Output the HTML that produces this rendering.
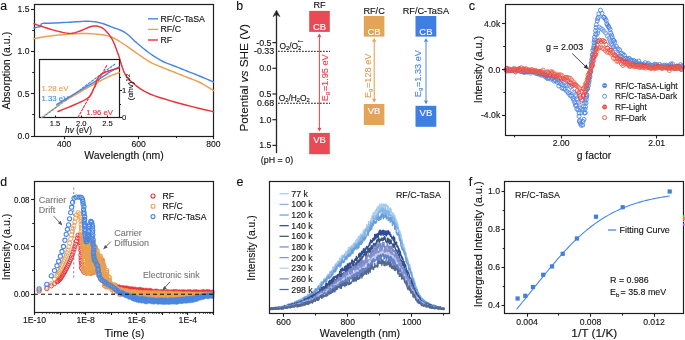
<!DOCTYPE html>
<html><head><meta charset="utf-8"><style>
html,body{margin:0;padding:0;background:#fff;}
svg{display:block;font-family:"Liberation Sans", sans-serif;will-change:transform;}
</style></head><body>
<svg width="685" height="340" viewBox="0 0 685 340">
<rect width="685" height="340" fill="#fff"/>
<text x="0.3" y="9.6" font-size="12.3" fill="#111" stroke="#111" stroke-width="0.12">a</text>
<rect x="34.5" y="4.5" width="179.0" height="132.0" fill="none" stroke="#1e1e1e" stroke-width="1.2"/>
<line x1="31" y1="9.5" x2="34" y2="9.5" stroke="#1e1e1e" stroke-width="1.1" />
<text x="29.5" y="9.1" font-size="8.6" text-anchor="end" dominant-baseline="central" fill="#111"  stroke="#111" stroke-width="0.12">1.5</text>
<line x1="31" y1="51.5" x2="34" y2="51.5" stroke="#1e1e1e" stroke-width="1.1" />
<text x="29.5" y="51.4" font-size="8.6" text-anchor="end" dominant-baseline="central" fill="#111"  stroke="#111" stroke-width="0.12">1.0</text>
<line x1="31" y1="93.5" x2="34" y2="93.5" stroke="#1e1e1e" stroke-width="1.1" />
<text x="29.5" y="93.7" font-size="8.6" text-anchor="end" dominant-baseline="central" fill="#111"  stroke="#111" stroke-width="0.12">0.5</text>
<line x1="31" y1="136.5" x2="34" y2="136.5" stroke="#1e1e1e" stroke-width="1.1" />
<text x="29.5" y="136.0" font-size="8.6" text-anchor="end" dominant-baseline="central" fill="#111"  stroke="#111" stroke-width="0.12">0.0</text>
<line x1="32.2" y1="30.5" x2="34" y2="30.5" stroke="#1e1e1e" stroke-width="1.1" />
<line x1="32.2" y1="72.5" x2="34" y2="72.5" stroke="#1e1e1e" stroke-width="1.1" />
<line x1="32.2" y1="114.5" x2="34" y2="114.5" stroke="#1e1e1e" stroke-width="1.1" />
<line x1="64.5" y1="136.2" x2="64.5" y2="139.2" stroke="#1e1e1e" stroke-width="1.1" />
<text x="64.2" y="143.5" font-size="8.6" text-anchor="middle" dominant-baseline="central" fill="#111"  stroke="#111" stroke-width="0.12">400</text>
<line x1="138.5" y1="136.2" x2="138.5" y2="139.2" stroke="#1e1e1e" stroke-width="1.1" />
<text x="138.6" y="143.5" font-size="8.6" text-anchor="middle" dominant-baseline="central" fill="#111"  stroke="#111" stroke-width="0.12">600</text>
<line x1="213.5" y1="136.2" x2="213.5" y2="139.2" stroke="#1e1e1e" stroke-width="1.1" />
<text x="213.4" y="143.5" font-size="8.6" text-anchor="middle" dominant-baseline="central" fill="#111"  stroke="#111" stroke-width="0.12">800</text>
<line x1="101.5" y1="136.2" x2="101.5" y2="138.0" stroke="#1e1e1e" stroke-width="1.1" />
<line x1="176.5" y1="136.2" x2="176.5" y2="138.0" stroke="#1e1e1e" stroke-width="1.1" />
<text x="124" y="155" font-size="10.5" text-anchor="middle" dominant-baseline="central" fill="#111"  stroke="#111" stroke-width="0.12">Wavelength (nm)</text>
<text x="5.8" y="70.7" font-size="10.5" text-anchor="middle" dominant-baseline="central" fill="#111" transform="rotate(-90 5.8 70.7)"  stroke="#111" stroke-width="0.12">Absorption (a.u.)</text>
<path d="M34.00,38.80 L35.58,38.49 L37.63,38.06 L40.12,37.56 L43.04,37.01 L46.34,36.48 L50.00,36.00 L54.31,35.53 L59.33,35.01 L64.75,34.51 L70.22,34.06 L75.42,33.71 L80.00,33.50 L84.00,33.44 L87.69,33.50 L91.09,33.66 L94.26,33.89 L97.22,34.18 L100.00,34.50 L102.52,34.83 L104.72,35.19 L106.72,35.59 L108.61,36.09 L110.50,36.72 L112.50,37.50 L114.58,38.48 L116.67,39.62 L118.75,40.89 L120.83,42.24 L122.92,43.63 L125.00,45.00 L127.08,46.39 L129.17,47.84 L131.25,49.33 L133.33,50.82 L135.42,52.31 L137.50,53.75 L139.58,55.19 L141.67,56.64 L143.75,58.08 L145.83,59.47 L147.92,60.79 L150.00,62.00 L152.08,63.08 L154.17,64.06 L156.25,64.95 L158.33,65.81 L160.42,66.64 L162.50,67.50 L164.58,68.36 L166.67,69.20 L168.75,70.03 L170.83,70.85 L172.92,71.67 L175.00,72.50 L177.08,73.33 L179.17,74.17 L181.25,75.00 L183.33,75.83 L185.42,76.67 L187.50,77.50 L189.57,78.30 L191.63,79.05 L193.68,79.81 L195.75,80.60 L197.85,81.49 L200.00,82.50 L202.36,83.76 L204.96,85.27 L207.58,86.86 L210.03,88.39 L212.11,89.68 L213.60,90.60" fill="none" stroke="#e9a050" stroke-width="1.45" stroke-linejoin="round" stroke-linecap="round" />
<path d="M34.00,28.00 L34.45,27.89 L35.09,27.72 L35.84,27.53 L36.63,27.33 L37.37,27.15 L38.00,27.00 L38.52,26.92 L38.98,26.89 L39.41,26.87 L39.80,26.83 L40.16,26.72 L40.50,26.50 L40.73,26.13 L40.83,25.62 L40.91,25.04 L41.06,24.47 L41.39,23.97 L42.00,23.60 L42.82,23.40 L43.74,23.30 L44.84,23.28 L46.20,23.29 L47.90,23.27 L50.00,23.20 L52.70,23.07 L55.96,22.91 L59.56,22.73 L63.26,22.55 L66.82,22.37 L70.00,22.20 L72.85,22.03 L75.56,21.84 L78.12,21.66 L80.56,21.49 L82.85,21.37 L85.00,21.30 L86.97,21.28 L88.74,21.30 L90.38,21.36 L91.93,21.46 L93.45,21.60 L95.00,21.80 L96.56,22.06 L98.09,22.37 L99.59,22.73 L101.07,23.12 L102.54,23.55 L104.00,24.00 L105.40,24.46 L106.72,24.95 L108.03,25.46 L109.39,26.02 L110.86,26.63 L112.50,27.30 L114.35,27.99 L116.37,28.68 L118.50,29.42 L120.69,30.27 L122.87,31.28 L125.00,32.50 L127.08,34.01 L129.17,35.77 L131.25,37.70 L133.33,39.69 L135.42,41.66 L137.50,43.50 L139.58,45.25 L141.67,46.99 L143.75,48.70 L145.83,50.37 L147.92,51.98 L150.00,53.50 L152.08,54.95 L154.17,56.35 L156.25,57.69 L158.33,58.95 L160.42,60.14 L162.50,61.25 L164.58,62.24 L166.67,63.12 L168.75,63.92 L170.83,64.69 L172.92,65.45 L175.00,66.25 L177.08,67.08 L179.17,67.92 L181.25,68.75 L183.33,69.58 L185.42,70.42 L187.50,71.25 L189.57,72.07 L191.63,72.89 L193.68,73.70 L195.75,74.53 L197.85,75.37 L200.00,76.25 L202.36,77.23 L204.96,78.32 L207.58,79.44 L210.03,80.48 L212.11,81.37 L213.60,82.00" fill="none" stroke="#4a86e0" stroke-width="1.45" stroke-linejoin="round" stroke-linecap="round" />
<path d="M34.00,23.80 L34.81,24.08 L35.89,24.45 L37.19,24.90 L38.67,25.40 L40.28,25.94 L42.00,26.50 L43.85,27.10 L45.89,27.78 L48.06,28.49 L50.33,29.20 L52.66,29.88 L55.00,30.50 L57.44,31.11 L60.04,31.74 L62.69,32.35 L65.30,32.87 L67.77,33.24 L70.00,33.40 L71.93,33.33 L73.63,33.08 L75.19,32.68 L76.70,32.17 L78.28,31.60 L80.00,31.00 L81.93,30.27 L84.00,29.37 L86.12,28.40 L88.22,27.47 L90.21,26.70 L92.00,26.20 L93.59,25.97 L95.04,25.93 L96.38,26.05 L97.63,26.29 L98.83,26.62 L100.00,27.00 L101.11,27.42 L102.13,27.91 L103.09,28.49 L104.04,29.18 L104.99,30.01 L106.00,31.00 L107.07,32.16 L108.17,33.46 L109.28,34.89 L110.39,36.47 L111.47,38.17 L112.50,40.00 L113.46,41.93 L114.35,43.97 L115.22,46.14 L116.09,48.47 L117.01,50.98 L118.00,53.70 L119.05,56.81 L120.11,60.33 L121.22,64.04 L122.39,67.70 L123.64,71.10 L125.00,74.00 L126.44,76.36 L127.93,78.33 L129.50,80.04 L131.19,81.59 L133.01,83.11 L135.00,84.70 L137.04,86.33 L139.07,87.90 L141.25,89.43 L143.70,90.94 L146.57,92.45 L150.00,94.00 L154.09,95.59 L158.76,97.20 L163.84,98.81 L169.18,100.41 L174.62,101.98 L180.00,103.50 L185.78,105.05 L192.18,106.66 L198.68,108.24 L204.76,109.69 L209.90,110.91 L213.60,111.80" fill="none" stroke="#e8333c" stroke-width="1.45" stroke-linejoin="round" stroke-linecap="round" />
<line x1="148" y1="18.8" x2="158" y2="18.8" stroke="#4a86e0" stroke-width="1.4" />
<text x="160.5" y="18.8" font-size="8.8" text-anchor="start" dominant-baseline="central" fill="#111"  stroke="#111" stroke-width="0.12">RF/C-TaSA</text>
<line x1="148" y1="29.4" x2="158" y2="29.4" stroke="#e9a050" stroke-width="1.4" />
<text x="160.5" y="29.4" font-size="8.8" text-anchor="start" dominant-baseline="central" fill="#111"  stroke="#111" stroke-width="0.12">RF/C</text>
<line x1="148" y1="40.0" x2="158" y2="40.0" stroke="#e8333c" stroke-width="1.4" />
<text x="160.5" y="40.0" font-size="8.8" text-anchor="start" dominant-baseline="central" fill="#111"  stroke="#111" stroke-width="0.12">RF</text>
<rect x="39.5" y="59.5" width="80.0" height="58.0" fill="#fff" stroke="#1e1e1e" stroke-width="1.2"/>
<line x1="55.5" y1="117.5" x2="55.5" y2="115.5" stroke="#1e1e1e" stroke-width="1.1" />
<text x="55" y="123" font-size="7.6" text-anchor="middle" dominant-baseline="central" fill="#111"  stroke="#111" stroke-width="0.12">1.5</text>
<line x1="81.5" y1="117.5" x2="81.5" y2="115.5" stroke="#1e1e1e" stroke-width="1.1" />
<text x="81.25" y="123" font-size="7.6" text-anchor="middle" dominant-baseline="central" fill="#111"  stroke="#111" stroke-width="0.12">2.0</text>
<line x1="107.5" y1="117.5" x2="107.5" y2="115.5" stroke="#1e1e1e" stroke-width="1.1" />
<text x="107.5" y="123" font-size="7.6" text-anchor="middle" dominant-baseline="central" fill="#111"  stroke="#111" stroke-width="0.12">2.5</text>
<line x1="119.5" y1="117.5" x2="122.0" y2="117.5" stroke="#1e1e1e" stroke-width="1.1" />
<text x="122" y="117.5" font-size="7.6" text-anchor="start" dominant-baseline="central" fill="#111"  stroke="#111" stroke-width="0.12">0</text>
<line x1="119.5" y1="90.5" x2="122.0" y2="90.5" stroke="#1e1e1e" stroke-width="1.1" />
<text x="122" y="90.5" font-size="7.6" text-anchor="start" dominant-baseline="central" fill="#111"  stroke="#111" stroke-width="0.12">1</text>
<line x1="119.5" y1="104.5" x2="121.0" y2="104.5" stroke="#1e1e1e" stroke-width="1.1" />
<line x1="119.5" y1="77.5" x2="121.0" y2="77.5" stroke="#1e1e1e" stroke-width="1.1" />
<text x="78.5" y="129.5" font-size="8.4" text-anchor="middle" dominant-baseline="central" fill="#111" stroke="#111" stroke-width="0.12"><tspan font-style="italic">hv</tspan> (eV)</text>
<text x="130.6" y="87" font-size="8.1" text-anchor="middle" dominant-baseline="central" fill="#111" transform="rotate(-90 130.6 87)" stroke="#111" stroke-width="0.12">(αhv)<tspan font-size="5.5" dy="-3">1/2</tspan></text>
<path d="M41.50,117.40 L58.00,105.50" fill="none" stroke="#e9a050" stroke-width="1.1" stroke-linejoin="round" stroke-linecap="round" stroke-dasharray="2.2,1.6"/>
<path d="M42.70,117.40 L116.00,63.30" fill="none" stroke="#4a86e0" stroke-width="1.1" stroke-linejoin="round" stroke-linecap="round" stroke-dasharray="2.2,1.6"/>
<path d="M78.00,117.40 L107.40,64.40" fill="none" stroke="#e8333c" stroke-width="1.1" stroke-linejoin="round" stroke-linecap="round" stroke-dasharray="2.2,1.6"/>
<path d="M56.80,105.60 L59.36,104.09 L62.93,101.98 L67.15,99.49 L71.64,96.84 L76.05,94.27 L80.00,92.00 L83.63,89.95 L87.27,87.92 L90.83,85.96 L94.19,84.13 L97.28,82.46 L100.00,81.00 L102.25,79.80 L104.10,78.83 L105.67,78.02 L107.10,77.33 L108.50,76.67 L110.00,76.00 L111.69,75.30 L113.47,74.62 L115.22,73.99 L116.84,73.42 L118.21,72.95 L119.20,72.60" fill="none" stroke="#e9a050" stroke-width="1.45" stroke-linejoin="round" stroke-linecap="round" />
<path d="M56.80,104.40 L59.36,102.87 L62.93,100.73 L67.15,98.20 L71.64,95.51 L76.05,92.87 L80.00,90.50 L83.63,88.33 L87.27,86.16 L90.83,84.04 L94.19,82.02 L97.28,80.16 L100.00,78.50 L102.25,77.08 L104.10,75.88 L105.67,74.83 L107.10,73.87 L108.50,72.94 L110.00,72.00 L111.69,71.00 L113.47,69.98 L115.22,68.99 L116.84,68.10 L118.21,67.35 L119.20,66.80" fill="none" stroke="#4a86e0" stroke-width="1.45" stroke-linejoin="round" stroke-linecap="round" />
<path d="M58.00,111.50 L59.89,110.74 L62.53,109.69 L65.65,108.44 L68.96,107.10 L72.17,105.75 L75.00,104.50 L77.56,103.35 L80.09,102.23 L82.53,101.10 L84.80,99.94 L86.85,98.72 L88.60,97.40 L89.98,95.99 L91.01,94.53 L91.82,92.99 L92.52,91.40 L93.21,89.73 L94.00,88.00 L94.83,86.10 L95.59,84.00 L96.35,81.84 L97.16,79.73 L98.09,77.81 L99.20,76.20 L100.51,74.93 L101.98,73.90 L103.56,73.05 L105.22,72.33 L106.92,71.66 L108.60,71.00 L110.42,70.34 L112.44,69.73 L114.49,69.17 L116.41,68.70 L118.03,68.30 L119.20,68.00" fill="none" stroke="#e8333c" stroke-width="1.45" stroke-linejoin="round" stroke-linecap="round" />
<text x="41.5" y="88.4" font-size="7.8" text-anchor="start" dominant-baseline="central" fill="#e9a050"  stroke="#e9a050" stroke-width="0.12">1.28 eV</text>
<text x="41.5" y="98.5" font-size="7.8" text-anchor="start" dominant-baseline="central" fill="#4a86e0"  stroke="#4a86e0" stroke-width="0.12">1.33 eV</text>
<text x="86.2" y="112.2" font-size="7.8" text-anchor="start" dominant-baseline="central" fill="#e8333c"  stroke="#e8333c" stroke-width="0.12">1.96 eV</text>
<text x="236.3" y="9.7" font-size="12.3" fill="#111" stroke="#111" stroke-width="0.12">b</text>
<line x1="276.5" y1="153.2" x2="276.5" y2="13" stroke="#2b2323" stroke-width="1.3" />
<path d="M276.5,10.2 L279.9,16.6 L276.5,14.6 L273.1,16.6 Z" fill="#2b2323" stroke="#2b2323" stroke-width="0.6" stroke-linejoin="round"/>
<line x1="272.4" y1="42.599999999999994" x2="276.5" y2="42.599999999999994" stroke="#2b2323" stroke-width="1.2" />
<text x="271.5" y="42.599999999999994" font-size="8.9" text-anchor="end" dominant-baseline="central" fill="#111"  stroke="#111" stroke-width="0.12">-0.5</text>
<line x1="272.4" y1="68.3" x2="276.5" y2="68.3" stroke="#2b2323" stroke-width="1.2" />
<text x="271.5" y="68.3" font-size="8.9" text-anchor="end" dominant-baseline="central" fill="#111"  stroke="#111" stroke-width="0.12">0.0</text>
<line x1="272.4" y1="94.0" x2="276.5" y2="94.0" stroke="#2b2323" stroke-width="1.2" />
<text x="271.5" y="94.0" font-size="8.9" text-anchor="end" dominant-baseline="central" fill="#111"  stroke="#111" stroke-width="0.12">0.5</text>
<line x1="272.4" y1="119.69999999999999" x2="276.5" y2="119.69999999999999" stroke="#2b2323" stroke-width="1.2" />
<text x="271.5" y="119.69999999999999" font-size="8.9" text-anchor="end" dominant-baseline="central" fill="#111"  stroke="#111" stroke-width="0.12">1.0</text>
<line x1="272.4" y1="145.39999999999998" x2="276.5" y2="145.39999999999998" stroke="#2b2323" stroke-width="1.2" />
<text x="271.5" y="145.39999999999998" font-size="8.9" text-anchor="end" dominant-baseline="central" fill="#111"  stroke="#111" stroke-width="0.12">1.5</text>
<text x="274.2" y="51.337999999999994" font-size="8.9" text-anchor="end" dominant-baseline="central" fill="#111"  stroke="#111" stroke-width="0.12">-0.33</text>
<text x="274.2" y="103.252" font-size="8.9" text-anchor="end" dominant-baseline="central" fill="#111"  stroke="#111" stroke-width="0.12">0.68</text>
<line x1="278" y1="51.337999999999994" x2="330" y2="51.337999999999994" stroke="#222" stroke-width="1.0" stroke-dasharray="1.8,1.2"/>
<line x1="278" y1="103.252" x2="330" y2="103.252" stroke="#222" stroke-width="1.0" stroke-dasharray="1.8,1.2"/>
<text x="279.4" y="45.6" font-size="8.4" dominant-baseline="central" fill="#111" stroke="#111" stroke-width="0.12">O<tspan font-size="5.8" dy="2">2</tspan><tspan dy="-2">/O</tspan><tspan font-size="5.8" dy="2">2</tspan><tspan font-size="6" dx="-3.4" dy="-6.2">•−</tspan></text>
<text x="278.7" y="98" font-size="8.4" dominant-baseline="central" fill="#111" stroke="#111" stroke-width="0.12">O<tspan font-size="5.8" dy="2">2</tspan><tspan dy="-2">/H</tspan><tspan font-size="5.8" dy="2">2</tspan><tspan dy="-2">O</tspan><tspan font-size="5.8" dy="2">2</tspan></text>
<text x="277" y="159.8" font-size="8.9" text-anchor="middle" dominant-baseline="central" fill="#111"  stroke="#111" stroke-width="0.12">(pH = 0)</text>
<text x="244.3" y="77.8" font-size="11.8" text-anchor="middle" dominant-baseline="central" fill="#111" transform="rotate(-90 244.3 77.8)"  stroke="#111" stroke-width="0.12">Potential <tspan font-style="italic">vs</tspan> SHE (V)</text>
<text x="319.5" y="5.3" font-size="9.2" text-anchor="middle" dominant-baseline="central" fill="#111"  stroke="#111" stroke-width="0.12">RF</text>
<rect x="309.2" y="10.9" width="20.600000000000023" height="21.0" fill="#e94a56"/>
<rect x="309.2" y="132.9" width="20.600000000000023" height="21.299999999999983" fill="#e94a56"/>
<text x="319.5" y="26.1" font-size="9.5" text-anchor="middle" dominant-baseline="central" fill="#fff"  stroke="#fff" stroke-width="0.12">CB</text>
<text x="319.5" y="139.5" font-size="9.5" text-anchor="middle" dominant-baseline="central" fill="#fff"  stroke="#fff" stroke-width="0.12">VB</text>
<line x1="319.4" y1="35.4" x2="319.4" y2="129.4" stroke="#e8414c" stroke-width="1.0" />
<path d="M319.4,33.4 L321.59999999999997,37.4 L319.4,36.6 L317.2,37.4 Z" fill="#e8414c"/>
<path d="M319.4,131.4 L321.59999999999997,127.4 L319.4,128.20000000000002 L317.2,127.4 Z" fill="#e8414c"/>
<text x="325.4" y="77.8" font-size="9.2" text-anchor="middle" dominant-baseline="central" fill="#e8414c" transform="rotate(-90 325.4 77.8)" stroke="#e8414c" stroke-width="0.12">E<tspan font-size="6" dy="2">g</tspan><tspan dx="0.6" dy="-2">=1.95 eV</tspan></text>
<text x="374.1" y="10.5" font-size="9.2" text-anchor="middle" dominant-baseline="central" fill="#111"  stroke="#111" stroke-width="0.12">RF/C</text>
<rect x="363.8" y="16" width="20.599999999999966" height="20.6" fill="#e3a458"/>
<rect x="363.8" y="104" width="20.599999999999966" height="21" fill="#e3a458"/>
<text x="374.1" y="31.2" font-size="9.5" text-anchor="middle" dominant-baseline="central" fill="#fff"  stroke="#fff" stroke-width="0.12">CB</text>
<text x="374.1" y="110.6" font-size="9.5" text-anchor="middle" dominant-baseline="central" fill="#fff"  stroke="#fff" stroke-width="0.12">VB</text>
<line x1="374.2" y1="40.1" x2="374.2" y2="100.5" stroke="#e39c4a" stroke-width="1.0" />
<path d="M374.2,38.1 L376.4,42.1 L374.2,41.300000000000004 L372.0,42.1 Z" fill="#e39c4a"/>
<path d="M374.2,102.5 L376.4,98.5 L374.2,99.3 L372.0,98.5 Z" fill="#e39c4a"/>
<text x="367.7" y="75.8" font-size="9.2" text-anchor="middle" dominant-baseline="central" fill="#e39c4a" transform="rotate(-90 367.7 75.8)" stroke="#e39c4a" stroke-width="0.12">E<tspan font-size="6" dy="2">g</tspan><tspan dx="0.6" dy="-2">=128 eV</tspan></text>
<text x="425.9" y="10.5" font-size="9.2" text-anchor="middle" dominant-baseline="central" fill="#111"  stroke="#111" stroke-width="0.12">RF/C-TaSA</text>
<rect x="415.5" y="16" width="20.80000000000001" height="20.6" fill="#3f7fe4"/>
<rect x="415.5" y="105.8" width="20.80000000000001" height="21.0" fill="#3f7fe4"/>
<text x="425.9" y="31.2" font-size="9.5" text-anchor="middle" dominant-baseline="central" fill="#fff"  stroke="#fff" stroke-width="0.12">CB</text>
<text x="425.9" y="112.39999999999999" font-size="9.5" text-anchor="middle" dominant-baseline="central" fill="#fff"  stroke="#fff" stroke-width="0.12">VB</text>
<line x1="426.0" y1="40.1" x2="426.0" y2="102.3" stroke="#4a86e6" stroke-width="1.0" />
<path d="M426.0,38.1 L428.2,42.1 L426.0,41.300000000000004 L423.8,42.1 Z" fill="#4a86e6"/>
<path d="M426.0,104.3 L428.2,100.3 L426.0,101.1 L423.8,100.3 Z" fill="#4a86e6"/>
<text x="418.2" y="73.6" font-size="9.2" text-anchor="middle" dominant-baseline="central" fill="#4a86e6" transform="rotate(-90 418.2 73.6)" stroke="#4a86e6" stroke-width="0.12">E<tspan font-size="6" dy="2">g</tspan><tspan dx="0.6" dy="-2">=1.33 eV</tspan></text>
<text x="468.7" y="9.7" font-size="12.8" fill="#111" stroke="#111" stroke-width="0.12">c</text>
<g fill="none" stroke="#4a82e2" stroke-width="0.9"><circle cx="506.0" cy="70.1" r="2.0"/><circle cx="507.6" cy="71.2" r="2.0"/><circle cx="509.2" cy="69.0" r="2.0"/><circle cx="510.8" cy="70.9" r="2.0"/><circle cx="512.4" cy="69.7" r="2.0"/><circle cx="514.0" cy="69.7" r="2.0"/><circle cx="515.6" cy="72.0" r="2.0"/><circle cx="517.2" cy="70.3" r="2.0"/><circle cx="518.8" cy="70.3" r="2.0"/><circle cx="520.4" cy="71.3" r="2.0"/><circle cx="522.0" cy="71.9" r="2.0"/><circle cx="523.6" cy="71.0" r="2.0"/><circle cx="525.2" cy="71.9" r="2.0"/><circle cx="526.8" cy="70.6" r="2.0"/><circle cx="528.4" cy="71.5" r="2.0"/><circle cx="530.0" cy="71.7" r="2.0"/><circle cx="531.6" cy="71.2" r="2.0"/><circle cx="533.2" cy="71.3" r="2.0"/><circle cx="534.8" cy="71.6" r="2.0"/><circle cx="536.4" cy="73.4" r="2.0"/><circle cx="538.0" cy="73.9" r="2.0"/><circle cx="539.6" cy="74.2" r="2.0"/><circle cx="541.2" cy="75.1" r="2.0"/><circle cx="542.8" cy="74.3" r="2.0"/><circle cx="544.4" cy="76.2" r="2.0"/><circle cx="546.0" cy="77.3" r="2.0"/><circle cx="547.6" cy="78.6" r="2.0"/><circle cx="549.2" cy="77.9" r="2.0"/><circle cx="550.8" cy="79.2" r="2.0"/><circle cx="552.4" cy="78.6" r="2.0"/><circle cx="554.0" cy="81.1" r="2.0"/><circle cx="555.6" cy="80.5" r="2.0"/><circle cx="557.2" cy="82.3" r="2.0"/><circle cx="558.8" cy="86.0" r="2.0"/><circle cx="560.4" cy="83.8" r="2.0"/><circle cx="562.0" cy="88.0" r="2.0"/><circle cx="563.6" cy="88.7" r="2.0"/><circle cx="565.2" cy="89.3" r="2.0"/><circle cx="566.8" cy="91.4" r="2.0"/><circle cx="568.4" cy="93.0" r="2.0"/><circle cx="570.0" cy="95.3" r="2.0"/><circle cx="571.6" cy="96.2" r="2.0"/><circle cx="573.2" cy="98.5" r="2.0"/><circle cx="573.8" cy="100.4" r="2.0"/><circle cx="574.8" cy="102.6" r="2.0"/><circle cx="575.4" cy="105.4" r="2.0"/><circle cx="576.4" cy="105.2" r="2.0"/><circle cx="576.9" cy="109.0" r="2.0"/><circle cx="578.0" cy="109.9" r="2.0"/><circle cx="579.1" cy="113.1" r="2.0"/><circle cx="579.0" cy="116.3" r="2.0"/><circle cx="579.6" cy="120.5" r="2.0"/><circle cx="579.5" cy="121.7" r="2.0"/><circle cx="580.4" cy="123.5" r="2.0"/><circle cx="581.2" cy="125.3" r="2.0"/><circle cx="582.8" cy="125.1" r="2.0"/><circle cx="583.0" cy="121.4" r="2.0"/><circle cx="584.0" cy="119.4" r="2.0"/><circle cx="584.4" cy="113.0" r="2.0"/><circle cx="585.3" cy="112.8" r="2.0"/><circle cx="585.1" cy="109.3" r="2.0"/><circle cx="585.5" cy="106.8" r="2.0"/><circle cx="586.0" cy="103.0" r="2.0"/><circle cx="586.3" cy="99.7" r="2.0"/><circle cx="586.7" cy="96.7" r="2.0"/><circle cx="586.9" cy="94.9" r="2.0"/><circle cx="587.6" cy="88.9" r="2.0"/><circle cx="586.9" cy="88.2" r="2.0"/><circle cx="588.4" cy="85.8" r="2.0"/><circle cx="588.7" cy="82.9" r="2.0"/><circle cx="589.2" cy="80.7" r="2.0"/><circle cx="589.9" cy="77.4" r="2.0"/><circle cx="589.9" cy="75.8" r="2.0"/><circle cx="590.6" cy="71.6" r="2.0"/><circle cx="590.8" cy="71.6" r="2.0"/><circle cx="591.4" cy="65.8" r="2.0"/><circle cx="591.2" cy="63.1" r="2.0"/><circle cx="591.8" cy="59.3" r="2.0"/><circle cx="592.4" cy="55.4" r="2.0"/><circle cx="592.6" cy="54.5" r="2.0"/><circle cx="592.9" cy="50.4" r="2.0"/><circle cx="593.6" cy="48.4" r="2.0"/><circle cx="593.9" cy="46.2" r="2.0"/><circle cx="594.0" cy="42.6" r="2.0"/><circle cx="594.4" cy="39.8" r="2.0"/><circle cx="594.5" cy="37.2" r="2.0"/><circle cx="595.6" cy="34.0" r="2.0"/><circle cx="595.6" cy="30.7" r="2.0"/><circle cx="596.1" cy="27.5" r="2.0"/><circle cx="596.4" cy="24.6" r="2.0"/><circle cx="597.2" cy="20.9" r="2.0"/><circle cx="597.6" cy="18.7" r="2.0"/><circle cx="598.4" cy="17.3" r="2.0"/><circle cx="598.8" cy="13.9" r="2.0"/><circle cx="600.4" cy="10.2" r="2.0"/><circle cx="602.0" cy="13.4" r="2.0"/><circle cx="603.6" cy="17.2" r="2.0"/><circle cx="604.2" cy="17.4" r="2.0"/><circle cx="605.2" cy="18.7" r="2.0"/><circle cx="606.2" cy="20.5" r="2.0"/><circle cx="606.8" cy="23.7" r="2.0"/><circle cx="607.5" cy="25.0" r="2.0"/><circle cx="608.4" cy="26.3" r="2.0"/><circle cx="609.1" cy="27.6" r="2.0"/><circle cx="610.0" cy="29.6" r="2.0"/><circle cx="610.7" cy="32.8" r="2.0"/><circle cx="611.6" cy="35.0" r="2.0"/><circle cx="612.2" cy="37.1" r="2.0"/><circle cx="613.2" cy="40.0" r="2.0"/><circle cx="614.0" cy="40.6" r="2.0"/><circle cx="614.8" cy="42.2" r="2.0"/><circle cx="616.4" cy="46.4" r="2.0"/><circle cx="618.0" cy="48.8" r="2.0"/><circle cx="619.6" cy="49.8" r="2.0"/><circle cx="621.2" cy="53.1" r="2.0"/><circle cx="622.8" cy="54.0" r="2.0"/><circle cx="624.4" cy="55.2" r="2.0"/><circle cx="626.0" cy="58.4" r="2.0"/><circle cx="627.6" cy="59.0" r="2.0"/><circle cx="629.2" cy="58.3" r="2.0"/><circle cx="630.8" cy="59.9" r="2.0"/><circle cx="632.4" cy="61.0" r="2.0"/><circle cx="634.0" cy="60.5" r="2.0"/><circle cx="635.6" cy="61.7" r="2.0"/><circle cx="637.2" cy="63.0" r="2.0"/><circle cx="638.8" cy="61.1" r="2.0"/><circle cx="640.4" cy="63.6" r="2.0"/><circle cx="642.0" cy="64.4" r="2.0"/><circle cx="643.6" cy="64.4" r="2.0"/><circle cx="645.2" cy="62.7" r="2.0"/><circle cx="646.8" cy="64.6" r="2.0"/><circle cx="648.4" cy="63.5" r="2.0"/><circle cx="650.0" cy="65.1" r="2.0"/><circle cx="651.6" cy="65.3" r="2.0"/><circle cx="653.2" cy="65.0" r="2.0"/><circle cx="654.8" cy="64.2" r="2.0"/><circle cx="656.4" cy="64.5" r="2.0"/><circle cx="658.0" cy="66.0" r="2.0"/><circle cx="659.6" cy="64.4" r="2.0"/><circle cx="661.2" cy="65.9" r="2.0"/><circle cx="662.8" cy="66.0" r="2.0"/><circle cx="664.4" cy="65.3" r="2.0"/><circle cx="666.0" cy="68.1" r="2.0"/><circle cx="667.6" cy="65.9" r="2.0"/><circle cx="669.2" cy="68.0" r="2.0"/><circle cx="670.8" cy="64.0" r="2.0"/><circle cx="672.4" cy="63.9" r="2.0"/><circle cx="674.0" cy="67.2" r="2.0"/><circle cx="675.6" cy="66.9" r="2.0"/><circle cx="677.2" cy="66.1" r="2.0"/><circle cx="678.8" cy="66.4" r="2.0"/><circle cx="680.4" cy="64.7" r="2.0"/><circle cx="682.0" cy="66.0" r="2.0"/></g>
<g fill="none" stroke="#5b8fe4" stroke-width="0.8"><circle cx="506.4" cy="68.8" r="2.0"/><circle cx="508.1" cy="69.6" r="2.0"/><circle cx="509.7" cy="70.7" r="2.0"/><circle cx="511.3" cy="69.9" r="2.0"/><circle cx="512.9" cy="70.2" r="2.0"/><circle cx="514.5" cy="69.2" r="2.0"/><circle cx="516.1" cy="69.5" r="2.0"/><circle cx="517.7" cy="70.1" r="2.0"/><circle cx="519.3" cy="69.9" r="2.0"/><circle cx="520.9" cy="71.6" r="2.0"/><circle cx="522.5" cy="69.6" r="2.0"/><circle cx="524.1" cy="72.6" r="2.0"/><circle cx="525.7" cy="69.9" r="2.0"/><circle cx="527.3" cy="72.2" r="2.0"/><circle cx="528.9" cy="70.5" r="2.0"/><circle cx="530.5" cy="73.2" r="2.0"/><circle cx="532.1" cy="71.9" r="2.0"/><circle cx="533.7" cy="72.4" r="2.0"/><circle cx="535.3" cy="73.1" r="2.0"/><circle cx="536.9" cy="72.0" r="2.0"/><circle cx="538.5" cy="71.9" r="2.0"/><circle cx="540.1" cy="71.3" r="2.0"/><circle cx="541.7" cy="74.9" r="2.0"/><circle cx="543.3" cy="73.5" r="2.0"/><circle cx="544.9" cy="74.1" r="2.0"/><circle cx="546.5" cy="75.2" r="2.0"/><circle cx="548.1" cy="77.8" r="2.0"/><circle cx="549.7" cy="74.7" r="2.0"/><circle cx="551.3" cy="77.4" r="2.0"/><circle cx="552.9" cy="77.5" r="2.0"/><circle cx="554.5" cy="79.2" r="2.0"/><circle cx="556.1" cy="77.6" r="2.0"/><circle cx="557.7" cy="79.8" r="2.0"/><circle cx="559.3" cy="81.9" r="2.0"/><circle cx="560.9" cy="83.5" r="2.0"/><circle cx="562.5" cy="84.4" r="2.0"/><circle cx="564.1" cy="82.8" r="2.0"/><circle cx="565.7" cy="84.7" r="2.0"/><circle cx="567.3" cy="85.5" r="2.0"/><circle cx="568.9" cy="85.4" r="2.0"/><circle cx="570.5" cy="86.7" r="2.0"/><circle cx="572.1" cy="90.6" r="2.0"/><circle cx="573.7" cy="92.2" r="2.0"/><circle cx="575.3" cy="94.6" r="2.0"/><circle cx="576.4" cy="96.0" r="2.0"/><circle cx="576.9" cy="98.7" r="2.0"/><circle cx="577.7" cy="100.0" r="2.0"/><circle cx="578.5" cy="102.5" r="2.0"/><circle cx="579.3" cy="104.9" r="2.0"/><circle cx="580.1" cy="107.8" r="2.0"/><circle cx="581.4" cy="109.4" r="2.0"/><circle cx="581.7" cy="112.6" r="2.0"/><circle cx="582.6" cy="109.8" r="2.0"/><circle cx="583.3" cy="109.2" r="2.0"/><circle cx="583.5" cy="106.5" r="2.0"/><circle cx="584.1" cy="103.2" r="2.0"/><circle cx="584.9" cy="101.3" r="2.0"/><circle cx="585.6" cy="98.2" r="2.0"/><circle cx="586.2" cy="94.5" r="2.0"/><circle cx="586.5" cy="90.4" r="2.0"/><circle cx="587.1" cy="88.7" r="2.0"/><circle cx="587.2" cy="86.3" r="2.0"/><circle cx="588.1" cy="83.2" r="2.0"/><circle cx="588.3" cy="80.7" r="2.0"/><circle cx="588.7" cy="77.4" r="2.0"/><circle cx="589.7" cy="75.7" r="2.0"/><circle cx="589.7" cy="72.5" r="2.0"/><circle cx="590.3" cy="70.0" r="2.0"/><circle cx="591.3" cy="66.1" r="2.0"/><circle cx="591.8" cy="62.9" r="2.0"/><circle cx="592.2" cy="60.9" r="2.0"/><circle cx="592.9" cy="57.6" r="2.0"/><circle cx="592.8" cy="54.3" r="2.0"/><circle cx="594.2" cy="50.3" r="2.0"/><circle cx="594.5" cy="48.5" r="2.0"/><circle cx="594.7" cy="44.4" r="2.0"/><circle cx="595.9" cy="42.4" r="2.0"/><circle cx="596.1" cy="40.3" r="2.0"/><circle cx="596.5" cy="35.0" r="2.0"/><circle cx="597.7" cy="33.1" r="2.0"/><circle cx="598.0" cy="30.5" r="2.0"/><circle cx="599.3" cy="27.2" r="2.0"/><circle cx="600.9" cy="28.4" r="2.0"/><circle cx="602.5" cy="29.5" r="2.0"/><circle cx="604.1" cy="31.3" r="2.0"/><circle cx="605.7" cy="33.2" r="2.0"/><circle cx="607.3" cy="35.8" r="2.0"/><circle cx="608.9" cy="38.2" r="2.0"/><circle cx="609.8" cy="40.1" r="2.0"/><circle cx="610.5" cy="42.0" r="2.0"/><circle cx="611.1" cy="44.1" r="2.0"/><circle cx="612.1" cy="45.1" r="2.0"/><circle cx="613.3" cy="47.0" r="2.0"/><circle cx="613.7" cy="46.9" r="2.0"/><circle cx="615.3" cy="48.7" r="2.0"/><circle cx="616.9" cy="53.7" r="2.0"/><circle cx="618.5" cy="54.0" r="2.0"/><circle cx="620.1" cy="56.2" r="2.0"/><circle cx="621.7" cy="57.3" r="2.0"/><circle cx="623.3" cy="58.9" r="2.0"/><circle cx="624.9" cy="58.6" r="2.0"/><circle cx="626.5" cy="60.5" r="2.0"/><circle cx="628.1" cy="60.9" r="2.0"/><circle cx="629.7" cy="62.0" r="2.0"/><circle cx="631.3" cy="60.2" r="2.0"/><circle cx="632.9" cy="63.9" r="2.0"/><circle cx="634.5" cy="63.8" r="2.0"/><circle cx="636.1" cy="62.2" r="2.0"/><circle cx="637.7" cy="63.6" r="2.0"/><circle cx="639.3" cy="64.7" r="2.0"/><circle cx="640.9" cy="65.6" r="2.0"/><circle cx="642.5" cy="65.2" r="2.0"/><circle cx="644.1" cy="66.8" r="2.0"/><circle cx="645.7" cy="65.6" r="2.0"/><circle cx="647.3" cy="64.7" r="2.0"/><circle cx="648.9" cy="65.1" r="2.0"/><circle cx="650.5" cy="66.6" r="2.0"/><circle cx="652.1" cy="65.4" r="2.0"/><circle cx="653.7" cy="66.9" r="2.0"/><circle cx="655.3" cy="67.2" r="2.0"/><circle cx="656.9" cy="66.8" r="2.0"/><circle cx="658.5" cy="67.4" r="2.0"/><circle cx="660.1" cy="66.2" r="2.0"/><circle cx="661.7" cy="66.5" r="2.0"/><circle cx="663.3" cy="66.0" r="2.0"/><circle cx="664.9" cy="66.0" r="2.0"/><circle cx="666.5" cy="65.2" r="2.0"/><circle cx="668.1" cy="66.2" r="2.0"/><circle cx="669.7" cy="65.8" r="2.0"/><circle cx="671.3" cy="65.5" r="2.0"/><circle cx="672.9" cy="67.2" r="2.0"/><circle cx="674.5" cy="67.5" r="2.0"/><circle cx="676.1" cy="66.8" r="2.0"/><circle cx="677.7" cy="68.6" r="2.0"/><circle cx="679.3" cy="68.2" r="2.0"/><circle cx="680.9" cy="68.4" r="2.0"/><circle cx="682.5" cy="66.8" r="2.0"/></g>
<g fill="none" stroke="#e8413c" stroke-width="0.9"><circle cx="506.9" cy="68.3" r="2.0"/><circle cx="508.5" cy="70.3" r="2.0"/><circle cx="510.1" cy="70.0" r="2.0"/><circle cx="511.7" cy="70.4" r="2.0"/><circle cx="513.3" cy="70.1" r="2.0"/><circle cx="514.9" cy="71.0" r="2.0"/><circle cx="516.5" cy="69.5" r="2.0"/><circle cx="518.1" cy="70.6" r="2.0"/><circle cx="519.7" cy="69.1" r="2.0"/><circle cx="521.3" cy="67.8" r="2.0"/><circle cx="522.9" cy="69.8" r="2.0"/><circle cx="524.5" cy="71.9" r="2.0"/><circle cx="526.1" cy="68.8" r="2.0"/><circle cx="527.7" cy="71.7" r="2.0"/><circle cx="529.3" cy="70.1" r="2.0"/><circle cx="530.9" cy="70.6" r="2.0"/><circle cx="532.5" cy="71.2" r="2.0"/><circle cx="534.1" cy="71.5" r="2.0"/><circle cx="535.7" cy="70.5" r="2.0"/><circle cx="537.3" cy="71.9" r="2.0"/><circle cx="538.9" cy="72.4" r="2.0"/><circle cx="540.5" cy="73.1" r="2.0"/><circle cx="542.1" cy="71.8" r="2.0"/><circle cx="543.7" cy="74.4" r="2.0"/><circle cx="545.3" cy="75.1" r="2.0"/><circle cx="546.9" cy="76.0" r="2.0"/><circle cx="548.5" cy="72.7" r="2.0"/><circle cx="550.1" cy="74.7" r="2.0"/><circle cx="551.7" cy="73.1" r="2.0"/><circle cx="553.3" cy="75.8" r="2.0"/><circle cx="554.9" cy="76.6" r="2.0"/><circle cx="556.5" cy="75.4" r="2.0"/><circle cx="558.1" cy="75.5" r="2.0"/><circle cx="559.7" cy="77.9" r="2.0"/><circle cx="561.3" cy="78.9" r="2.0"/><circle cx="562.9" cy="78.1" r="2.0"/><circle cx="564.5" cy="79.3" r="2.0"/><circle cx="566.1" cy="77.7" r="2.0"/><circle cx="567.7" cy="80.2" r="2.0"/><circle cx="569.3" cy="81.9" r="2.0"/><circle cx="570.9" cy="82.9" r="2.0"/><circle cx="572.5" cy="85.6" r="2.0"/><circle cx="574.1" cy="84.5" r="2.0"/><circle cx="575.7" cy="85.4" r="2.0"/><circle cx="577.3" cy="90.6" r="2.0"/><circle cx="578.9" cy="92.4" r="2.0"/><circle cx="579.8" cy="95.4" r="2.0"/><circle cx="580.5" cy="97.7" r="2.0"/><circle cx="582.1" cy="100.1" r="2.0"/><circle cx="583.3" cy="96.1" r="2.0"/><circle cx="583.7" cy="95.2" r="2.0"/><circle cx="585.1" cy="92.2" r="2.0"/><circle cx="585.3" cy="90.5" r="2.0"/><circle cx="586.1" cy="86.0" r="2.0"/><circle cx="586.9" cy="84.5" r="2.0"/><circle cx="588.0" cy="80.0" r="2.0"/><circle cx="588.5" cy="78.3" r="2.0"/><circle cx="588.9" cy="74.3" r="2.0"/><circle cx="590.1" cy="72.9" r="2.0"/><circle cx="590.9" cy="68.4" r="2.0"/><circle cx="591.7" cy="66.3" r="2.0"/><circle cx="592.3" cy="64.2" r="2.0"/><circle cx="593.1" cy="61.1" r="2.0"/><circle cx="593.3" cy="58.4" r="2.0"/><circle cx="593.8" cy="56.6" r="2.0"/><circle cx="594.8" cy="55.2" r="2.0"/><circle cx="594.9" cy="53.6" r="2.0"/><circle cx="595.8" cy="49.5" r="2.0"/><circle cx="596.5" cy="47.9" r="2.0"/><circle cx="597.2" cy="45.1" r="2.0"/><circle cx="598.1" cy="41.2" r="2.0"/><circle cx="599.7" cy="40.2" r="2.0"/><circle cx="601.3" cy="41.8" r="2.0"/><circle cx="602.9" cy="40.5" r="2.0"/><circle cx="604.5" cy="41.5" r="2.0"/><circle cx="606.1" cy="44.6" r="2.0"/><circle cx="607.7" cy="48.2" r="2.0"/><circle cx="609.3" cy="49.9" r="2.0"/><circle cx="610.9" cy="50.3" r="2.0"/><circle cx="612.5" cy="52.5" r="2.0"/><circle cx="614.1" cy="54.8" r="2.0"/><circle cx="615.7" cy="55.7" r="2.0"/><circle cx="617.3" cy="58.1" r="2.0"/><circle cx="618.9" cy="59.0" r="2.0"/><circle cx="620.5" cy="59.0" r="2.0"/><circle cx="622.1" cy="60.9" r="2.0"/><circle cx="623.7" cy="62.0" r="2.0"/><circle cx="625.3" cy="62.1" r="2.0"/><circle cx="626.9" cy="62.4" r="2.0"/><circle cx="628.5" cy="64.9" r="2.0"/><circle cx="630.1" cy="66.3" r="2.0"/><circle cx="631.7" cy="64.5" r="2.0"/><circle cx="633.3" cy="64.7" r="2.0"/><circle cx="634.9" cy="65.9" r="2.0"/><circle cx="636.5" cy="65.5" r="2.0"/><circle cx="638.1" cy="65.2" r="2.0"/><circle cx="639.7" cy="67.6" r="2.0"/><circle cx="641.3" cy="65.4" r="2.0"/><circle cx="642.9" cy="65.8" r="2.0"/><circle cx="644.5" cy="66.0" r="2.0"/><circle cx="646.1" cy="65.9" r="2.0"/><circle cx="647.7" cy="66.6" r="2.0"/><circle cx="649.3" cy="67.5" r="2.0"/><circle cx="650.9" cy="68.4" r="2.0"/><circle cx="652.5" cy="67.7" r="2.0"/><circle cx="654.1" cy="67.2" r="2.0"/><circle cx="655.7" cy="66.0" r="2.0"/><circle cx="657.3" cy="67.2" r="2.0"/><circle cx="658.9" cy="66.4" r="2.0"/><circle cx="660.5" cy="67.3" r="2.0"/><circle cx="662.1" cy="68.4" r="2.0"/><circle cx="663.7" cy="67.7" r="2.0"/><circle cx="665.3" cy="67.3" r="2.0"/><circle cx="666.9" cy="66.8" r="2.0"/><circle cx="668.5" cy="67.6" r="2.0"/><circle cx="670.1" cy="67.8" r="2.0"/><circle cx="671.7" cy="66.8" r="2.0"/><circle cx="673.3" cy="67.3" r="2.0"/><circle cx="674.9" cy="68.7" r="2.0"/><circle cx="676.5" cy="66.2" r="2.0"/><circle cx="678.1" cy="67.5" r="2.0"/><circle cx="679.7" cy="66.8" r="2.0"/><circle cx="681.3" cy="69.6" r="2.0"/></g>
<g fill="none" stroke="#ec5f4c" stroke-width="0.8"><circle cx="506.2" cy="70.3" r="2.0"/><circle cx="507.8" cy="70.2" r="2.0"/><circle cx="509.4" cy="70.1" r="2.0"/><circle cx="511.0" cy="70.0" r="2.0"/><circle cx="512.6" cy="70.0" r="2.0"/><circle cx="514.2" cy="68.1" r="2.0"/><circle cx="515.8" cy="70.0" r="2.0"/><circle cx="517.4" cy="70.4" r="2.0"/><circle cx="519.0" cy="68.4" r="2.0"/><circle cx="520.6" cy="70.8" r="2.0"/><circle cx="522.2" cy="70.7" r="2.0"/><circle cx="523.8" cy="68.6" r="2.0"/><circle cx="525.4" cy="69.8" r="2.0"/><circle cx="527.0" cy="70.0" r="2.0"/><circle cx="528.6" cy="69.9" r="2.0"/><circle cx="530.2" cy="71.0" r="2.0"/><circle cx="531.8" cy="69.4" r="2.0"/><circle cx="533.4" cy="70.6" r="2.0"/><circle cx="535.0" cy="71.2" r="2.0"/><circle cx="536.6" cy="71.9" r="2.0"/><circle cx="538.2" cy="71.4" r="2.0"/><circle cx="539.8" cy="71.3" r="2.0"/><circle cx="541.4" cy="72.4" r="2.0"/><circle cx="543.0" cy="70.0" r="2.0"/><circle cx="544.6" cy="73.2" r="2.0"/><circle cx="546.2" cy="72.2" r="2.0"/><circle cx="547.8" cy="71.6" r="2.0"/><circle cx="549.4" cy="72.7" r="2.0"/><circle cx="551.0" cy="71.7" r="2.0"/><circle cx="552.6" cy="71.9" r="2.0"/><circle cx="554.2" cy="74.0" r="2.0"/><circle cx="555.8" cy="74.0" r="2.0"/><circle cx="557.4" cy="75.9" r="2.0"/><circle cx="559.0" cy="74.7" r="2.0"/><circle cx="560.6" cy="74.8" r="2.0"/><circle cx="562.2" cy="75.6" r="2.0"/><circle cx="563.8" cy="78.7" r="2.0"/><circle cx="565.4" cy="77.5" r="2.0"/><circle cx="567.0" cy="77.4" r="2.0"/><circle cx="568.6" cy="77.7" r="2.0"/><circle cx="570.2" cy="78.3" r="2.0"/><circle cx="571.8" cy="80.1" r="2.0"/><circle cx="573.4" cy="81.8" r="2.0"/><circle cx="575.0" cy="83.9" r="2.0"/><circle cx="576.6" cy="85.7" r="2.0"/><circle cx="578.2" cy="86.8" r="2.0"/><circle cx="579.8" cy="88.7" r="2.0"/><circle cx="581.4" cy="91.1" r="2.0"/><circle cx="583.0" cy="88.5" r="2.0"/><circle cx="583.5" cy="89.2" r="2.0"/><circle cx="584.6" cy="86.7" r="2.0"/><circle cx="585.5" cy="83.9" r="2.0"/><circle cx="586.2" cy="82.9" r="2.0"/><circle cx="587.1" cy="79.7" r="2.0"/><circle cx="587.8" cy="77.8" r="2.0"/><circle cx="587.9" cy="75.1" r="2.0"/><circle cx="589.4" cy="72.4" r="2.0"/><circle cx="590.7" cy="71.0" r="2.0"/><circle cx="591.0" cy="68.3" r="2.0"/><circle cx="592.1" cy="65.8" r="2.0"/><circle cx="592.6" cy="65.2" r="2.0"/><circle cx="593.2" cy="61.0" r="2.0"/><circle cx="594.2" cy="57.4" r="2.0"/><circle cx="595.2" cy="55.0" r="2.0"/><circle cx="595.8" cy="54.5" r="2.0"/><circle cx="596.4" cy="52.1" r="2.0"/><circle cx="597.4" cy="49.1" r="2.0"/><circle cx="599.0" cy="48.0" r="2.0"/><circle cx="600.6" cy="47.1" r="2.0"/><circle cx="602.2" cy="48.1" r="2.0"/><circle cx="603.8" cy="48.9" r="2.0"/><circle cx="605.4" cy="50.5" r="2.0"/><circle cx="607.0" cy="52.2" r="2.0"/><circle cx="608.6" cy="52.2" r="2.0"/><circle cx="610.2" cy="53.1" r="2.0"/><circle cx="611.8" cy="54.7" r="2.0"/><circle cx="613.4" cy="58.3" r="2.0"/><circle cx="615.0" cy="58.7" r="2.0"/><circle cx="616.6" cy="61.3" r="2.0"/><circle cx="618.2" cy="61.3" r="2.0"/><circle cx="619.8" cy="61.2" r="2.0"/><circle cx="621.4" cy="63.9" r="2.0"/><circle cx="623.0" cy="65.6" r="2.0"/><circle cx="624.6" cy="64.0" r="2.0"/><circle cx="626.2" cy="63.7" r="2.0"/><circle cx="627.8" cy="64.2" r="2.0"/><circle cx="629.4" cy="66.3" r="2.0"/><circle cx="631.0" cy="65.1" r="2.0"/><circle cx="632.6" cy="65.6" r="2.0"/><circle cx="634.2" cy="66.9" r="2.0"/><circle cx="635.8" cy="66.5" r="2.0"/><circle cx="637.4" cy="66.8" r="2.0"/><circle cx="639.0" cy="66.4" r="2.0"/><circle cx="640.6" cy="66.4" r="2.0"/><circle cx="642.2" cy="67.4" r="2.0"/><circle cx="643.8" cy="67.5" r="2.0"/><circle cx="645.4" cy="68.0" r="2.0"/><circle cx="647.0" cy="66.9" r="2.0"/><circle cx="648.6" cy="67.8" r="2.0"/><circle cx="650.2" cy="68.0" r="2.0"/><circle cx="651.8" cy="67.7" r="2.0"/><circle cx="653.4" cy="68.2" r="2.0"/><circle cx="655.0" cy="68.7" r="2.0"/><circle cx="656.6" cy="68.0" r="2.0"/><circle cx="658.2" cy="67.9" r="2.0"/><circle cx="659.8" cy="66.9" r="2.0"/><circle cx="661.4" cy="68.2" r="2.0"/><circle cx="663.0" cy="67.8" r="2.0"/><circle cx="664.6" cy="67.7" r="2.0"/><circle cx="666.2" cy="67.2" r="2.0"/><circle cx="667.8" cy="68.6" r="2.0"/><circle cx="669.4" cy="70.6" r="2.0"/><circle cx="671.0" cy="68.6" r="2.0"/><circle cx="672.6" cy="68.2" r="2.0"/><circle cx="674.2" cy="68.6" r="2.0"/><circle cx="675.8" cy="67.6" r="2.0"/><circle cx="677.4" cy="68.4" r="2.0"/><circle cx="679.0" cy="67.7" r="2.0"/><circle cx="680.6" cy="67.7" r="2.0"/><circle cx="682.2" cy="68.6" r="2.0"/></g>
<rect x="505.5" y="4.5" width="178.0" height="131.0" fill="none" stroke="#1e1e1e" stroke-width="1.2"/>
<line x1="502" y1="23.5" x2="505" y2="23.5" stroke="#1e1e1e" stroke-width="1.1" />
<text x="500.3" y="23.75" font-size="8.7" text-anchor="end" dominant-baseline="central" fill="#111"  stroke="#111" stroke-width="0.12">4.0k</text>
<line x1="502" y1="69.5" x2="505" y2="69.5" stroke="#1e1e1e" stroke-width="1.1" />
<text x="500.3" y="69.5" font-size="8.7" text-anchor="end" dominant-baseline="central" fill="#111"  stroke="#111" stroke-width="0.12">0.0</text>
<line x1="502" y1="115.5" x2="505" y2="115.5" stroke="#1e1e1e" stroke-width="1.1" />
<text x="500.3" y="115.4" font-size="8.7" text-anchor="end" dominant-baseline="central" fill="#111"  stroke="#111" stroke-width="0.12">-4.0k</text>
<line x1="503.2" y1="46.5" x2="505" y2="46.5" stroke="#1e1e1e" stroke-width="1.1" />
<line x1="503.2" y1="92.5" x2="505" y2="92.5" stroke="#1e1e1e" stroke-width="1.1" />
<line x1="561.5" y1="135.5" x2="561.5" y2="138.5" stroke="#1e1e1e" stroke-width="1.1" />
<text x="561.25" y="143" font-size="8.7" text-anchor="middle" dominant-baseline="central" fill="#111"  stroke="#111" stroke-width="0.12">2.00</text>
<line x1="656.5" y1="135.5" x2="656.5" y2="138.5" stroke="#1e1e1e" stroke-width="1.1" />
<text x="656.75" y="143" font-size="8.7" text-anchor="middle" dominant-baseline="central" fill="#111"  stroke="#111" stroke-width="0.12">2.01</text>
<line x1="514.5" y1="135.5" x2="514.5" y2="137.3" stroke="#1e1e1e" stroke-width="1.1" />
<line x1="609.5" y1="135.5" x2="609.5" y2="137.3" stroke="#1e1e1e" stroke-width="1.1" />
<text x="594" y="155" font-size="10.4" text-anchor="middle" dominant-baseline="central" fill="#111"  stroke="#111" stroke-width="0.12">g factor</text>
<text x="478.2" y="69.6" font-size="10.6" text-anchor="middle" dominant-baseline="central" fill="#111" transform="rotate(-90 478.2 69.6)"  stroke="#111" stroke-width="0.12">Intensity (a.u.)</text>
<text x="545.9" y="46.75" font-size="8.9" text-anchor="start" dominant-baseline="central" fill="#111"  stroke="#111" stroke-width="0.12">g = 2.003</text>
<line x1="572.2" y1="53.5" x2="586.3" y2="67.2" stroke="#333" stroke-width="0.9" />
<path d="M588.4,69.2 L583.6,67.4 L586.6,64.3 Z" fill="#333"/>
<circle cx="604.6" cy="85.6" r="2.0" fill="#4a82e2" stroke="#4a82e2" stroke-width="1"/>
<line x1="603" y1="85.6" x2="606.2" y2="85.6" stroke="#fff" stroke-width="0.6" />
<text x="614.9" y="85.6" font-size="8.3" text-anchor="start" dominant-baseline="central" fill="#111"  stroke="#111" stroke-width="0.12">RF/C-TaSA-Light</text>
<circle cx="604.6" cy="96.27" r="2.0" fill="none" stroke="#5b8fe4" stroke-width="1"/>
<text x="614.9" y="96.27" font-size="8.3" text-anchor="start" dominant-baseline="central" fill="#111"  stroke="#111" stroke-width="0.12">RF/C-TaSA-Dark</text>
<circle cx="604.6" cy="106.94" r="2.0" fill="#e8413c" stroke="#e8413c" stroke-width="1"/>
<line x1="603" y1="106.94" x2="606.2" y2="106.94" stroke="#fff" stroke-width="0.6" />
<text x="614.9" y="106.94" font-size="8.3" text-anchor="start" dominant-baseline="central" fill="#111"  stroke="#111" stroke-width="0.12">RF-Light</text>
<circle cx="604.6" cy="117.60999999999999" r="2.0" fill="none" stroke="#ec5f4c" stroke-width="1"/>
<text x="614.9" y="117.60999999999999" font-size="8.3" text-anchor="start" dominant-baseline="central" fill="#111"  stroke="#111" stroke-width="0.12">RF-Dark</text>
<text x="0.2" y="185.6" font-size="12.3" fill="#111" stroke="#111" stroke-width="0.12">d</text>
<line x1="73.75" y1="187.5" x2="73.75" y2="279.5" stroke="#888" stroke-width="1.0" stroke-dasharray="2.2,2.2"/>
<path d="M116.0,283.5 L117.2,284.5 L118.4,284.9 L119.6,284.7 L120.8,285.6 L122.0,285.7 L123.2,285.5 L124.4,285.8 L125.6,285.9 L126.8,285.8 L128.0,286.2 L129.2,286.4 L130.4,286.7 L131.6,286.8 L132.8,286.8 L134.0,287.2 L135.2,286.9 L136.4,287.4 L137.6,287.6 L138.8,287.4 L140.0,287.2 L141.2,287.5 L142.4,287.9 L143.6,288.1 L144.8,288.4 L146.0,288.1 L147.2,288.4 L148.4,288.6 L149.6,288.6 L150.8,288.3 L152.0,289.0 L153.2,289.4 L154.4,289.3 L155.6,289.0 L156.8,289.1 L158.0,289.3 L159.2,289.9 L160.4,289.5 L161.6,289.5 L162.8,289.8 L164.0,289.5 L165.2,290.0 L166.4,289.5 L167.6,289.6 L168.8,289.8 L170.0,290.0 L171.2,289.8 L172.4,289.8 L173.6,289.4 L174.8,289.6 L176.0,289.6 L177.2,289.7 L178.4,289.9 L179.6,289.7 L180.8,290.0 L182.0,289.8 L183.2,289.7 L184.4,289.8 L185.6,289.9 L186.8,290.0 L188.0,289.7 L189.2,289.8 L190.4,289.6 L191.6,290.1 L192.8,290.1 L194.0,289.8 L195.2,289.7 L196.4,289.6 L197.6,289.9 L198.8,289.9 L200.0,290.3 L201.2,289.9 L202.4,289.7 L203.6,289.3 L204.8,290.1 L206.0,289.8 L207.2,289.5 L208.4,289.8 L209.6,289.5 L210.8,290.5 L212.0,290.0 L213.2,289.9 L214.0,289.8 L214.0,293.1 L213.2,293.5 L212.0,293.2 L210.8,293.6 L209.6,293.0 L208.4,293.3 L207.2,293.7 L206.0,293.8 L204.8,293.2 L203.6,293.1 L202.4,293.6 L201.2,293.5 L200.0,293.2 L198.8,293.2 L197.6,293.2 L196.4,293.1 L195.2,293.2 L194.0,293.6 L192.8,293.4 L191.6,293.7 L190.4,293.3 L189.2,293.2 L188.0,293.1 L186.8,293.2 L185.6,293.0 L184.4,292.9 L183.2,293.3 L182.0,293.5 L180.8,293.3 L179.6,293.4 L178.4,293.2 L177.2,293.0 L176.0,293.1 L174.8,293.0 L173.6,292.9 L172.4,292.8 L171.2,292.8 L170.0,293.1 L168.8,293.1 L167.6,292.9 L166.4,293.3 L165.2,293.0 L164.0,293.1 L162.8,293.2 L161.6,292.8 L160.4,292.6 L159.2,293.1 L158.0,292.8 L156.8,293.2 L155.6,293.0 L154.4,293.1 L153.2,293.0 L152.0,292.5 L150.8,293.0 L149.6,292.7 L148.4,292.7 L147.2,292.7 L146.0,292.9 L144.8,292.9 L143.6,292.9 L142.4,292.3 L141.2,292.4 L140.0,292.0 L138.8,292.4 L137.6,292.4 L136.4,292.0 L135.2,292.1 L134.0,292.0 L132.8,292.0 L131.6,291.5 L130.4,291.3 L129.2,291.2 L128.0,291.5 L126.8,291.2 L125.6,290.8 L124.4,290.7 L123.2,290.5 L122.0,290.3 L120.8,290.1 L119.6,289.9 L118.4,289.5 L117.2,289.4 L116.0,289.3Z" fill="#e8333c" stroke="#e8333c" stroke-width="0.6"/>
<g fill="none" stroke="#e8333c" stroke-width="0.95"><circle cx="39.1" cy="291.0" r="2.1"/><circle cx="46.8" cy="288.6" r="2.1"/><circle cx="51.3" cy="285.9" r="2.1"/><circle cx="54.5" cy="283.6" r="2.1"/><circle cx="57.0" cy="281.8" r="2.1"/><circle cx="57.8" cy="281.1" r="2.1"/><circle cx="58.7" cy="280.4" r="2.1"/><circle cx="59.5" cy="279.5" r="2.1"/><circle cx="60.4" cy="278.5" r="2.1"/><circle cx="61.2" cy="277.3" r="2.1"/><circle cx="62.1" cy="276.1" r="2.1"/><circle cx="62.9" cy="274.7" r="2.1"/><circle cx="63.8" cy="273.2" r="2.1"/><circle cx="64.6" cy="271.7" r="2.1"/><circle cx="65.5" cy="270.2" r="2.1"/><circle cx="66.3" cy="268.6" r="2.1"/><circle cx="67.2" cy="267.0" r="2.1"/><circle cx="68.0" cy="265.2" r="2.1"/><circle cx="68.9" cy="263.4" r="2.1"/><circle cx="69.7" cy="261.5" r="2.1"/><circle cx="70.6" cy="259.4" r="2.1"/><circle cx="71.4" cy="257.1" r="2.1"/><circle cx="72.3" cy="254.7" r="2.1"/><circle cx="73.1" cy="252.0" r="2.1"/><circle cx="74.0" cy="249.3" r="2.1"/><circle cx="74.8" cy="246.7" r="2.1"/><circle cx="75.7" cy="244.1" r="2.1"/><circle cx="76.5" cy="241.2" r="2.1"/><circle cx="77.4" cy="238.2" r="2.1"/><circle cx="78.0" cy="235.2" r="2.1"/><circle cx="80.1" cy="235.3" r="2.1"/><circle cx="80.0" cy="237.9" r="2.1"/><circle cx="80.6" cy="240.7" r="2.1"/><circle cx="80.2" cy="242.6" r="2.1"/><circle cx="80.8" cy="245.5" r="2.1"/><circle cx="81.1" cy="248.1" r="2.1"/><circle cx="80.8" cy="250.3" r="2.1"/><circle cx="81.6" cy="252.8" r="2.1"/><circle cx="80.8" cy="255.1" r="2.1"/><circle cx="81.1" cy="257.9" r="2.1"/><circle cx="81.1" cy="260.4" r="2.1"/><circle cx="81.4" cy="263.1" r="2.1"/><circle cx="81.8" cy="265.4" r="2.1"/><circle cx="81.5" cy="268.0" r="2.1"/><circle cx="82.7" cy="270.0" r="2.1"/><circle cx="83.9" cy="272.2" r="2.1"/><circle cx="86.4" cy="273.1" r="2.1"/><circle cx="89.9" cy="273.0" r="2.1"/><circle cx="91.8" cy="272.3" r="2.1"/><circle cx="93.8" cy="271.9" r="2.1"/><circle cx="95.7" cy="270.2" r="2.1"/><circle cx="96.9" cy="267.7" r="2.1"/><circle cx="97.9" cy="265.4" r="2.1"/><circle cx="99.1" cy="263.1" r="2.1"/><circle cx="99.7" cy="260.9" r="2.1"/><circle cx="101.4" cy="259.1" r="2.1"/><circle cx="102.6" cy="261.4" r="2.1"/><circle cx="103.1" cy="264.0" r="2.1"/><circle cx="103.0" cy="266.2" r="2.1"/><circle cx="103.3" cy="269.0" r="2.1"/><circle cx="103.6" cy="271.3" r="2.1"/><circle cx="103.5" cy="274.0" r="2.1"/><circle cx="103.6" cy="276.4" r="2.1"/><circle cx="103.8" cy="278.7" r="2.1"/><circle cx="103.8" cy="281.2" r="2.1"/><circle cx="105.0" cy="284.1" r="2.1"/><circle cx="106.8" cy="285.7" r="2.1"/><circle cx="109.1" cy="286.4" r="2.1"/><circle cx="111.4" cy="286.9" r="2.1"/><circle cx="114.3" cy="286.9" r="2.1"/><circle cx="116.1" cy="287.7" r="2.1"/></g>
<g fill="none" stroke="#e9a050" stroke-width="1.3"><circle cx="87.6" cy="236.4" r="2.1"/><circle cx="89.6" cy="237.1" r="2.1"/><circle cx="87.2" cy="239.2" r="2.1"/><circle cx="89.9" cy="238.6" r="2.1"/><circle cx="82.3" cy="241.0" r="2.1"/><circle cx="84.2" cy="241.3" r="2.1"/><circle cx="87.4" cy="241.4" r="2.1"/><circle cx="89.6" cy="241.7" r="2.1"/><circle cx="91.9" cy="241.9" r="2.1"/><circle cx="84.3" cy="244.6" r="2.1"/><circle cx="87.7" cy="243.6" r="2.1"/><circle cx="89.5" cy="244.3" r="2.1"/><circle cx="92.1" cy="243.5" r="2.1"/><circle cx="84.2" cy="246.0" r="2.1"/><circle cx="87.6" cy="247.0" r="2.1"/><circle cx="90.3" cy="245.9" r="2.1"/><circle cx="91.9" cy="246.9" r="2.1"/><circle cx="95.0" cy="246.7" r="2.1"/><circle cx="84.7" cy="248.8" r="2.1"/><circle cx="87.8" cy="249.2" r="2.1"/><circle cx="89.5" cy="249.3" r="2.1"/><circle cx="92.7" cy="249.1" r="2.1"/><circle cx="95.4" cy="248.7" r="2.1"/><circle cx="85.2" cy="251.4" r="2.1"/><circle cx="87.4" cy="251.5" r="2.1"/><circle cx="90.4" cy="250.6" r="2.1"/><circle cx="92.5" cy="251.5" r="2.1"/><circle cx="94.7" cy="251.1" r="2.1"/><circle cx="97.1" cy="250.8" r="2.1"/><circle cx="84.7" cy="253.1" r="2.1"/><circle cx="87.7" cy="253.5" r="2.1"/><circle cx="89.8" cy="253.7" r="2.1"/><circle cx="92.2" cy="253.3" r="2.1"/><circle cx="95.2" cy="253.7" r="2.1"/><circle cx="97.3" cy="253.9" r="2.1"/><circle cx="84.9" cy="256.0" r="2.1"/><circle cx="87.8" cy="256.4" r="2.1"/><circle cx="89.9" cy="255.5" r="2.1"/><circle cx="92.5" cy="255.9" r="2.1"/><circle cx="94.6" cy="255.5" r="2.1"/><circle cx="97.6" cy="255.5" r="2.1"/><circle cx="100.1" cy="256.2" r="2.1"/><circle cx="84.7" cy="258.6" r="2.1"/><circle cx="87.5" cy="258.0" r="2.1"/><circle cx="89.5" cy="259.0" r="2.1"/><circle cx="92.9" cy="258.9" r="2.1"/><circle cx="94.4" cy="257.9" r="2.1"/><circle cx="97.3" cy="258.3" r="2.1"/><circle cx="100.3" cy="257.9" r="2.1"/><circle cx="84.5" cy="260.5" r="2.1"/><circle cx="87.6" cy="260.6" r="2.1"/><circle cx="90.0" cy="261.4" r="2.1"/><circle cx="92.2" cy="260.9" r="2.1"/><circle cx="95.3" cy="261.3" r="2.1"/><circle cx="97.5" cy="260.6" r="2.1"/><circle cx="99.7" cy="261.3" r="2.1"/><circle cx="102.3" cy="260.3" r="2.1"/><circle cx="84.4" cy="262.7" r="2.1"/><circle cx="87.5" cy="263.3" r="2.1"/><circle cx="90.3" cy="263.7" r="2.1"/><circle cx="92.9" cy="263.1" r="2.1"/><circle cx="95.4" cy="263.0" r="2.1"/><circle cx="97.4" cy="263.1" r="2.1"/><circle cx="100.7" cy="263.7" r="2.1"/><circle cx="102.5" cy="263.0" r="2.1"/><circle cx="86.0" cy="265.7" r="2.1"/><circle cx="89.1" cy="265.8" r="2.1"/><circle cx="91.5" cy="265.1" r="2.1"/><circle cx="93.8" cy="265.9" r="2.1"/><circle cx="95.8" cy="265.1" r="2.1"/><circle cx="99.2" cy="266.1" r="2.1"/><circle cx="101.0" cy="265.8" r="2.1"/><circle cx="103.7" cy="265.9" r="2.1"/><circle cx="83.6" cy="268.2" r="2.1"/><circle cx="86.4" cy="267.9" r="2.1"/><circle cx="88.9" cy="268.2" r="2.1"/><circle cx="91.5" cy="268.4" r="2.1"/><circle cx="94.1" cy="268.5" r="2.1"/><circle cx="96.8" cy="268.2" r="2.1"/><circle cx="98.9" cy="268.3" r="2.1"/><circle cx="101.9" cy="267.9" r="2.1"/><circle cx="104.0" cy="267.6" r="2.1"/><circle cx="83.6" cy="270.0" r="2.1"/><circle cx="85.4" cy="270.4" r="2.1"/><circle cx="88.6" cy="270.9" r="2.1"/><circle cx="90.5" cy="269.9" r="2.1"/><circle cx="93.3" cy="270.1" r="2.1"/><circle cx="96.0" cy="270.7" r="2.1"/><circle cx="99.0" cy="270.1" r="2.1"/><circle cx="101.1" cy="270.1" r="2.1"/><circle cx="103.7" cy="270.7" r="2.1"/><circle cx="106.5" cy="270.5" r="2.1"/><circle cx="86.3" cy="272.7" r="2.1"/><circle cx="88.5" cy="272.8" r="2.1"/><circle cx="90.8" cy="273.4" r="2.1"/><circle cx="93.9" cy="272.5" r="2.1"/><circle cx="98.7" cy="273.2" r="2.1"/><circle cx="101.8" cy="272.9" r="2.1"/><circle cx="103.7" cy="272.4" r="2.1"/><circle cx="106.5" cy="272.5" r="2.1"/><circle cx="99.2" cy="275.1" r="2.1"/><circle cx="102.0" cy="274.7" r="2.1"/><circle cx="104.5" cy="274.9" r="2.1"/><circle cx="106.8" cy="275.2" r="2.1"/><circle cx="101.9" cy="277.2" r="2.1"/><circle cx="104.2" cy="277.3" r="2.1"/><circle cx="106.6" cy="277.6" r="2.1"/><circle cx="109.1" cy="277.4" r="2.1"/><circle cx="101.1" cy="279.5" r="2.1"/><circle cx="104.0" cy="279.5" r="2.1"/><circle cx="107.2" cy="279.9" r="2.1"/><circle cx="109.3" cy="280.2" r="2.1"/><circle cx="104.6" cy="282.5" r="2.1"/><circle cx="106.5" cy="282.4" r="2.1"/><circle cx="108.9" cy="282.7" r="2.1"/><circle cx="104.6" cy="285.4" r="2.1"/><circle cx="107.1" cy="284.9" r="2.1"/><circle cx="108.8" cy="285.2" r="2.1"/><circle cx="111.6" cy="285.3" r="2.1"/><circle cx="114.2" cy="284.9" r="2.1"/><circle cx="106.7" cy="286.9" r="2.1"/><circle cx="109.4" cy="287.0" r="2.1"/><circle cx="112.1" cy="286.6" r="2.1"/><circle cx="114.7" cy="286.8" r="2.1"/><circle cx="112.2" cy="289.4" r="2.1"/><circle cx="114.6" cy="289.1" r="2.1"/><circle cx="116.6" cy="289.5" r="2.1"/><circle cx="114.2" cy="291.8" r="2.1"/><circle cx="116.9" cy="291.5" r="2.1"/><circle cx="120.0" cy="294.2" r="2.1"/></g>
<path d="M116.0,284.5 L117.2,286.0 L118.4,286.4 L119.6,287.0 L120.8,287.5 L122.0,287.5 L123.2,288.0 L124.4,288.2 L125.6,288.3 L126.8,288.6 L128.0,288.7 L129.2,289.3 L130.4,289.4 L131.6,289.2 L132.8,289.7 L134.0,289.5 L135.2,289.5 L136.4,290.1 L137.6,289.7 L138.8,290.3 L140.0,290.2 L141.2,290.4 L142.4,290.4 L143.6,290.6 L144.8,290.4 L146.0,290.5 L147.2,290.5 L148.4,290.7 L149.6,290.5 L150.8,290.8 L152.0,290.9 L153.2,290.6 L154.4,290.8 L155.6,290.6 L156.8,290.7 L158.0,290.8 L159.2,290.8 L160.4,290.7 L161.6,290.9 L162.8,291.0 L164.0,291.0 L165.2,291.1 L166.4,290.7 L167.6,291.4 L168.8,291.1 L170.0,291.0 L171.2,291.1 L172.4,291.3 L173.6,291.5 L174.8,291.2 L176.0,291.4 L177.2,291.1 L178.4,291.5 L179.6,291.4 L180.8,291.4 L182.0,291.7 L183.2,291.9 L184.4,291.8 L185.6,291.5 L186.8,292.0 L188.0,291.6 L189.2,291.7 L190.4,291.7 L191.6,291.9 L192.8,292.0 L194.0,291.9 L195.2,291.9 L196.4,291.9 L197.6,291.9 L198.8,292.2 L200.0,291.9 L201.2,292.0 L202.4,292.0 L203.6,291.9 L204.8,292.0 L206.0,291.7 L207.2,292.1 L208.4,292.1 L209.6,291.9 L210.8,292.2 L212.0,291.7 L213.2,291.9 L214.0,291.9 L214.0,294.4 L213.2,294.5 L212.0,294.8 L210.8,294.7 L209.6,294.8 L208.4,295.1 L207.2,295.0 L206.0,294.7 L204.8,295.0 L203.6,295.4 L202.4,295.3 L201.2,295.2 L200.0,295.1 L198.8,295.7 L197.6,296.1 L196.4,295.7 L195.2,295.6 L194.0,296.3 L192.8,296.3 L191.6,296.5 L190.4,296.7 L189.2,296.7 L188.0,297.1 L186.8,297.4 L185.6,297.4 L184.4,297.3 L183.2,297.8 L182.0,297.6 L180.8,297.9 L179.6,297.6 L178.4,298.0 L177.2,298.1 L176.0,298.2 L174.8,298.0 L173.6,298.1 L172.4,297.9 L171.2,298.2 L170.0,298.2 L168.8,298.2 L167.6,297.9 L166.4,297.7 L165.2,297.9 L164.0,297.9 L162.8,297.7 L161.6,298.0 L160.4,298.0 L159.2,297.9 L158.0,298.0 L156.8,297.8 L155.6,297.5 L154.4,297.5 L153.2,297.5 L152.0,297.7 L150.8,297.6 L149.6,297.4 L148.4,297.6 L147.2,297.1 L146.0,297.2 L144.8,297.5 L143.6,297.2 L142.4,297.2 L141.2,296.6 L140.0,296.6 L138.8,296.6 L137.6,296.9 L136.4,296.9 L135.2,296.4 L134.0,296.2 L132.8,296.0 L131.6,295.9 L130.4,296.0 L129.2,295.6 L128.0,295.9 L126.8,295.3 L125.6,294.8 L124.4,294.6 L123.2,294.1 L122.0,293.9 L120.8,293.5 L119.6,292.8 L118.4,292.5 L117.2,291.7 L116.0,290.5Z" fill="#e9a050" stroke="#e9a050" stroke-width="0.6"/>
<g fill="none" stroke="#e9a050" stroke-width="0.95"><circle cx="39.1" cy="290.0" r="2.1"/><circle cx="46.8" cy="287.2" r="2.1"/><circle cx="51.3" cy="283.8" r="2.1"/><circle cx="54.5" cy="279.1" r="2.1"/><circle cx="57.0" cy="275.7" r="2.1"/><circle cx="57.8" cy="274.4" r="2.1"/><circle cx="58.7" cy="273.0" r="2.1"/><circle cx="59.5" cy="271.6" r="2.1"/><circle cx="60.4" cy="269.9" r="2.1"/><circle cx="61.2" cy="268.0" r="2.1"/><circle cx="62.1" cy="265.8" r="2.1"/><circle cx="62.9" cy="263.7" r="2.1"/><circle cx="63.8" cy="261.6" r="2.1"/><circle cx="64.6" cy="259.6" r="2.1"/><circle cx="65.5" cy="257.5" r="2.1"/><circle cx="66.3" cy="255.3" r="2.1"/><circle cx="67.2" cy="252.8" r="2.1"/><circle cx="68.0" cy="250.0" r="2.1"/><circle cx="68.9" cy="246.8" r="2.1"/><circle cx="69.7" cy="243.2" r="2.1"/><circle cx="70.6" cy="238.9" r="2.1"/><circle cx="71.4" cy="234.8" r="2.1"/><circle cx="72.3" cy="231.5" r="2.1"/><circle cx="73.1" cy="228.6" r="2.1"/><circle cx="74.0" cy="225.6" r="2.1"/><circle cx="74.8" cy="222.0" r="2.1"/><circle cx="75.7" cy="218.0" r="2.1"/><circle cx="76.5" cy="215.0" r="2.1"/><circle cx="78.1" cy="212.7" r="2.1"/><circle cx="79.8" cy="214.1" r="2.1"/><circle cx="80.5" cy="217.1" r="2.1"/><circle cx="80.9" cy="219.2" r="2.1"/><circle cx="81.0" cy="221.4" r="2.1"/><circle cx="81.1" cy="224.4" r="2.1"/><circle cx="81.5" cy="227.1" r="2.1"/><circle cx="81.5" cy="229.1" r="2.1"/><circle cx="81.2" cy="231.7" r="2.1"/><circle cx="81.3" cy="234.5" r="2.1"/><circle cx="81.8" cy="236.6" r="2.1"/><circle cx="81.7" cy="238.9" r="2.1"/><circle cx="82.0" cy="241.8" r="2.1"/><circle cx="82.5" cy="243.8" r="2.1"/><circle cx="82.2" cy="246.5" r="2.1"/><circle cx="82.7" cy="248.8" r="2.1"/><circle cx="83.3" cy="251.5" r="2.1"/><circle cx="83.5" cy="253.9" r="2.1"/><circle cx="84.2" cy="255.7" r="2.1"/><circle cx="84.5" cy="253.5" r="2.1"/><circle cx="85.5" cy="250.5" r="2.1"/><circle cx="85.9" cy="248.8" r="2.1"/><circle cx="86.5" cy="246.4" r="2.1"/><circle cx="86.8" cy="243.6" r="2.1"/><circle cx="87.0" cy="240.9" r="2.1"/><circle cx="87.3" cy="238.4" r="2.1"/><circle cx="88.5" cy="236.4" r="2.1"/><circle cx="89.8" cy="237.2" r="2.1"/><circle cx="89.7" cy="239.8" r="2.1"/><circle cx="90.3" cy="242.6" r="2.1"/><circle cx="91.1" cy="244.9" r="2.1"/><circle cx="90.6" cy="247.0" r="2.1"/><circle cx="91.2" cy="249.4" r="2.1"/><circle cx="91.6" cy="252.2" r="2.1"/><circle cx="92.1" cy="254.6" r="2.1"/><circle cx="92.2" cy="256.8" r="2.1"/><circle cx="93.8" cy="257.4" r="2.1"/><circle cx="95.3" cy="255.1" r="2.1"/><circle cx="96.7" cy="255.0" r="2.1"/><circle cx="97.7" cy="257.4" r="2.1"/><circle cx="98.4" cy="259.1" r="2.1"/><circle cx="99.2" cy="262.0" r="2.1"/><circle cx="99.7" cy="264.4" r="2.1"/><circle cx="100.7" cy="266.6" r="2.1"/><circle cx="101.1" cy="269.0" r="2.1"/><circle cx="102.7" cy="271.2" r="2.1"/><circle cx="103.2" cy="273.6" r="2.1"/><circle cx="105.0" cy="275.7" r="2.1"/><circle cx="106.2" cy="277.7" r="2.1"/><circle cx="107.3" cy="280.1" r="2.1"/><circle cx="108.9" cy="282.0" r="2.1"/><circle cx="111.5" cy="283.9" r="2.1"/><circle cx="112.7" cy="284.8" r="2.1"/><circle cx="114.7" cy="286.9" r="2.1"/><circle cx="116.6" cy="288.1" r="2.1"/></g>
<path d="M116.0,287.6 L117.2,288.3 L118.4,289.2 L119.6,289.5 L120.8,290.2 L122.0,290.7 L123.2,290.4 L124.4,291.6 L125.6,292.1 L126.8,292.8 L128.0,292.6 L129.2,293.3 L130.4,293.7 L131.6,293.9 L132.8,294.8 L134.0,295.1 L135.2,295.2 L136.4,295.4 L137.6,295.8 L138.8,296.6 L140.0,296.7 L141.2,296.0 L142.4,296.2 L143.6,296.8 L144.8,296.8 L146.0,296.8 L147.2,297.2 L148.4,297.2 L149.6,297.3 L150.8,297.4 L152.0,297.2 L153.2,297.8 L154.4,297.5 L155.6,297.9 L156.8,297.9 L158.0,297.8 L159.2,297.9 L160.4,297.9 L161.6,297.6 L162.8,297.9 L164.0,298.1 L165.2,297.7 L166.4,297.7 L167.6,298.2 L168.8,298.1 L170.0,297.6 L171.2,297.9 L172.4,297.8 L173.6,297.9 L174.8,297.6 L176.0,297.5 L177.2,297.4 L178.4,297.5 L179.6,297.3 L180.8,297.1 L182.0,297.1 L183.2,296.9 L184.4,297.0 L185.6,296.6 L186.8,296.4 L188.0,296.3 L189.2,296.6 L190.4,296.1 L191.6,296.2 L192.8,296.0 L194.0,295.6 L195.2,295.6 L196.4,295.3 L197.6,294.9 L198.8,294.5 L200.0,294.3 L201.2,293.7 L202.4,293.7 L203.6,293.3 L204.8,293.3 L206.0,293.2 L207.2,292.8 L208.4,293.0 L209.6,293.1 L210.8,292.8 L212.0,292.7 L213.2,292.9 L214.0,292.3 L214.0,297.9 L213.2,298.2 L212.0,298.5 L210.8,298.0 L209.6,298.5 L208.4,298.8 L207.2,298.8 L206.0,298.2 L204.8,299.1 L203.6,299.2 L202.4,299.7 L201.2,299.8 L200.0,300.1 L198.8,300.6 L197.6,301.3 L196.4,301.6 L195.2,301.7 L194.0,302.1 L192.8,302.5 L191.6,302.6 L190.4,302.7 L189.2,302.8 L188.0,302.9 L186.8,303.1 L185.6,303.2 L184.4,303.1 L183.2,303.3 L182.0,303.8 L180.8,303.5 L179.6,303.6 L178.4,303.9 L177.2,304.3 L176.0,304.3 L174.8,304.1 L173.6,304.0 L172.4,304.1 L171.2,304.1 L170.0,304.2 L168.8,304.4 L167.6,304.2 L166.4,304.2 L165.2,304.3 L164.0,304.4 L162.8,304.2 L161.6,304.2 L160.4,304.1 L159.2,304.1 L158.0,304.3 L156.8,304.1 L155.6,303.5 L154.4,304.2 L153.2,304.0 L152.0,303.8 L150.8,303.8 L149.6,303.2 L148.4,303.3 L147.2,303.8 L146.0,303.9 L144.8,303.8 L143.6,303.1 L142.4,303.1 L141.2,303.1 L140.0,302.6 L138.8,302.9 L137.6,302.2 L136.4,302.2 L135.2,301.5 L134.0,301.4 L132.8,300.7 L131.6,300.4 L130.4,299.4 L129.2,299.2 L128.0,299.1 L126.8,298.0 L125.6,297.8 L124.4,297.3 L123.2,296.6 L122.0,296.1 L120.8,295.9 L119.6,295.2 L118.4,294.4 L117.2,293.5 L116.0,292.3Z" fill="#4a86e0" stroke="#4a86e0" stroke-width="0.6"/>
<g fill="none" stroke="#4a86e0" stroke-width="1.1"><circle cx="39.1" cy="288.9" r="2.1"/><circle cx="46.8" cy="284.4" r="2.1"/><circle cx="51.3" cy="275.8" r="2.1"/><circle cx="54.5" cy="270.6" r="2.1"/><circle cx="57.0" cy="265.7" r="2.1"/><circle cx="58.7" cy="261.2" r="2.1"/><circle cx="60.4" cy="256.2" r="2.1"/><circle cx="62.0" cy="251.5" r="2.1"/><circle cx="63.5" cy="246.5" r="2.1"/><circle cx="64.9" cy="240.2" r="2.1"/><circle cx="66.2" cy="234.3" r="2.1"/><circle cx="67.4" cy="229.3" r="2.1"/><circle cx="68.6" cy="224.9" r="2.1"/><circle cx="69.6" cy="218.8" r="2.1"/><circle cx="70.7" cy="212.6" r="2.1"/><circle cx="71.6" cy="207.2" r="2.1"/><circle cx="72.6" cy="202.3" r="2.1"/><circle cx="74.1" cy="198.1" r="2.1"/><circle cx="76.3" cy="197.1" r="2.1"/><circle cx="79.2" cy="197.2" r="2.1"/><circle cx="81.3" cy="197.5" r="2.1"/><circle cx="82.5" cy="199.3" r="2.1"/><circle cx="82.9" cy="201.6" r="2.1"/><circle cx="83.1" cy="204.0" r="2.1"/><circle cx="83.9" cy="206.7" r="2.1"/><circle cx="83.6" cy="209.6" r="2.1"/><circle cx="83.9" cy="212.1" r="2.1"/><circle cx="84.0" cy="213.8" r="2.1"/><circle cx="84.7" cy="216.6" r="2.1"/><circle cx="84.6" cy="219.5" r="2.1"/><circle cx="84.2" cy="221.7" r="2.1"/><circle cx="84.5" cy="224.3" r="2.1"/><circle cx="84.7" cy="226.4" r="2.1"/><circle cx="84.9" cy="229.4" r="2.1"/><circle cx="84.9" cy="231.8" r="2.1"/><circle cx="85.0" cy="234.2" r="2.1"/><circle cx="85.4" cy="236.7" r="2.1"/><circle cx="85.9" cy="239.4" r="2.1"/><circle cx="86.1" cy="241.8" r="2.1"/><circle cx="87.2" cy="241.2" r="2.1"/><circle cx="87.9" cy="239.5" r="2.1"/><circle cx="88.0" cy="236.5" r="2.1"/><circle cx="88.3" cy="234.4" r="2.1"/><circle cx="88.6" cy="231.4" r="2.1"/><circle cx="88.8" cy="228.9" r="2.1"/><circle cx="89.2" cy="226.4" r="2.1"/><circle cx="89.5" cy="224.6" r="2.1"/><circle cx="90.8" cy="221.5" r="2.1"/><circle cx="91.6" cy="222.2" r="2.1"/><circle cx="92.1" cy="224.4" r="2.1"/><circle cx="92.6" cy="226.8" r="2.1"/><circle cx="92.7" cy="229.9" r="2.1"/><circle cx="92.5" cy="232.1" r="2.1"/><circle cx="92.8" cy="234.8" r="2.1"/><circle cx="92.3" cy="236.9" r="2.1"/><circle cx="93.1" cy="239.7" r="2.1"/><circle cx="93.0" cy="242.0" r="2.1"/><circle cx="93.1" cy="244.5" r="2.1"/><circle cx="94.0" cy="246.9" r="2.1"/><circle cx="93.8" cy="249.8" r="2.1"/><circle cx="93.6" cy="252.3" r="2.1"/><circle cx="93.6" cy="255.1" r="2.1"/><circle cx="94.0" cy="257.2" r="2.1"/><circle cx="94.3" cy="259.7" r="2.1"/><circle cx="95.5" cy="261.5" r="2.1"/><circle cx="96.6" cy="264.1" r="2.1"/><circle cx="97.7" cy="265.8" r="2.1"/><circle cx="98.1" cy="269.0" r="2.1"/><circle cx="98.1" cy="270.9" r="2.1"/><circle cx="99.0" cy="273.7" r="2.1"/><circle cx="99.2" cy="275.8" r="2.1"/><circle cx="100.5" cy="278.2" r="2.1"/><circle cx="102.2" cy="280.3" r="2.1"/><circle cx="104.4" cy="281.6" r="2.1"/><circle cx="106.1" cy="283.0" r="2.1"/><circle cx="108.3" cy="284.4" r="2.1"/><circle cx="110.4" cy="285.6" r="2.1"/><circle cx="112.5" cy="286.9" r="2.1"/><circle cx="114.8" cy="288.6" r="2.1"/><circle cx="116.6" cy="290.0" r="2.1"/></g>
<line x1="34" y1="294.2" x2="213.75" y2="294.2" stroke="#111" stroke-width="1.1" stroke-dasharray="4,3"/>
<rect x="34.5" y="181.5" width="179.0" height="131.0" fill="none" stroke="#1e1e1e" stroke-width="1.2"/>
<line x1="31" y1="199.5" x2="34" y2="199.5" stroke="#1e1e1e" stroke-width="1.1" />
<text x="29.5" y="199.5" font-size="8.7" text-anchor="end" dominant-baseline="central" fill="#111" textLength="15.5" lengthAdjust="spacingAndGlyphs"  stroke="#111" stroke-width="0.12">0.08</text>
<line x1="31" y1="246.5" x2="34" y2="246.5" stroke="#1e1e1e" stroke-width="1.1" />
<text x="29.5" y="246.75" font-size="8.7" text-anchor="end" dominant-baseline="central" fill="#111" textLength="15.5" lengthAdjust="spacingAndGlyphs"  stroke="#111" stroke-width="0.12">0.04</text>
<line x1="31" y1="294.5" x2="34" y2="294.5" stroke="#1e1e1e" stroke-width="1.1" />
<text x="29.5" y="294.2" font-size="8.7" text-anchor="end" dominant-baseline="central" fill="#111" textLength="15.5" lengthAdjust="spacingAndGlyphs"  stroke="#111" stroke-width="0.12">0.00</text>
<line x1="32.2" y1="223.5" x2="34" y2="223.5" stroke="#1e1e1e" stroke-width="1.1" />
<line x1="32.2" y1="270.5" x2="34" y2="270.5" stroke="#1e1e1e" stroke-width="1.1" />
<line x1="34.5" y1="312" x2="34.5" y2="315" stroke="#1e1e1e" stroke-width="1.1" />
<line x1="42.5" y1="312" x2="42.5" y2="313.6" stroke="#1e1e1e" stroke-width="1.1" />
<line x1="46.5" y1="312" x2="46.5" y2="313.6" stroke="#1e1e1e" stroke-width="1.1" />
<line x1="49.5" y1="312" x2="49.5" y2="313.6" stroke="#1e1e1e" stroke-width="1.1" />
<line x1="52.5" y1="312" x2="52.5" y2="313.6" stroke="#1e1e1e" stroke-width="1.1" />
<line x1="54.5" y1="312" x2="54.5" y2="313.6" stroke="#1e1e1e" stroke-width="1.1" />
<line x1="56.5" y1="312" x2="56.5" y2="313.6" stroke="#1e1e1e" stroke-width="1.1" />
<line x1="57.5" y1="312" x2="57.5" y2="313.6" stroke="#1e1e1e" stroke-width="1.1" />
<line x1="58.5" y1="312" x2="58.5" y2="313.6" stroke="#1e1e1e" stroke-width="1.1" />
<line x1="60.5" y1="312" x2="60.5" y2="315" stroke="#1e1e1e" stroke-width="1.1" />
<line x1="67.5" y1="312" x2="67.5" y2="313.6" stroke="#1e1e1e" stroke-width="1.1" />
<line x1="72.5" y1="312" x2="72.5" y2="313.6" stroke="#1e1e1e" stroke-width="1.1" />
<line x1="75.5" y1="312" x2="75.5" y2="313.6" stroke="#1e1e1e" stroke-width="1.1" />
<line x1="77.5" y1="312" x2="77.5" y2="313.6" stroke="#1e1e1e" stroke-width="1.1" />
<line x1="79.5" y1="312" x2="79.5" y2="313.6" stroke="#1e1e1e" stroke-width="1.1" />
<line x1="81.5" y1="312" x2="81.5" y2="313.6" stroke="#1e1e1e" stroke-width="1.1" />
<line x1="83.5" y1="312" x2="83.5" y2="313.6" stroke="#1e1e1e" stroke-width="1.1" />
<line x1="84.5" y1="312" x2="84.5" y2="313.6" stroke="#1e1e1e" stroke-width="1.1" />
<line x1="85.5" y1="312" x2="85.5" y2="315" stroke="#1e1e1e" stroke-width="1.1" />
<line x1="93.5" y1="312" x2="93.5" y2="313.6" stroke="#1e1e1e" stroke-width="1.1" />
<line x1="97.5" y1="312" x2="97.5" y2="313.6" stroke="#1e1e1e" stroke-width="1.1" />
<line x1="100.5" y1="312" x2="100.5" y2="313.6" stroke="#1e1e1e" stroke-width="1.1" />
<line x1="103.5" y1="312" x2="103.5" y2="313.6" stroke="#1e1e1e" stroke-width="1.1" />
<line x1="105.5" y1="312" x2="105.5" y2="313.6" stroke="#1e1e1e" stroke-width="1.1" />
<line x1="107.5" y1="312" x2="107.5" y2="313.6" stroke="#1e1e1e" stroke-width="1.1" />
<line x1="108.5" y1="312" x2="108.5" y2="313.6" stroke="#1e1e1e" stroke-width="1.1" />
<line x1="109.5" y1="312" x2="109.5" y2="313.6" stroke="#1e1e1e" stroke-width="1.1" />
<line x1="111.5" y1="312" x2="111.5" y2="315" stroke="#1e1e1e" stroke-width="1.1" />
<line x1="118.5" y1="312" x2="118.5" y2="313.6" stroke="#1e1e1e" stroke-width="1.1" />
<line x1="123.5" y1="312" x2="123.5" y2="313.6" stroke="#1e1e1e" stroke-width="1.1" />
<line x1="126.5" y1="312" x2="126.5" y2="313.6" stroke="#1e1e1e" stroke-width="1.1" />
<line x1="129.5" y1="312" x2="129.5" y2="313.6" stroke="#1e1e1e" stroke-width="1.1" />
<line x1="131.5" y1="312" x2="131.5" y2="313.6" stroke="#1e1e1e" stroke-width="1.1" />
<line x1="132.5" y1="312" x2="132.5" y2="313.6" stroke="#1e1e1e" stroke-width="1.1" />
<line x1="134.5" y1="312" x2="134.5" y2="313.6" stroke="#1e1e1e" stroke-width="1.1" />
<line x1="135.5" y1="312" x2="135.5" y2="313.6" stroke="#1e1e1e" stroke-width="1.1" />
<line x1="136.5" y1="312" x2="136.5" y2="315" stroke="#1e1e1e" stroke-width="1.1" />
<line x1="144.5" y1="312" x2="144.5" y2="313.6" stroke="#1e1e1e" stroke-width="1.1" />
<line x1="148.5" y1="312" x2="148.5" y2="313.6" stroke="#1e1e1e" stroke-width="1.1" />
<line x1="152.5" y1="312" x2="152.5" y2="313.6" stroke="#1e1e1e" stroke-width="1.1" />
<line x1="154.5" y1="312" x2="154.5" y2="313.6" stroke="#1e1e1e" stroke-width="1.1" />
<line x1="156.5" y1="312" x2="156.5" y2="313.6" stroke="#1e1e1e" stroke-width="1.1" />
<line x1="158.5" y1="312" x2="158.5" y2="313.6" stroke="#1e1e1e" stroke-width="1.1" />
<line x1="159.5" y1="312" x2="159.5" y2="313.6" stroke="#1e1e1e" stroke-width="1.1" />
<line x1="161.5" y1="312" x2="161.5" y2="313.6" stroke="#1e1e1e" stroke-width="1.1" />
<line x1="162.5" y1="312" x2="162.5" y2="315" stroke="#1e1e1e" stroke-width="1.1" />
<line x1="169.5" y1="312" x2="169.5" y2="313.6" stroke="#1e1e1e" stroke-width="1.1" />
<line x1="174.5" y1="312" x2="174.5" y2="313.6" stroke="#1e1e1e" stroke-width="1.1" />
<line x1="177.5" y1="312" x2="177.5" y2="313.6" stroke="#1e1e1e" stroke-width="1.1" />
<line x1="180.5" y1="312" x2="180.5" y2="313.6" stroke="#1e1e1e" stroke-width="1.1" />
<line x1="182.5" y1="312" x2="182.5" y2="313.6" stroke="#1e1e1e" stroke-width="1.1" />
<line x1="183.5" y1="312" x2="183.5" y2="313.6" stroke="#1e1e1e" stroke-width="1.1" />
<line x1="185.5" y1="312" x2="185.5" y2="313.6" stroke="#1e1e1e" stroke-width="1.1" />
<line x1="186.5" y1="312" x2="186.5" y2="313.6" stroke="#1e1e1e" stroke-width="1.1" />
<line x1="187.5" y1="312" x2="187.5" y2="315" stroke="#1e1e1e" stroke-width="1.1" />
<line x1="195.5" y1="312" x2="195.5" y2="313.6" stroke="#1e1e1e" stroke-width="1.1" />
<line x1="199.5" y1="312" x2="199.5" y2="313.6" stroke="#1e1e1e" stroke-width="1.1" />
<line x1="203.5" y1="312" x2="203.5" y2="313.6" stroke="#1e1e1e" stroke-width="1.1" />
<line x1="205.5" y1="312" x2="205.5" y2="313.6" stroke="#1e1e1e" stroke-width="1.1" />
<line x1="207.5" y1="312" x2="207.5" y2="313.6" stroke="#1e1e1e" stroke-width="1.1" />
<line x1="209.5" y1="312" x2="209.5" y2="313.6" stroke="#1e1e1e" stroke-width="1.1" />
<line x1="210.5" y1="312" x2="210.5" y2="313.6" stroke="#1e1e1e" stroke-width="1.1" />
<line x1="212.5" y1="312" x2="212.5" y2="313.6" stroke="#1e1e1e" stroke-width="1.1" />
<line x1="213.5" y1="312" x2="213.5" y2="315" stroke="#1e1e1e" stroke-width="1.1" />
<text x="34.5" y="320.4" font-size="8.7" text-anchor="middle" dominant-baseline="central" fill="#111"  stroke="#111" stroke-width="0.12">1E-10</text>
<text x="85.6" y="320.4" font-size="8.7" text-anchor="middle" dominant-baseline="central" fill="#111"  stroke="#111" stroke-width="0.12">1E-8</text>
<text x="136.7" y="320.4" font-size="8.7" text-anchor="middle" dominant-baseline="central" fill="#111"  stroke="#111" stroke-width="0.12">1E-6</text>
<text x="187.8" y="320.4" font-size="8.7" text-anchor="middle" dominant-baseline="central" fill="#111"  stroke="#111" stroke-width="0.12">1E-4</text>
<text x="124.5" y="333" font-size="11.0" text-anchor="middle" dominant-baseline="central" fill="#111"  stroke="#111" stroke-width="0.12">Time (s)</text>
<text x="6.4" y="246.9" font-size="10.5" text-anchor="middle" dominant-baseline="central" fill="#111" transform="rotate(-90 6.4 246.9)"  stroke="#111" stroke-width="0.12">Intensity (a.u.)</text>
<text x="38.75" y="199.5" font-size="9.0" text-anchor="start" dominant-baseline="central" fill="#7a7a7a"  stroke="#7a7a7a" stroke-width="0.12">Carrier</text>
<text x="38.75" y="209.5" font-size="9.0" text-anchor="start" dominant-baseline="central" fill="#7a7a7a"  stroke="#7a7a7a" stroke-width="0.12">Drift</text>
<line x1="53.75" y1="216.25" x2="60.6" y2="223.6" stroke="#555" stroke-width="0.9" />
<path d="M62.3,225.4 L57.9,223.3 L60.7,220.8 Z" fill="#555"/>
<text x="114.2" y="232.7" font-size="9.0" text-anchor="start" dominant-baseline="central" fill="#7a7a7a"  stroke="#7a7a7a" stroke-width="0.12">Carrier</text>
<text x="114.2" y="242.7" font-size="9.0" text-anchor="start" dominant-baseline="central" fill="#7a7a7a"  stroke="#7a7a7a" stroke-width="0.12">Diffusion</text>
<line x1="110.9" y1="241.6" x2="104.8" y2="247.7" stroke="#555" stroke-width="0.9" />
<path d="M103.2,249.3 L105.1,244.9 L107.7,247.6 Z" fill="#555"/>
<text x="171.3" y="274.9" font-size="8.8" text-anchor="middle" dominant-baseline="central" fill="#7a7a7a"  stroke="#7a7a7a" stroke-width="0.12">Electronic sink</text>
<line x1="169.9" y1="281.8" x2="163.8" y2="288.8" stroke="#555" stroke-width="0.9" />
<path d="M162.4,290.4 L164.1,285.9 L166.9,288.4 Z" fill="#555"/>
<circle cx="153" cy="196.0" r="2.0" fill="none" stroke="#e8333c" stroke-width="1.1"/>
<text x="162.5" y="196.0" font-size="8.7" text-anchor="start" dominant-baseline="central" fill="#111"  stroke="#111" stroke-width="0.12">RF</text>
<circle cx="153" cy="206.3" r="2.0" fill="none" stroke="#e9a050" stroke-width="1.1"/>
<text x="162.5" y="206.3" font-size="8.7" text-anchor="start" dominant-baseline="central" fill="#111"  stroke="#111" stroke-width="0.12">RF/C</text>
<circle cx="153" cy="216.6" r="2.0" fill="none" stroke="#4a86e0" stroke-width="1.1"/>
<text x="162.5" y="216.6" font-size="8.7" text-anchor="start" dominant-baseline="central" fill="#111"  stroke="#111" stroke-width="0.12">RF/C-TaSA</text>
<text x="236.4" y="185.8" font-size="12.5" fill="#111" stroke="#111" stroke-width="0.12">e</text>
<path d="M269.69,309.00 L270.01,309.17 L270.33,309.23 L270.65,309.46 L270.97,309.07 L271.29,309.37 L271.61,307.72 L271.94,308.48 L272.26,309.34 L272.58,308.76 L272.90,309.20 L273.22,307.68 L273.54,308.32 L273.86,307.86 L274.18,308.40 L274.50,308.42 L274.83,307.29 L275.15,307.65 L275.47,307.74 L275.79,308.96 L276.11,308.63 L276.43,307.37 L276.75,308.62 L277.07,307.24 L277.40,308.17 L277.72,307.12 L278.04,306.81 L278.36,308.56 L278.68,307.14 L279.00,307.09 L279.32,308.66 L279.64,308.37 L279.97,307.08 L280.29,308.46 L280.61,307.49 L280.93,307.73 L281.25,306.63 L281.57,308.18 L281.89,307.57 L282.21,308.11 L282.54,307.87 L282.86,306.46 L283.18,306.52 L283.50,305.99 L283.82,305.85 L284.14,305.57 L284.46,306.02 L284.79,306.63 L285.11,305.12 L285.43,306.61 L285.75,305.71 L286.07,305.54 L286.39,306.66 L286.71,305.74 L287.03,305.23 L287.36,305.53 L287.68,305.97 L288.00,304.26 L288.32,306.44 L288.64,303.95 L288.96,305.66 L289.28,305.79 L289.60,303.57 L289.93,305.43 L290.25,304.22 L290.57,304.65 L290.89,303.05 L291.21,303.02 L291.53,303.25 L291.85,305.17 L292.17,303.03 L292.50,304.40 L292.82,304.74 L293.14,304.66 L293.46,302.91 L293.78,302.81 L294.10,303.14 L294.42,303.69 L294.74,301.72 L295.06,303.36 L295.39,303.36 L295.71,303.40 L296.03,300.95 L296.35,303.37 L296.67,300.81 L296.99,301.37 L297.31,302.00 L297.63,302.74 L297.96,300.92 L298.28,302.47 L298.60,301.21 L298.92,300.38 L299.24,300.23 L299.56,299.66 L299.88,299.20 L300.20,299.24 L300.53,300.69 L300.85,301.46 L301.17,298.77 L301.49,298.25 L301.81,300.94 L302.13,299.38 L302.45,298.82 L302.77,298.11 L303.10,299.04 L303.42,299.58 L303.74,298.25 L304.06,297.95 L304.38,296.60 L304.70,299.14 L305.02,296.14 L305.35,297.41 L305.67,298.32 L305.99,295.84 L306.31,297.58 L306.63,298.09 L306.95,296.84 L307.27,297.15 L307.59,294.70 L307.92,295.56 L308.24,294.39 L308.56,296.49 L308.88,294.42 L309.20,294.72 L309.52,296.34 L309.84,295.62 L310.16,295.81 L310.49,293.78 L310.81,293.66 L311.13,294.25 L311.45,293.13 L311.77,292.22 L312.09,292.35 L312.41,291.19 L312.73,291.72 L313.06,293.62 L313.38,293.25 L313.70,291.78 L314.02,291.03 L314.34,290.16 L314.66,288.94 L314.98,289.29 L315.30,290.84 L315.62,290.83 L315.95,288.63 L316.27,289.88 L316.59,289.49 L316.91,288.85 L317.23,288.38 L317.55,288.39 L317.87,286.52 L318.19,287.45 L318.52,285.46 L318.84,285.87 L319.16,286.60 L319.48,285.92 L319.80,283.99 L320.12,286.19 L320.44,284.65 L320.76,284.00 L321.09,281.36 L321.41,283.13 L321.73,281.57 L322.05,282.90 L322.37,281.68 L322.69,282.76 L323.01,281.70 L323.33,281.95 L323.66,279.72 L323.98,280.58 L324.30,280.60 L324.62,280.60 L324.94,278.22 L325.26,279.92 L325.58,279.66 L325.90,278.52 L326.23,279.37 L326.55,278.91 L326.87,276.65 L327.19,276.32 L327.51,274.36 L327.83,276.89 L328.15,276.95 L328.48,274.56 L328.80,275.11 L329.12,274.85 L329.44,274.52 L329.76,271.66 L330.08,273.97 L330.40,272.70 L330.72,272.69 L331.05,271.20 L331.37,271.73 L331.69,272.02 L332.01,271.01 L332.33,271.00 L332.65,267.45 L332.97,267.66 L333.29,268.55 L333.62,269.12 L333.94,266.74 L334.26,268.51 L334.58,267.86 L334.90,264.72 L335.22,266.32 L335.54,264.77 L335.86,263.56 L336.19,263.52 L336.51,263.98 L336.83,262.92 L337.15,262.56 L337.47,261.38 L337.79,263.02 L338.11,262.19 L338.43,262.89 L338.75,262.36 L339.08,260.23 L339.40,263.05 L339.72,258.21 L340.04,259.77 L340.36,258.72 L340.68,258.95 L341.00,257.07 L341.32,260.20 L341.65,257.52 L341.97,255.42 L342.29,257.90 L342.61,254.89 L342.93,256.76 L343.25,255.32 L343.57,256.15 L343.89,257.68 L344.22,256.59 L344.54,254.17 L344.86,255.81 L345.18,254.57 L345.50,252.80 L345.82,251.26 L346.14,253.23 L346.46,252.71 L346.79,254.38 L347.11,254.09 L347.43,251.87 L347.75,250.18 L348.07,252.66 L348.39,247.65 L348.71,247.85 L349.03,249.91 L349.36,249.82 L349.68,246.97 L350.00,249.21 L350.32,250.25 L350.64,247.17 L350.96,247.12 L351.28,245.68 L351.61,245.68 L351.93,248.97 L352.25,245.45 L352.57,248.22 L352.89,247.62 L353.21,245.56 L353.53,243.40 L353.85,246.94 L354.18,243.96 L354.50,243.16 L354.82,242.28 L355.14,245.54 L355.46,242.48 L355.78,240.99 L356.10,241.67 L356.42,239.33 L356.75,241.70 L357.07,240.33 L357.39,239.12 L357.71,241.42 L358.03,241.28 L358.35,236.35 L358.67,238.84 L358.99,236.99 L359.31,240.28 L359.64,239.01 L359.96,235.58 L360.28,235.29 L360.60,234.23 L360.92,238.51 L361.24,234.15 L361.56,235.50 L361.88,234.31 L362.21,234.84 L362.53,234.17 L362.85,234.52 L363.17,230.48 L363.49,233.72 L363.81,230.61 L364.13,231.49 L364.45,229.89 L364.78,229.18 L365.10,230.06 L365.42,229.21 L365.74,228.12 L366.06,229.88 L366.38,228.48 L366.70,224.73 L367.02,225.50 L367.35,226.17 L367.67,228.38 L367.99,227.67 L368.31,225.08 L368.63,221.34 L368.95,225.31 L369.27,222.61 L369.60,222.89 L369.92,223.07 L370.24,221.99 L370.56,220.45 L370.88,222.43 L371.20,218.60 L371.52,218.01 L371.84,220.21 L372.16,215.58 L372.49,215.59 L372.81,218.30 L373.13,213.02 L373.45,217.24 L373.77,215.84 L374.09,213.73 L374.41,212.33 L374.74,214.96 L375.06,215.32 L375.38,210.07 L375.70,211.72 L376.02,211.73 L376.34,210.97 L376.66,209.50 L376.98,207.97 L377.31,210.30 L377.63,211.36 L377.95,206.28 L378.27,206.97 L378.59,210.38 L378.91,209.91 L379.23,208.81 L379.55,204.49 L379.88,208.70 L380.20,210.13 L380.52,210.08 L380.84,208.02 L381.16,203.73 L381.48,208.69 L381.80,204.64 L382.12,207.31 L382.44,209.25 L382.77,207.70 L383.09,203.99 L383.41,205.04 L383.73,209.07 L384.05,204.21 L384.37,207.23 L384.69,206.05 L385.01,204.54 L385.34,207.60 L385.66,204.02 L385.98,204.58 L386.30,206.46 L386.62,204.67 L386.94,204.76 L387.26,208.25 L387.58,209.53 L387.91,210.62 L388.23,206.13 L388.55,208.28 L388.87,207.80 L389.19,209.91 L389.51,209.50 L389.83,212.67 L390.15,209.44 L390.48,207.79 L390.80,212.19 L391.12,209.16 L391.44,212.58 L391.76,212.24 L392.08,215.23 L392.40,213.52 L392.73,214.45 L393.05,212.81 L393.37,215.19 L393.69,214.00 L394.01,217.73 L394.33,217.00 L394.65,215.38 L394.97,216.77 L395.29,218.39 L395.62,221.44 L395.94,218.88 L396.26,223.00 L396.58,223.54 L396.90,221.06 L397.22,225.51 L397.54,223.06 L397.87,224.30 L398.19,228.09 L398.51,227.06 L398.83,231.85 L399.15,230.61 L399.47,230.80 L399.79,234.61 L400.11,231.33 L400.44,236.41 L400.76,233.73 L401.08,235.41 L401.40,241.01 L401.72,240.62 L402.04,239.21 L402.36,239.75 L402.68,245.55 L403.00,244.97 L403.33,246.91 L403.65,244.35 L403.97,248.03 L404.29,247.67 L404.61,248.12 L404.93,249.70 L405.25,252.23 L405.57,251.93 L405.90,253.19 L406.22,253.00 L406.54,257.59 L406.86,257.73 L407.18,259.57 L407.50,258.79 L407.82,261.92 L408.14,261.35 L408.47,262.78 L408.79,263.75 L409.11,265.61 L409.43,265.04 L409.75,264.72 L410.07,265.50 L410.39,267.36 L410.71,267.69 L411.04,272.61 L411.36,271.83 L411.68,274.12 L412.00,271.82 L412.32,274.95 L412.64,277.82 L412.96,277.73 L413.28,278.00 L413.61,279.25 L413.93,278.83 L414.25,280.16 L414.57,281.27 L414.89,283.20 L415.21,284.29 L415.53,287.22 L415.86,285.38 L416.18,286.70 L416.50,287.68 L416.82,288.11 L417.14,289.39 L417.46,290.00 L417.78,291.66 L418.10,290.81 L418.42,294.64 L418.75,293.39 L419.07,295.97 L419.39,295.72 L419.71,296.25 L420.03,296.14 L420.35,298.19 L420.67,296.01 L421.00,298.24 L421.32,297.48 L421.64,299.11 L421.96,299.67 L422.28,298.30 L422.60,298.77 L422.92,298.58 L423.24,299.52 L423.56,299.37 L423.89,300.61 L424.21,302.54 L424.53,301.02 L424.85,301.12 L425.17,301.80 L425.49,301.50 L425.81,302.98 L426.13,303.14 L426.46,301.81 L426.78,302.22 L427.10,303.60 L427.42,304.51 L427.74,303.89 L428.06,303.50 L428.38,305.12 L428.70,302.73 L429.03,303.04 L429.35,305.07 L429.67,304.26 L429.99,303.46 L430.31,304.89 L430.63,306.14 L430.95,305.07 L431.27,304.78 L431.60,304.26 L431.92,304.33 L432.24,306.48 L432.56,305.59 L432.88,306.78 L433.20,304.75 L433.52,305.32 L433.85,304.97 L434.17,305.90 L434.49,305.21 L434.81,305.77 L435.13,306.23 L435.45,306.10 L435.77,305.62 L436.09,305.70 L436.41,307.92 L436.74,306.23 L437.06,307.06 L437.38,306.92 L437.70,307.29 L438.02,306.41 L438.34,307.00 L438.66,306.64 L438.99,307.65 L439.31,308.54 L439.63,307.93 L439.95,308.55 L440.27,307.30 L440.59,306.98 L440.91,308.12 L441.23,308.09 L441.55,308.33 L441.88,308.03 L442.20,308.58 L442.52,308.85 L442.84,309.26 L443.16,308.22 L443.48,308.55 L443.80,309.29 L444.12,308.36" fill="none" stroke="#a7ccee" stroke-width="1.3" stroke-linejoin="round" stroke-linecap="round" />
<path d="M269.69,308.19 L270.01,308.44 L270.33,308.01 L270.65,309.17 L270.97,309.22 L271.29,308.28 L271.61,307.91 L271.94,307.79 L272.26,308.05 L272.58,307.72 L272.90,308.33 L273.22,308.58 L273.54,307.92 L273.86,307.53 L274.18,308.73 L274.50,307.43 L274.83,307.69 L275.15,307.82 L275.47,307.95 L275.79,307.37 L276.11,307.97 L276.43,307.72 L276.75,308.56 L277.07,308.13 L277.40,308.78 L277.72,308.24 L278.04,308.42 L278.36,307.99 L278.68,307.67 L279.00,308.41 L279.32,308.02 L279.64,308.60 L279.97,308.07 L280.29,307.97 L280.61,306.97 L280.93,308.09 L281.25,307.09 L281.57,306.48 L281.89,306.27 L282.21,306.42 L282.54,306.55 L282.86,307.40 L283.18,306.44 L283.50,305.86 L283.82,307.37 L284.14,306.81 L284.46,305.49 L284.79,305.45 L285.11,305.54 L285.43,305.98 L285.75,307.08 L286.07,307.20 L286.39,306.30 L286.71,305.28 L287.03,305.66 L287.36,305.39 L287.68,305.21 L288.00,304.32 L288.32,305.63 L288.64,306.13 L288.96,305.78 L289.28,304.07 L289.60,305.07 L289.93,304.04 L290.25,305.31 L290.57,304.51 L290.89,305.68 L291.21,305.20 L291.53,303.31 L291.85,303.71 L292.17,305.18 L292.50,303.85 L292.82,303.66 L293.14,303.56 L293.46,304.31 L293.78,304.65 L294.10,303.43 L294.42,304.50 L294.74,303.35 L295.06,301.86 L295.39,303.70 L295.71,302.47 L296.03,301.30 L296.35,303.78 L296.67,300.96 L296.99,302.37 L297.31,301.96 L297.63,302.97 L297.96,301.42 L298.28,300.76 L298.60,300.79 L298.92,300.42 L299.24,301.33 L299.56,300.58 L299.88,301.59 L300.20,299.92 L300.53,300.09 L300.85,299.62 L301.17,301.68 L301.49,301.09 L301.81,300.96 L302.13,300.09 L302.45,299.26 L302.77,298.29 L303.10,300.25 L303.42,299.01 L303.74,297.43 L304.06,297.65 L304.38,297.24 L304.70,299.02 L305.02,299.43 L305.35,297.00 L305.67,298.73 L305.99,297.01 L306.31,297.98 L306.63,298.38 L306.95,297.40 L307.27,297.78 L307.59,296.19 L307.92,294.76 L308.24,296.21 L308.56,296.26 L308.88,294.70 L309.20,295.16 L309.52,294.70 L309.84,293.48 L310.16,294.23 L310.49,294.24 L310.81,294.32 L311.13,294.88 L311.45,293.58 L311.77,295.37 L312.09,294.55 L312.41,294.69 L312.73,293.62 L313.06,293.28 L313.38,292.55 L313.70,293.22 L314.02,291.37 L314.34,291.93 L314.66,291.95 L314.98,291.08 L315.30,289.91 L315.62,288.83 L315.95,288.54 L316.27,289.21 L316.59,289.72 L316.91,290.06 L317.23,289.56 L317.55,287.67 L317.87,289.70 L318.19,286.85 L318.52,288.19 L318.84,285.34 L319.16,287.63 L319.48,286.95 L319.80,287.72 L320.12,287.14 L320.44,285.96 L320.76,286.21 L321.09,285.46 L321.41,284.60 L321.73,282.63 L322.05,283.52 L322.37,284.71 L322.69,281.68 L323.01,284.34 L323.33,282.22 L323.66,281.25 L323.98,279.27 L324.30,280.52 L324.62,279.27 L324.94,280.90 L325.26,281.58 L325.58,281.27 L325.90,279.66 L326.23,278.33 L326.55,276.78 L326.87,278.90 L327.19,277.95 L327.51,278.29 L327.83,276.44 L328.15,278.31 L328.48,275.00 L328.80,275.04 L329.12,274.50 L329.44,275.69 L329.76,276.55 L330.08,272.94 L330.40,274.64 L330.72,274.87 L331.05,272.07 L331.37,270.96 L331.69,272.86 L332.01,273.69 L332.33,273.54 L332.65,272.49 L332.97,270.69 L333.29,270.36 L333.62,270.46 L333.94,271.82 L334.26,268.66 L334.58,268.18 L334.90,269.32 L335.22,270.63 L335.54,266.59 L335.86,265.47 L336.19,265.48 L336.51,267.20 L336.83,267.01 L337.15,264.61 L337.47,264.24 L337.79,265.78 L338.11,265.63 L338.43,265.45 L338.75,265.23 L339.08,261.59 L339.40,263.24 L339.72,264.55 L340.04,264.76 L340.36,261.22 L340.68,263.44 L341.00,262.03 L341.32,263.03 L341.65,259.17 L341.97,261.12 L342.29,261.45 L342.61,259.24 L342.93,256.97 L343.25,257.06 L343.57,256.49 L343.89,255.80 L344.22,255.72 L344.54,257.71 L344.86,254.75 L345.18,257.74 L345.50,257.27 L345.82,257.34 L346.14,256.93 L346.46,256.13 L346.79,256.88 L347.11,256.71 L347.43,254.66 L347.75,256.10 L348.07,251.27 L348.39,250.93 L348.71,250.39 L349.03,250.80 L349.36,251.35 L349.68,251.46 L350.00,252.30 L350.32,252.31 L350.64,248.48 L350.96,249.85 L351.28,250.26 L351.61,249.03 L351.93,247.32 L352.25,249.56 L352.57,248.03 L352.89,249.36 L353.21,248.01 L353.53,250.20 L353.85,249.77 L354.18,244.70 L354.50,248.09 L354.82,247.54 L355.14,244.88 L355.46,243.55 L355.78,245.17 L356.10,244.14 L356.42,245.88 L356.75,246.51 L357.07,243.19 L357.39,242.32 L357.71,243.09 L358.03,243.81 L358.35,243.94 L358.67,242.37 L358.99,240.42 L359.31,240.26 L359.64,242.73 L359.96,240.49 L360.28,237.45 L360.60,239.14 L360.92,237.69 L361.24,239.71 L361.56,235.93 L361.88,236.64 L362.21,235.22 L362.53,236.97 L362.85,239.45 L363.17,236.48 L363.49,235.16 L363.81,237.88 L364.13,232.58 L364.45,233.66 L364.78,235.85 L365.10,230.72 L365.42,234.69 L365.74,231.86 L366.06,229.38 L366.38,230.28 L366.70,231.03 L367.02,230.11 L367.35,230.40 L367.67,227.15 L367.99,227.61 L368.31,231.57 L368.63,227.86 L368.95,227.47 L369.27,224.58 L369.60,225.16 L369.92,228.63 L370.24,226.43 L370.56,224.75 L370.88,221.38 L371.20,222.84 L371.52,224.60 L371.84,221.91 L372.16,222.30 L372.49,223.64 L372.81,221.50 L373.13,220.91 L373.45,216.68 L373.77,216.10 L374.09,220.26 L374.41,217.58 L374.74,220.03 L375.06,219.30 L375.38,219.43 L375.70,215.64 L376.02,219.13 L376.34,217.19 L376.66,217.65 L376.98,212.57 L377.31,216.18 L377.63,213.56 L377.95,216.69 L378.27,216.51 L378.59,211.26 L378.91,212.28 L379.23,211.05 L379.55,212.08 L379.88,210.68 L380.20,212.91 L380.52,209.27 L380.84,209.41 L381.16,211.14 L381.48,208.57 L381.80,210.48 L382.12,213.73 L382.44,213.62 L382.77,209.20 L383.09,208.06 L383.41,213.27 L383.73,214.15 L384.05,211.89 L384.37,209.00 L384.69,209.71 L385.01,214.18 L385.34,214.40 L385.66,208.72 L385.98,209.84 L386.30,211.54 L386.62,210.67 L386.94,213.95 L387.26,211.70 L387.58,214.47 L387.91,210.72 L388.23,213.28 L388.55,216.42 L388.87,214.94 L389.19,211.35 L389.51,211.76 L389.83,215.45 L390.15,214.07 L390.48,214.37 L390.80,215.40 L391.12,216.44 L391.44,219.23 L391.76,215.11 L392.08,217.60 L392.40,216.18 L392.73,218.44 L393.05,220.15 L393.37,217.01 L393.69,219.78 L394.01,221.80 L394.33,218.19 L394.65,223.57 L394.97,222.14 L395.29,223.41 L395.62,224.84 L395.94,226.72 L396.26,223.12 L396.58,226.65 L396.90,224.78 L397.22,227.78 L397.54,228.48 L397.87,227.55 L398.19,230.16 L398.51,232.06 L398.83,234.27 L399.15,236.85 L399.47,234.68 L399.79,236.65 L400.11,238.74 L400.44,241.07 L400.76,242.19 L401.08,243.46 L401.40,240.68 L401.72,241.01 L402.04,246.31 L402.36,242.68 L402.68,245.78 L403.00,248.40 L403.33,248.33 L403.65,248.62 L403.97,252.50 L404.29,250.21 L404.61,252.56 L404.93,255.03 L405.25,252.44 L405.57,254.57 L405.90,256.33 L406.22,257.71 L406.54,256.92 L406.86,259.18 L407.18,258.24 L407.50,259.42 L407.82,261.70 L408.14,261.76 L408.47,266.77 L408.79,264.39 L409.11,265.48 L409.43,268.91 L409.75,269.71 L410.07,268.49 L410.39,272.13 L410.71,272.20 L411.04,272.13 L411.36,274.22 L411.68,273.52 L412.00,274.61 L412.32,278.30 L412.64,277.41 L412.96,280.40 L413.28,278.37 L413.61,279.26 L413.93,279.96 L414.25,283.82 L414.57,284.12 L414.89,282.93 L415.21,284.07 L415.53,288.08 L415.86,287.73 L416.18,290.03 L416.50,287.75 L416.82,290.60 L417.14,289.65 L417.46,292.59 L417.78,292.92 L418.10,293.62 L418.42,292.92 L418.75,296.08 L419.07,293.84 L419.39,294.27 L419.71,296.90 L420.03,295.48 L420.35,295.90 L420.67,297.65 L421.00,298.70 L421.32,299.88 L421.64,299.74 L421.96,298.09 L422.28,300.22 L422.60,301.15 L422.92,299.28 L423.24,301.48 L423.56,300.29 L423.89,300.68 L424.21,300.07 L424.53,302.51 L424.85,302.04 L425.17,303.36 L425.49,302.33 L425.81,301.66 L426.13,302.04 L426.46,302.37 L426.78,304.44 L427.10,302.59 L427.42,302.46 L427.74,303.35 L428.06,302.80 L428.38,303.89 L428.70,304.57 L429.03,304.80 L429.35,303.70 L429.67,303.76 L429.99,304.80 L430.31,305.44 L430.63,304.95 L430.95,305.39 L431.27,306.36 L431.60,304.55 L431.92,304.97 L432.24,305.64 L432.56,305.85 L432.88,306.84 L433.20,306.10 L433.52,306.46 L433.85,305.98 L434.17,306.94 L434.49,307.16 L434.81,305.98 L435.13,305.65 L435.45,306.10 L435.77,306.43 L436.09,307.74 L436.41,306.41 L436.74,307.33 L437.06,307.44 L437.38,308.22 L437.70,306.46 L438.02,307.97 L438.34,307.11 L438.66,306.69 L438.99,307.90 L439.31,308.43 L439.63,307.95 L439.95,306.92 L440.27,308.90 L440.59,307.77 L440.91,308.35 L441.23,308.60 L441.55,307.75 L441.88,308.11 L442.20,308.04 L442.52,307.67 L442.84,307.70 L443.16,308.98 L443.48,308.49 L443.80,309.37 L444.12,308.10" fill="none" stroke="#86b6e6" stroke-width="1.3" stroke-linejoin="round" stroke-linecap="round" />
<path d="M269.69,308.48 L270.01,308.22 L270.33,309.50 L270.65,309.20 L270.97,309.37 L271.29,308.64 L271.61,307.88 L271.94,308.42 L272.26,308.03 L272.58,307.63 L272.90,308.61 L273.22,308.06 L273.54,307.68 L273.86,308.42 L274.18,309.20 L274.50,309.20 L274.83,308.23 L275.15,307.49 L275.47,308.76 L275.79,307.43 L276.11,308.24 L276.43,307.29 L276.75,309.07 L277.07,308.14 L277.40,307.89 L277.72,307.50 L278.04,308.03 L278.36,308.87 L278.68,307.69 L279.00,307.19 L279.32,307.78 L279.64,308.59 L279.97,307.40 L280.29,307.89 L280.61,308.45 L280.93,307.11 L281.25,308.10 L281.57,307.43 L281.89,306.51 L282.21,306.24 L282.54,308.15 L282.86,307.02 L283.18,306.89 L283.50,307.90 L283.82,307.04 L284.14,306.78 L284.46,306.20 L284.79,307.19 L285.11,305.96 L285.43,306.37 L285.75,306.97 L286.07,306.51 L286.39,305.29 L286.71,305.36 L287.03,306.46 L287.36,306.45 L287.68,304.81 L288.00,306.93 L288.32,304.68 L288.64,304.66 L288.96,304.36 L289.28,305.15 L289.60,305.49 L289.93,306.00 L290.25,304.11 L290.57,305.38 L290.89,303.73 L291.21,304.86 L291.53,303.89 L291.85,304.05 L292.17,303.13 L292.50,304.79 L292.82,303.07 L293.14,304.69 L293.46,303.41 L293.78,303.99 L294.10,304.00 L294.42,303.47 L294.74,304.41 L295.06,304.42 L295.39,302.52 L295.71,302.54 L296.03,303.94 L296.35,301.72 L296.67,302.40 L296.99,302.25 L297.31,303.73 L297.63,301.16 L297.96,302.54 L298.28,302.71 L298.60,302.49 L298.92,300.22 L299.24,302.85 L299.56,300.85 L299.88,302.30 L300.20,301.59 L300.53,300.72 L300.85,301.83 L301.17,301.19 L301.49,300.02 L301.81,301.05 L302.13,300.21 L302.45,300.69 L302.77,300.23 L303.10,300.63 L303.42,298.48 L303.74,299.37 L304.06,297.64 L304.38,299.96 L304.70,299.73 L305.02,299.77 L305.35,297.06 L305.67,298.45 L305.99,298.09 L306.31,296.74 L306.63,296.82 L306.95,299.15 L307.27,298.57 L307.59,296.36 L307.92,298.11 L308.24,297.33 L308.56,296.24 L308.88,296.91 L309.20,295.30 L309.52,295.24 L309.84,294.13 L310.16,296.12 L310.49,295.64 L310.81,295.98 L311.13,294.94 L311.45,294.47 L311.77,293.79 L312.09,295.06 L312.41,293.55 L312.73,294.10 L313.06,294.42 L313.38,293.06 L313.70,293.67 L314.02,291.16 L314.34,291.60 L314.66,293.43 L314.98,290.62 L315.30,290.00 L315.62,289.54 L315.95,292.02 L316.27,289.26 L316.59,290.26 L316.91,289.87 L317.23,290.92 L317.55,289.36 L317.87,289.20 L318.19,286.97 L318.52,289.59 L318.84,289.15 L319.16,288.26 L319.48,288.75 L319.80,287.55 L320.12,287.61 L320.44,287.82 L320.76,286.55 L321.09,283.83 L321.41,286.96 L321.73,287.06 L322.05,283.54 L322.37,282.65 L322.69,283.43 L323.01,282.11 L323.33,282.88 L323.66,281.38 L323.98,281.58 L324.30,280.33 L324.62,281.76 L324.94,280.88 L325.26,282.34 L325.58,280.57 L325.90,279.28 L326.23,282.28 L326.55,281.69 L326.87,280.47 L327.19,278.10 L327.51,278.55 L327.83,278.41 L328.15,277.88 L328.48,275.86 L328.80,277.38 L329.12,278.41 L329.44,277.74 L329.76,278.13 L330.08,276.99 L330.40,277.00 L330.72,277.14 L331.05,277.00 L331.37,276.10 L331.69,274.04 L332.01,274.79 L332.33,274.44 L332.65,275.11 L332.97,273.99 L333.29,272.39 L333.62,270.87 L333.94,271.14 L334.26,270.43 L334.58,272.08 L334.90,272.13 L335.22,269.07 L335.54,270.31 L335.86,271.40 L336.19,268.79 L336.51,267.13 L336.83,269.19 L337.15,267.65 L337.47,266.23 L337.79,266.54 L338.11,264.80 L338.43,265.10 L338.75,266.05 L339.08,264.11 L339.40,263.24 L339.72,265.51 L340.04,267.13 L340.36,266.15 L340.68,263.27 L341.00,265.85 L341.32,261.29 L341.65,261.26 L341.97,260.17 L342.29,260.05 L342.61,262.41 L342.93,262.83 L343.25,261.06 L343.57,262.36 L343.89,260.23 L344.22,262.25 L344.54,260.33 L344.86,259.63 L345.18,257.42 L345.50,258.39 L345.82,258.13 L346.14,259.77 L346.46,256.39 L346.79,256.39 L347.11,258.78 L347.43,254.59 L347.75,256.69 L348.07,254.72 L348.39,256.73 L348.71,256.05 L349.03,253.11 L349.36,256.13 L349.68,254.12 L350.00,253.35 L350.32,255.87 L350.64,255.15 L350.96,252.35 L351.28,253.99 L351.61,250.72 L351.93,252.52 L352.25,249.87 L352.57,252.54 L352.89,253.71 L353.21,251.89 L353.53,248.35 L353.85,250.58 L354.18,250.02 L354.50,249.56 L354.82,247.64 L355.14,248.00 L355.46,248.60 L355.78,246.20 L356.10,249.17 L356.42,246.46 L356.75,246.37 L357.07,244.91 L357.39,245.73 L357.71,248.85 L358.03,244.95 L358.35,243.49 L358.67,244.52 L358.99,247.49 L359.31,242.33 L359.64,243.38 L359.96,242.25 L360.28,244.53 L360.60,242.92 L360.92,240.47 L361.24,244.41 L361.56,240.99 L361.88,242.63 L362.21,240.91 L362.53,242.90 L362.85,237.84 L363.17,238.41 L363.49,238.33 L363.81,237.78 L364.13,240.58 L364.45,238.32 L364.78,236.99 L365.10,237.49 L365.42,239.03 L365.74,236.99 L366.06,235.86 L366.38,236.62 L366.70,235.93 L367.02,234.24 L367.35,233.89 L367.67,231.67 L367.99,233.00 L368.31,235.10 L368.63,231.18 L368.95,230.99 L369.27,231.88 L369.60,231.25 L369.92,228.19 L370.24,229.26 L370.56,230.43 L370.88,225.66 L371.20,225.49 L371.52,228.86 L371.84,229.23 L372.16,223.54 L372.49,223.08 L372.81,225.91 L373.13,223.29 L373.45,225.10 L373.77,220.76 L374.09,222.94 L374.41,220.67 L374.74,221.32 L375.06,223.16 L375.38,221.61 L375.70,223.36 L376.02,222.90 L376.34,221.11 L376.66,222.17 L376.98,217.57 L377.31,219.09 L377.63,217.77 L377.95,219.37 L378.27,215.80 L378.59,220.42 L378.91,216.88 L379.23,219.25 L379.55,220.04 L379.88,219.81 L380.20,216.12 L380.52,218.94 L380.84,219.69 L381.16,214.04 L381.48,217.88 L381.80,217.70 L382.12,215.92 L382.44,214.74 L382.77,214.06 L383.09,215.58 L383.41,218.94 L383.73,215.58 L384.05,214.69 L384.37,217.09 L384.69,215.99 L385.01,217.21 L385.34,216.29 L385.66,215.33 L385.98,213.86 L386.30,218.99 L386.62,218.13 L386.94,215.65 L387.26,217.45 L387.58,218.16 L387.91,217.87 L388.23,220.61 L388.55,220.07 L388.87,217.31 L389.19,217.79 L389.51,219.78 L389.83,217.24 L390.15,222.41 L390.48,217.13 L390.80,220.32 L391.12,219.26 L391.44,221.22 L391.76,218.61 L392.08,220.15 L392.40,225.39 L392.73,224.60 L393.05,221.60 L393.37,223.60 L393.69,221.57 L394.01,222.73 L394.33,223.81 L394.65,229.33 L394.97,225.91 L395.29,226.23 L395.62,225.87 L395.94,226.89 L396.26,233.04 L396.58,232.30 L396.90,234.23 L397.22,234.59 L397.54,235.14 L397.87,232.95 L398.19,233.38 L398.51,234.93 L398.83,234.71 L399.15,236.32 L399.47,240.46 L399.79,240.13 L400.11,238.39 L400.44,241.08 L400.76,245.17 L401.08,246.18 L401.40,246.51 L401.72,247.53 L402.04,249.53 L402.36,248.58 L402.68,248.64 L403.00,250.68 L403.33,250.11 L403.65,249.79 L403.97,251.97 L404.29,254.00 L404.61,253.19 L404.93,253.96 L405.25,255.80 L405.57,257.40 L405.90,261.39 L406.22,259.95 L406.54,262.68 L406.86,263.17 L407.18,263.37 L407.50,263.00 L407.82,264.32 L408.14,264.93 L408.47,267.43 L408.79,269.45 L409.11,270.10 L409.43,268.71 L409.75,269.00 L410.07,269.33 L410.39,272.96 L410.71,272.29 L411.04,272.25 L411.36,274.56 L411.68,275.19 L412.00,276.05 L412.32,279.02 L412.64,279.63 L412.96,279.31 L413.28,282.20 L413.61,280.98 L413.93,284.93 L414.25,282.62 L414.57,285.52 L414.89,286.92 L415.21,287.95 L415.53,287.90 L415.86,290.25 L416.18,290.15 L416.50,291.17 L416.82,289.67 L417.14,290.81 L417.46,292.54 L417.78,293.52 L418.10,292.60 L418.42,295.50 L418.75,294.75 L419.07,295.77 L419.39,296.48 L419.71,298.06 L420.03,296.78 L420.35,298.09 L420.67,298.68 L421.00,299.26 L421.32,298.57 L421.64,298.86 L421.96,299.81 L422.28,300.55 L422.60,300.99 L422.92,299.75 L423.24,300.97 L423.56,301.58 L423.89,300.76 L424.21,300.73 L424.53,303.36 L424.85,300.97 L425.17,302.55 L425.49,302.17 L425.81,301.63 L426.13,302.49 L426.46,302.38 L426.78,303.22 L427.10,304.79 L427.42,302.70 L427.74,303.61 L428.06,304.70 L428.38,304.66 L428.70,303.22 L429.03,303.92 L429.35,304.20 L429.67,305.92 L429.99,304.88 L430.31,304.54 L430.63,305.22 L430.95,305.35 L431.27,304.62 L431.60,306.02 L431.92,306.26 L432.24,305.76 L432.56,306.01 L432.88,306.68 L433.20,307.22 L433.52,306.48 L433.85,305.22 L434.17,306.41 L434.49,306.87 L434.81,306.19 L435.13,307.10 L435.45,306.46 L435.77,307.13 L436.09,307.21 L436.41,307.42 L436.74,308.08 L437.06,307.68 L437.38,307.76 L437.70,307.82 L438.02,306.87 L438.34,307.78 L438.66,307.87 L438.99,306.75 L439.31,308.29 L439.63,307.26 L439.95,307.89 L440.27,308.02 L440.59,308.50 L440.91,308.65 L441.23,308.12 L441.55,309.12 L441.88,308.21 L442.20,308.51 L442.52,309.39 L442.84,308.19 L443.16,308.98 L443.48,309.47 L443.80,308.01 L444.12,309.24" fill="none" stroke="#6a9ed8" stroke-width="1.3" stroke-linejoin="round" stroke-linecap="round" />
<path d="M269.69,309.04 L270.01,308.84 L270.33,309.24 L270.65,309.35 L270.97,308.05 L271.29,308.64 L271.61,308.85 L271.94,308.98 L272.26,309.44 L272.58,309.13 L272.90,309.16 L273.22,307.69 L273.54,308.35 L273.86,309.26 L274.18,309.30 L274.50,308.91 L274.83,308.06 L275.15,308.89 L275.47,308.39 L275.79,308.64 L276.11,308.55 L276.43,308.98 L276.75,308.65 L277.07,309.14 L277.40,308.14 L277.72,308.10 L278.04,308.40 L278.36,308.17 L278.68,307.07 L279.00,308.94 L279.32,307.55 L279.64,307.89 L279.97,306.87 L280.29,307.14 L280.61,308.69 L280.93,307.23 L281.25,307.22 L281.57,308.30 L281.89,306.99 L282.21,307.88 L282.54,307.60 L282.86,308.28 L283.18,307.28 L283.50,306.88 L283.82,306.65 L284.14,306.82 L284.46,305.90 L284.79,306.10 L285.11,306.10 L285.43,306.41 L285.75,307.41 L286.07,307.76 L286.39,306.27 L286.71,305.94 L287.03,305.97 L287.36,306.71 L287.68,306.26 L288.00,305.28 L288.32,306.21 L288.64,305.49 L288.96,305.08 L289.28,306.62 L289.60,304.80 L289.93,305.57 L290.25,306.32 L290.57,305.66 L290.89,306.43 L291.21,304.89 L291.53,306.45 L291.85,303.98 L292.17,306.14 L292.50,304.80 L292.82,303.57 L293.14,304.16 L293.46,306.04 L293.78,305.20 L294.10,305.16 L294.42,305.27 L294.74,302.95 L295.06,303.68 L295.39,304.02 L295.71,305.15 L296.03,305.05 L296.35,302.81 L296.67,305.08 L296.99,303.74 L297.31,302.91 L297.63,302.16 L297.96,303.04 L298.28,303.20 L298.60,302.89 L298.92,302.36 L299.24,304.11 L299.56,302.61 L299.88,301.99 L300.20,303.26 L300.53,301.55 L300.85,301.96 L301.17,300.87 L301.49,301.14 L301.81,303.33 L302.13,302.05 L302.45,301.62 L302.77,301.95 L303.10,301.82 L303.42,301.21 L303.74,300.59 L304.06,299.76 L304.38,299.24 L304.70,299.38 L305.02,300.14 L305.35,298.73 L305.67,300.71 L305.99,299.47 L306.31,298.98 L306.63,299.09 L306.95,299.51 L307.27,298.43 L307.59,300.39 L307.92,299.00 L308.24,297.46 L308.56,297.34 L308.88,299.87 L309.20,298.66 L309.52,297.51 L309.84,298.77 L310.16,296.32 L310.49,299.02 L310.81,299.01 L311.13,297.89 L311.45,295.57 L311.77,296.68 L312.09,297.93 L312.41,296.89 L312.73,295.33 L313.06,295.21 L313.38,294.39 L313.70,295.81 L314.02,294.37 L314.34,295.10 L314.66,296.50 L314.98,296.30 L315.30,294.57 L315.62,295.40 L315.95,292.75 L316.27,295.52 L316.59,294.96 L316.91,293.27 L317.23,294.53 L317.55,292.03 L317.87,294.36 L318.19,291.57 L318.52,293.61 L318.84,293.00 L319.16,293.11 L319.48,292.02 L319.80,289.18 L320.12,289.71 L320.44,290.91 L320.76,291.64 L321.09,290.46 L321.41,287.61 L321.73,288.57 L322.05,288.28 L322.37,287.30 L322.69,287.24 L323.01,288.15 L323.33,287.28 L323.66,286.56 L323.98,286.88 L324.30,288.83 L324.62,287.09 L324.94,287.46 L325.26,287.95 L325.58,283.86 L325.90,287.17 L326.23,283.55 L326.55,283.69 L326.87,285.73 L327.19,285.51 L327.51,284.63 L327.83,283.74 L328.15,284.52 L328.48,282.95 L328.80,281.64 L329.12,281.45 L329.44,280.69 L329.76,280.06 L330.08,283.83 L330.40,283.54 L330.72,280.56 L331.05,280.56 L331.37,279.66 L331.69,281.64 L332.01,280.04 L332.33,278.28 L332.65,281.25 L332.97,281.16 L333.29,276.82 L333.62,278.42 L333.94,277.03 L334.26,278.67 L334.58,277.07 L334.90,276.49 L335.22,276.21 L335.54,277.34 L335.86,276.55 L336.19,276.18 L336.51,276.79 L336.83,275.50 L337.15,277.45 L337.47,274.71 L337.79,276.09 L338.11,276.45 L338.43,274.65 L338.75,274.18 L339.08,274.84 L339.40,274.15 L339.72,271.30 L340.04,272.07 L340.36,270.48 L340.68,269.49 L341.00,272.47 L341.32,270.38 L341.65,269.70 L341.97,268.25 L342.29,267.92 L342.61,270.87 L342.93,269.00 L343.25,269.09 L343.57,270.01 L343.89,270.90 L344.22,269.56 L344.54,266.82 L344.86,270.47 L345.18,266.08 L345.50,267.83 L345.82,267.89 L346.14,265.78 L346.46,268.62 L346.79,266.91 L347.11,267.16 L347.43,263.93 L347.75,267.28 L348.07,264.17 L348.39,265.64 L348.71,266.00 L349.03,263.57 L349.36,263.01 L349.68,263.09 L350.00,266.25 L350.32,264.30 L350.64,263.05 L350.96,263.28 L351.28,263.52 L351.61,261.16 L351.93,259.90 L352.25,259.82 L352.57,262.09 L352.89,261.92 L353.21,263.70 L353.53,261.51 L353.85,262.50 L354.18,262.97 L354.50,260.04 L354.82,259.36 L355.14,259.36 L355.46,258.54 L355.78,260.39 L356.10,259.10 L356.42,256.33 L356.75,260.63 L357.07,257.98 L357.39,258.92 L357.71,257.51 L358.03,257.44 L358.35,257.07 L358.67,254.20 L358.99,253.98 L359.31,257.03 L359.64,254.59 L359.96,253.03 L360.28,256.58 L360.60,255.89 L360.92,255.66 L361.24,253.21 L361.56,251.44 L361.88,254.68 L362.21,251.25 L362.53,253.51 L362.85,253.33 L363.17,250.57 L363.49,248.67 L363.81,251.71 L364.13,252.52 L364.45,251.01 L364.78,252.96 L365.10,248.21 L365.42,250.78 L365.74,248.69 L366.06,249.18 L366.38,247.18 L366.70,246.39 L367.02,247.89 L367.35,247.84 L367.67,249.24 L367.99,247.03 L368.31,245.99 L368.63,246.46 L368.95,245.88 L369.27,244.12 L369.60,242.81 L369.92,244.85 L370.24,242.60 L370.56,240.01 L370.88,240.34 L371.20,241.01 L371.52,242.54 L371.84,241.90 L372.16,240.42 L372.49,241.98 L372.81,238.53 L373.13,238.26 L373.45,240.33 L373.77,239.49 L374.09,237.56 L374.41,240.08 L374.74,234.36 L375.06,237.20 L375.38,238.88 L375.70,238.68 L376.02,234.05 L376.34,237.59 L376.66,235.55 L376.98,237.78 L377.31,233.65 L377.63,235.50 L377.95,235.08 L378.27,237.04 L378.59,232.66 L378.91,232.76 L379.23,230.85 L379.55,234.23 L379.88,230.14 L380.20,234.96 L380.52,230.33 L380.84,230.50 L381.16,235.27 L381.48,232.29 L381.80,233.89 L382.12,231.22 L382.44,230.54 L382.77,231.34 L383.09,235.27 L383.41,230.23 L383.73,234.82 L384.05,234.71 L384.37,233.47 L384.69,230.87 L385.01,233.93 L385.34,235.12 L385.66,233.22 L385.98,230.95 L386.30,233.55 L386.62,235.89 L386.94,233.69 L387.26,231.02 L387.58,231.52 L387.91,234.41 L388.23,230.89 L388.55,230.79 L388.87,233.35 L389.19,232.84 L389.51,234.55 L389.83,232.15 L390.15,235.47 L390.48,236.46 L390.80,234.48 L391.12,236.44 L391.44,236.40 L391.76,238.38 L392.08,237.39 L392.40,238.15 L392.73,238.08 L393.05,240.12 L393.37,236.06 L393.69,236.66 L394.01,241.80 L394.33,242.13 L394.65,237.60 L394.97,243.61 L395.29,242.44 L395.62,244.56 L395.94,244.23 L396.26,242.93 L396.58,242.02 L396.90,246.63 L397.22,247.02 L397.54,246.32 L397.87,245.91 L398.19,247.23 L398.51,251.37 L398.83,249.40 L399.15,248.73 L399.47,254.04 L399.79,254.80 L400.11,251.03 L400.44,251.99 L400.76,255.84 L401.08,254.75 L401.40,256.08 L401.72,258.08 L402.04,256.65 L402.36,259.26 L402.68,257.96 L403.00,258.89 L403.33,261.48 L403.65,261.66 L403.97,264.96 L404.29,261.78 L404.61,266.65 L404.93,264.02 L405.25,265.24 L405.57,264.83 L405.90,266.71 L406.22,270.90 L406.54,268.56 L406.86,271.74 L407.18,273.22 L407.50,272.62 L407.82,270.90 L408.14,272.92 L408.47,272.44 L408.79,273.65 L409.11,274.86 L409.43,274.87 L409.75,278.09 L410.07,278.15 L410.39,277.87 L410.71,278.51 L411.04,278.80 L411.36,279.49 L411.68,281.73 L412.00,280.92 L412.32,283.68 L412.64,283.32 L412.96,286.34 L413.28,285.01 L413.61,288.29 L413.93,289.46 L414.25,290.19 L414.57,288.15 L414.89,291.74 L415.21,290.69 L415.53,293.05 L415.86,292.14 L416.18,293.12 L416.50,292.73 L416.82,295.22 L417.14,294.38 L417.46,296.84 L417.78,296.77 L418.10,296.33 L418.42,295.47 L418.75,296.82 L419.07,297.81 L419.39,298.11 L419.71,299.26 L420.03,297.78 L420.35,299.68 L420.67,301.42 L421.00,301.94 L421.32,301.42 L421.64,301.73 L421.96,301.76 L422.28,303.25 L422.60,302.86 L422.92,302.11 L423.24,302.45 L423.56,303.98 L423.89,303.04 L424.21,303.37 L424.53,302.72 L424.85,303.93 L425.17,303.60 L425.49,305.05 L425.81,305.36 L426.13,305.50 L426.46,305.51 L426.78,303.16 L427.10,303.39 L427.42,304.26 L427.74,305.72 L428.06,305.13 L428.38,304.46 L428.70,304.18 L429.03,304.70 L429.35,304.50 L429.67,304.66 L429.99,306.31 L430.31,305.00 L430.63,305.04 L430.95,306.28 L431.27,305.15 L431.60,306.99 L431.92,306.62 L432.24,307.26 L432.56,306.97 L432.88,307.06 L433.20,306.02 L433.52,306.47 L433.85,306.45 L434.17,306.56 L434.49,307.86 L434.81,306.82 L435.13,307.74 L435.45,307.42 L435.77,306.24 L436.09,306.61 L436.41,307.52 L436.74,308.07 L437.06,306.89 L437.38,307.00 L437.70,307.35 L438.02,307.60 L438.34,307.58 L438.66,308.73 L438.99,308.11 L439.31,307.47 L439.63,307.67 L439.95,308.07 L440.27,307.42 L440.59,307.96 L440.91,307.36 L441.23,308.60 L441.55,309.07 L441.88,309.18 L442.20,308.65 L442.52,308.30 L442.84,308.68 L443.16,308.73 L443.48,308.11 L443.80,308.81 L444.12,308.80" fill="none" stroke="#2f4a9a" stroke-width="1.3" stroke-linejoin="round" stroke-linecap="round" />
<path d="M269.69,308.32 L270.01,308.68 L270.33,309.33 L270.65,308.97 L270.97,308.39 L271.29,308.20 L271.61,308.89 L271.94,308.73 L272.26,308.23 L272.58,308.53 L272.90,308.39 L273.22,308.78 L273.54,309.24 L273.86,308.25 L274.18,308.55 L274.50,308.57 L274.83,308.75 L275.15,307.90 L275.47,307.88 L275.79,309.19 L276.11,307.61 L276.43,308.66 L276.75,307.78 L277.07,308.22 L277.40,308.11 L277.72,307.64 L278.04,307.48 L278.36,309.06 L278.68,307.12 L279.00,307.30 L279.32,308.52 L279.64,307.70 L279.97,307.29 L280.29,308.49 L280.61,308.90 L280.93,307.18 L281.25,308.22 L281.57,307.50 L281.89,308.78 L282.21,307.84 L282.54,308.46 L282.86,307.89 L283.18,306.63 L283.50,307.28 L283.82,307.82 L284.14,306.49 L284.46,306.27 L284.79,308.31 L285.11,308.09 L285.43,307.39 L285.75,305.92 L286.07,307.38 L286.39,308.01 L286.71,307.44 L287.03,307.21 L287.36,306.47 L287.68,306.87 L288.00,307.53 L288.32,306.39 L288.64,305.25 L288.96,305.35 L289.28,307.31 L289.60,306.62 L289.93,307.13 L290.25,305.02 L290.57,304.83 L290.89,306.24 L291.21,305.50 L291.53,305.51 L291.85,304.81 L292.17,306.13 L292.50,306.10 L292.82,305.87 L293.14,304.99 L293.46,305.07 L293.78,304.72 L294.10,304.82 L294.42,304.34 L294.74,304.65 L295.06,305.92 L295.39,305.39 L295.71,303.43 L296.03,304.84 L296.35,305.17 L296.67,303.73 L296.99,305.18 L297.31,305.23 L297.63,302.63 L297.96,304.13 L298.28,303.32 L298.60,303.46 L298.92,303.60 L299.24,304.41 L299.56,303.63 L299.88,304.29 L300.20,302.28 L300.53,303.81 L300.85,302.48 L301.17,301.73 L301.49,303.50 L301.81,302.69 L302.13,301.50 L302.45,303.44 L302.77,302.08 L303.10,302.52 L303.42,303.37 L303.74,301.19 L304.06,301.74 L304.38,301.62 L304.70,300.67 L305.02,301.33 L305.35,302.58 L305.67,301.58 L305.99,300.06 L306.31,301.27 L306.63,300.91 L306.95,299.97 L307.27,300.82 L307.59,299.70 L307.92,300.90 L308.24,299.44 L308.56,300.75 L308.88,298.83 L309.20,298.25 L309.52,298.62 L309.84,297.77 L310.16,300.16 L310.49,300.42 L310.81,298.26 L311.13,297.49 L311.45,299.54 L311.77,299.27 L312.09,296.97 L312.41,297.01 L312.73,297.50 L313.06,296.02 L313.38,296.11 L313.70,296.58 L314.02,295.38 L314.34,295.26 L314.66,296.72 L314.98,295.40 L315.30,297.44 L315.62,297.39 L315.95,296.10 L316.27,294.40 L316.59,295.98 L316.91,294.16 L317.23,295.93 L317.55,293.99 L317.87,294.77 L318.19,294.75 L318.52,294.32 L318.84,294.26 L319.16,292.42 L319.48,291.42 L319.80,292.00 L320.12,294.07 L320.44,290.18 L320.76,290.89 L321.09,290.75 L321.41,291.02 L321.73,292.50 L322.05,289.43 L322.37,288.90 L322.69,288.29 L323.01,289.35 L323.33,290.69 L323.66,289.31 L323.98,289.85 L324.30,289.05 L324.62,288.16 L324.94,288.10 L325.26,286.29 L325.58,289.88 L325.90,288.70 L326.23,285.74 L326.55,285.93 L326.87,288.15 L327.19,286.71 L327.51,287.49 L327.83,287.25 L328.15,284.35 L328.48,287.05 L328.80,284.06 L329.12,283.52 L329.44,285.94 L329.76,285.99 L330.08,283.45 L330.40,283.55 L330.72,284.85 L331.05,282.61 L331.37,283.02 L331.69,285.23 L332.01,281.06 L332.33,284.50 L332.65,283.98 L332.97,284.22 L333.29,280.51 L333.62,280.02 L333.94,280.86 L334.26,279.35 L334.58,282.59 L334.90,280.68 L335.22,281.68 L335.54,279.76 L335.86,279.53 L336.19,281.41 L336.51,277.20 L336.83,277.40 L337.15,280.12 L337.47,278.57 L337.79,279.21 L338.11,279.96 L338.43,278.60 L338.75,277.53 L339.08,277.94 L339.40,276.58 L339.72,274.76 L340.04,274.99 L340.36,277.66 L340.68,275.41 L341.00,272.68 L341.32,275.42 L341.65,276.89 L341.97,274.79 L342.29,273.84 L342.61,273.39 L342.93,274.00 L343.25,273.65 L343.57,272.74 L343.89,274.59 L344.22,274.25 L344.54,273.46 L344.86,272.92 L345.18,272.63 L345.50,269.71 L345.82,270.96 L346.14,269.56 L346.46,269.00 L346.79,272.61 L347.11,268.64 L347.43,271.44 L347.75,271.30 L348.07,268.82 L348.39,266.60 L348.71,267.16 L349.03,269.38 L349.36,269.48 L349.68,267.38 L350.00,268.43 L350.32,265.89 L350.64,268.28 L350.96,268.70 L351.28,268.47 L351.61,267.07 L351.93,266.89 L352.25,263.59 L352.57,264.77 L352.89,265.28 L353.21,263.24 L353.53,263.01 L353.85,267.54 L354.18,265.82 L354.50,264.92 L354.82,265.37 L355.14,266.10 L355.46,264.58 L355.78,263.19 L356.10,262.75 L356.42,265.67 L356.75,265.32 L357.07,260.64 L357.39,264.06 L357.71,262.82 L358.03,260.89 L358.35,262.57 L358.67,259.96 L358.99,262.31 L359.31,260.99 L359.64,260.86 L359.96,257.61 L360.28,262.09 L360.60,262.11 L360.92,260.72 L361.24,257.78 L361.56,259.92 L361.88,256.18 L362.21,258.33 L362.53,256.88 L362.85,257.30 L363.17,255.95 L363.49,254.38 L363.81,256.16 L364.13,254.71 L364.45,254.03 L364.78,254.61 L365.10,253.08 L365.42,252.16 L365.74,257.38 L366.06,251.68 L366.38,256.26 L366.70,253.14 L367.02,251.04 L367.35,252.50 L367.67,252.61 L367.99,249.56 L368.31,252.07 L368.63,248.50 L368.95,249.83 L369.27,251.89 L369.60,252.28 L369.92,247.85 L370.24,248.80 L370.56,251.65 L370.88,247.39 L371.20,245.76 L371.52,246.11 L371.84,249.48 L372.16,245.87 L372.49,247.44 L372.81,248.72 L373.13,246.39 L373.45,243.40 L373.77,244.80 L374.09,243.50 L374.41,244.13 L374.74,244.67 L375.06,246.62 L375.38,244.52 L375.70,243.09 L376.02,244.69 L376.34,242.49 L376.66,240.23 L376.98,242.96 L377.31,240.16 L377.63,239.54 L377.95,240.40 L378.27,240.78 L378.59,237.68 L378.91,239.57 L379.23,243.19 L379.55,240.15 L379.88,239.09 L380.20,239.52 L380.52,240.94 L380.84,239.58 L381.16,238.87 L381.48,239.92 L381.80,237.92 L382.12,240.49 L382.44,238.81 L382.77,240.61 L383.09,238.31 L383.41,240.19 L383.73,237.38 L384.05,239.27 L384.37,239.37 L384.69,236.36 L385.01,237.15 L385.34,239.36 L385.66,241.39 L385.98,241.79 L386.30,242.09 L386.62,241.97 L386.94,243.11 L387.26,238.33 L387.58,238.19 L387.91,238.26 L388.23,242.58 L388.55,238.93 L388.87,239.92 L389.19,238.99 L389.51,244.07 L389.83,239.87 L390.15,240.26 L390.48,242.77 L390.80,243.70 L391.12,239.79 L391.44,243.47 L391.76,243.46 L392.08,243.92 L392.40,244.03 L392.73,246.14 L393.05,246.68 L393.37,247.32 L393.69,244.47 L394.01,243.15 L394.33,246.27 L394.65,244.05 L394.97,248.31 L395.29,247.88 L395.62,250.06 L395.94,251.13 L396.26,251.12 L396.58,251.49 L396.90,249.96 L397.22,252.97 L397.54,253.11 L397.87,251.32 L398.19,255.84 L398.51,254.22 L398.83,255.29 L399.15,254.08 L399.47,258.48 L399.79,257.17 L400.11,259.45 L400.44,260.76 L400.76,259.69 L401.08,260.82 L401.40,260.90 L401.72,260.41 L402.04,264.27 L402.36,265.69 L402.68,261.61 L403.00,262.36 L403.33,265.48 L403.65,264.14 L403.97,266.79 L404.29,267.02 L404.61,267.22 L404.93,270.74 L405.25,270.45 L405.57,272.92 L405.90,269.91 L406.22,271.59 L406.54,273.51 L406.86,275.02 L407.18,274.01 L407.50,273.55 L407.82,275.26 L408.14,276.88 L408.47,279.54 L408.79,278.73 L409.11,280.37 L409.43,281.03 L409.75,279.84 L410.07,280.92 L410.39,283.15 L410.71,283.36 L411.04,282.60 L411.36,282.38 L411.68,285.52 L412.00,284.29 L412.32,284.90 L412.64,285.57 L412.96,288.17 L413.28,288.73 L413.61,290.67 L413.93,289.96 L414.25,290.26 L414.57,292.61 L414.89,290.34 L415.21,292.82 L415.53,295.05 L415.86,293.18 L416.18,293.12 L416.50,293.59 L416.82,293.87 L417.14,297.01 L417.46,296.38 L417.78,298.36 L418.10,298.89 L418.42,296.54 L418.75,297.99 L419.07,298.29 L419.39,298.71 L419.71,298.33 L420.03,299.47 L420.35,300.10 L420.67,300.80 L421.00,301.37 L421.32,303.10 L421.64,300.64 L421.96,300.99 L422.28,303.61 L422.60,301.97 L422.92,302.95 L423.24,302.47 L423.56,304.42 L423.89,304.71 L424.21,303.82 L424.53,302.62 L424.85,303.59 L425.17,304.69 L425.49,304.45 L425.81,303.79 L426.13,304.26 L426.46,303.47 L426.78,304.56 L427.10,305.84 L427.42,304.77 L427.74,305.11 L428.06,304.44 L428.38,306.01 L428.70,305.34 L429.03,305.37 L429.35,306.49 L429.67,305.35 L429.99,304.89 L430.31,306.43 L430.63,306.76 L430.95,305.11 L431.27,305.94 L431.60,307.37 L431.92,306.51 L432.24,306.33 L432.56,305.73 L432.88,306.20 L433.20,307.00 L433.52,307.85 L433.85,307.32 L434.17,308.11 L434.49,306.85 L434.81,306.13 L435.13,306.84 L435.45,306.97 L435.77,306.33 L436.09,306.46 L436.41,308.41 L436.74,308.43 L437.06,306.79 L437.38,306.75 L437.70,308.79 L438.02,307.06 L438.34,307.42 L438.66,307.32 L438.99,307.34 L439.31,307.03 L439.63,307.99 L439.95,308.70 L440.27,307.30 L440.59,308.22 L440.91,307.54 L441.23,308.91 L441.55,309.18 L441.88,309.17 L442.20,308.55 L442.52,307.86 L442.84,309.00 L443.16,307.86 L443.48,309.19 L443.80,308.40 L444.12,309.43" fill="none" stroke="#3b5478" stroke-width="1.3" stroke-linejoin="round" stroke-linecap="round" />
<path d="M269.69,308.46 L270.01,309.18 L270.33,308.74 L270.65,308.27 L270.97,308.69 L271.29,308.56 L271.61,308.03 L271.94,308.73 L272.26,308.68 L272.58,308.98 L272.90,308.28 L273.22,308.78 L273.54,307.97 L273.86,308.56 L274.18,308.00 L274.50,309.03 L274.83,307.85 L275.15,308.02 L275.47,307.56 L275.79,307.99 L276.11,308.44 L276.43,307.79 L276.75,307.55 L277.07,309.09 L277.40,307.87 L277.72,307.65 L278.04,307.99 L278.36,308.88 L278.68,308.66 L279.00,308.96 L279.32,308.17 L279.64,307.69 L279.97,308.01 L280.29,307.03 L280.61,308.33 L280.93,308.63 L281.25,308.76 L281.57,308.54 L281.89,308.10 L282.21,308.40 L282.54,307.21 L282.86,307.77 L283.18,306.81 L283.50,308.52 L283.82,307.50 L284.14,306.67 L284.46,308.48 L284.79,307.58 L285.11,306.56 L285.43,308.00 L285.75,307.42 L286.07,307.35 L286.39,307.90 L286.71,306.48 L287.03,306.32 L287.36,306.97 L287.68,306.00 L288.00,307.16 L288.32,306.54 L288.64,305.77 L288.96,305.51 L289.28,305.53 L289.60,306.51 L289.93,307.31 L290.25,306.93 L290.57,307.00 L290.89,306.19 L291.21,306.73 L291.53,305.43 L291.85,305.45 L292.17,306.79 L292.50,304.99 L292.82,305.89 L293.14,305.66 L293.46,304.19 L293.78,305.50 L294.10,306.05 L294.42,306.22 L294.74,304.85 L295.06,306.09 L295.39,303.61 L295.71,305.95 L296.03,305.24 L296.35,305.52 L296.67,304.41 L296.99,304.71 L297.31,305.31 L297.63,303.49 L297.96,303.27 L298.28,304.83 L298.60,305.10 L298.92,303.11 L299.24,303.95 L299.56,303.73 L299.88,303.05 L300.20,304.53 L300.53,302.76 L300.85,304.15 L301.17,302.94 L301.49,302.02 L301.81,304.40 L302.13,301.80 L302.45,301.55 L302.77,301.21 L303.10,302.09 L303.42,300.96 L303.74,301.24 L304.06,303.59 L304.38,301.31 L304.70,302.65 L305.02,300.94 L305.35,300.17 L305.67,300.02 L305.99,300.26 L306.31,302.83 L306.63,301.09 L306.95,300.28 L307.27,299.48 L307.59,301.30 L307.92,300.09 L308.24,299.50 L308.56,300.22 L308.88,301.00 L309.20,299.61 L309.52,300.21 L309.84,298.80 L310.16,299.92 L310.49,297.99 L310.81,300.87 L311.13,300.74 L311.45,299.37 L311.77,298.85 L312.09,298.42 L312.41,299.50 L312.73,298.73 L313.06,299.03 L313.38,297.91 L313.70,297.58 L314.02,298.56 L314.34,296.42 L314.66,296.81 L314.98,296.24 L315.30,295.91 L315.62,298.13 L315.95,295.89 L316.27,297.26 L316.59,294.47 L316.91,297.54 L317.23,295.60 L317.55,296.42 L317.87,293.77 L318.19,295.44 L318.52,296.01 L318.84,293.76 L319.16,292.77 L319.48,293.66 L319.80,294.94 L320.12,294.68 L320.44,291.69 L320.76,292.48 L321.09,294.61 L321.41,291.87 L321.73,290.83 L322.05,293.75 L322.37,293.33 L322.69,291.58 L323.01,292.38 L323.33,292.38 L323.66,292.51 L323.98,289.59 L324.30,291.61 L324.62,292.19 L324.94,291.39 L325.26,290.04 L325.58,289.26 L325.90,291.51 L326.23,291.34 L326.55,290.31 L326.87,288.79 L327.19,290.22 L327.51,289.91 L327.83,288.07 L328.15,286.21 L328.48,288.06 L328.80,285.73 L329.12,286.37 L329.44,287.16 L329.76,286.62 L330.08,287.01 L330.40,287.56 L330.72,287.90 L331.05,284.79 L331.37,287.45 L331.69,284.36 L332.01,284.23 L332.33,285.84 L332.65,286.61 L332.97,284.22 L333.29,285.31 L333.62,285.21 L333.94,282.60 L334.26,283.76 L334.58,285.01 L334.90,280.48 L335.22,280.71 L335.54,283.98 L335.86,282.29 L336.19,281.35 L336.51,282.86 L336.83,280.95 L337.15,279.24 L337.47,279.98 L337.79,281.70 L338.11,280.87 L338.43,279.90 L338.75,277.29 L339.08,281.81 L339.40,277.08 L339.72,277.78 L340.04,280.03 L340.36,280.50 L340.68,279.01 L341.00,277.24 L341.32,278.79 L341.65,278.15 L341.97,277.45 L342.29,278.23 L342.61,276.82 L342.93,276.50 L343.25,274.84 L343.57,277.22 L343.89,273.58 L344.22,273.27 L344.54,275.75 L344.86,272.54 L345.18,276.55 L345.50,272.82 L345.82,274.00 L346.14,272.71 L346.46,273.63 L346.79,274.10 L347.11,271.70 L347.43,273.29 L347.75,275.30 L348.07,270.79 L348.39,270.93 L348.71,270.59 L349.03,269.91 L349.36,269.19 L349.68,273.96 L350.00,273.77 L350.32,268.67 L350.64,272.66 L350.96,271.10 L351.28,268.91 L351.61,272.29 L351.93,267.98 L352.25,270.57 L352.57,270.52 L352.89,270.45 L353.21,267.74 L353.53,267.05 L353.85,269.43 L354.18,267.38 L354.50,268.85 L354.82,269.36 L355.14,265.28 L355.46,268.83 L355.78,269.99 L356.10,266.61 L356.42,267.32 L356.75,265.73 L357.07,268.52 L357.39,264.65 L357.71,263.72 L358.03,265.71 L358.35,265.13 L358.67,265.58 L358.99,263.28 L359.31,267.08 L359.64,264.62 L359.96,263.54 L360.28,265.30 L360.60,261.04 L360.92,265.76 L361.24,265.01 L361.56,261.47 L361.88,262.31 L362.21,259.68 L362.53,263.70 L362.85,264.46 L363.17,262.02 L363.49,263.94 L363.81,260.75 L364.13,262.75 L364.45,262.32 L364.78,262.51 L365.10,259.51 L365.42,259.50 L365.74,256.43 L366.06,261.48 L366.38,256.12 L366.70,258.71 L367.02,258.53 L367.35,255.67 L367.67,256.38 L367.99,255.74 L368.31,253.66 L368.63,255.63 L368.95,255.15 L369.27,256.79 L369.60,256.30 L369.92,257.42 L370.24,256.57 L370.56,252.46 L370.88,254.22 L371.20,254.33 L371.52,254.53 L371.84,250.18 L372.16,250.97 L372.49,252.33 L372.81,250.13 L373.13,253.49 L373.45,250.05 L373.77,251.54 L374.09,247.27 L374.41,252.13 L374.74,252.32 L375.06,251.99 L375.38,247.81 L375.70,250.62 L376.02,251.29 L376.34,245.52 L376.66,245.04 L376.98,248.51 L377.31,250.32 L377.63,244.02 L377.95,248.91 L378.27,247.57 L378.59,246.19 L378.91,243.89 L379.23,246.03 L379.55,245.82 L379.88,243.78 L380.20,248.11 L380.52,246.98 L380.84,243.21 L381.16,246.05 L381.48,245.83 L381.80,247.97 L382.12,248.21 L382.44,247.60 L382.77,242.25 L383.09,244.59 L383.41,242.90 L383.73,246.74 L384.05,242.50 L384.37,247.32 L384.69,246.00 L385.01,246.24 L385.34,248.24 L385.66,247.83 L385.98,247.05 L386.30,246.47 L386.62,246.06 L386.94,245.99 L387.26,242.99 L387.58,244.19 L387.91,247.46 L388.23,245.87 L388.55,246.26 L388.87,248.93 L389.19,246.20 L389.51,248.55 L389.83,249.24 L390.15,249.61 L390.48,246.07 L390.80,248.65 L391.12,248.01 L391.44,249.01 L391.76,246.15 L392.08,247.09 L392.40,247.76 L392.73,251.44 L393.05,251.80 L393.37,249.68 L393.69,251.46 L394.01,250.86 L394.33,251.89 L394.65,250.69 L394.97,251.64 L395.29,255.87 L395.62,255.93 L395.94,251.81 L396.26,252.36 L396.58,257.40 L396.90,255.46 L397.22,257.23 L397.54,257.62 L397.87,258.26 L398.19,260.67 L398.51,256.90 L398.83,261.69 L399.15,258.87 L399.47,258.50 L399.79,260.46 L400.11,262.39 L400.44,264.72 L400.76,264.15 L401.08,267.03 L401.40,263.35 L401.72,265.12 L402.04,266.89 L402.36,267.68 L402.68,268.94 L403.00,268.60 L403.33,267.10 L403.65,271.44 L403.97,272.17 L404.29,269.01 L404.61,273.58 L404.93,270.02 L405.25,274.22 L405.57,274.56 L405.90,273.55 L406.22,273.17 L406.54,274.70 L406.86,277.21 L407.18,277.42 L407.50,279.47 L407.82,276.97 L408.14,279.83 L408.47,278.96 L408.79,278.38 L409.11,279.75 L409.43,280.06 L409.75,280.97 L410.07,281.08 L410.39,286.08 L410.71,283.91 L411.04,286.37 L411.36,285.52 L411.68,286.57 L412.00,286.08 L412.32,289.77 L412.64,287.25 L412.96,291.13 L413.28,291.02 L413.61,292.03 L413.93,289.53 L414.25,293.85 L414.57,293.16 L414.89,293.51 L415.21,294.10 L415.53,294.25 L415.86,296.80 L416.18,297.46 L416.50,297.88 L416.82,295.39 L417.14,297.32 L417.46,298.43 L417.78,297.05 L418.10,300.01 L418.42,299.95 L418.75,298.20 L419.07,299.21 L419.39,300.88 L419.71,301.91 L420.03,302.62 L420.35,300.58 L420.67,302.69 L421.00,302.18 L421.32,301.74 L421.64,301.63 L421.96,301.46 L422.28,301.49 L422.60,302.92 L422.92,302.20 L423.24,302.65 L423.56,303.19 L423.89,302.82 L424.21,303.18 L424.53,303.50 L424.85,305.72 L425.17,304.29 L425.49,304.97 L425.81,304.89 L426.13,306.19 L426.46,305.93 L426.78,306.33 L427.10,306.29 L427.42,306.04 L427.74,306.52 L428.06,305.17 L428.38,306.01 L428.70,305.39 L429.03,307.05 L429.35,305.42 L429.67,307.41 L429.99,305.53 L430.31,305.89 L430.63,306.99 L430.95,306.64 L431.27,305.82 L431.60,305.68 L431.92,307.61 L432.24,306.03 L432.56,306.84 L432.88,307.71 L433.20,306.92 L433.52,306.96 L433.85,306.28 L434.17,308.18 L434.49,307.45 L434.81,307.67 L435.13,307.09 L435.45,307.89 L435.77,307.19 L436.09,306.80 L436.41,307.26 L436.74,308.24 L437.06,308.52 L437.38,307.80 L437.70,308.17 L438.02,308.82 L438.34,308.25 L438.66,309.00 L438.99,307.51 L439.31,308.87 L439.63,308.66 L439.95,308.33 L440.27,308.42 L440.59,307.60 L440.91,307.35 L441.23,307.44 L441.55,309.19 L441.88,308.27 L442.20,308.71 L442.52,308.45 L442.84,309.31 L443.16,309.09 L443.48,308.48 L443.80,308.99 L444.12,308.34" fill="none" stroke="#7388d2" stroke-width="1.3" stroke-linejoin="round" stroke-linecap="round" />
<path d="M269.69,309.51 L270.01,308.20 L270.33,309.47 L270.65,308.80 L270.97,308.08 L271.29,309.57 L271.61,308.12 L271.94,308.98 L272.26,308.19 L272.58,307.93 L272.90,309.15 L273.22,309.32 L273.54,309.31 L273.86,308.87 L274.18,308.80 L274.50,307.84 L274.83,309.45 L275.15,308.12 L275.47,308.71 L275.79,307.48 L276.11,308.03 L276.43,308.42 L276.75,308.30 L277.07,308.15 L277.40,308.06 L277.72,307.28 L278.04,308.55 L278.36,307.92 L278.68,307.38 L279.00,307.89 L279.32,308.49 L279.64,308.62 L279.97,307.89 L280.29,307.21 L280.61,308.27 L280.93,308.18 L281.25,307.89 L281.57,308.92 L281.89,307.56 L282.21,307.86 L282.54,306.71 L282.86,306.89 L283.18,306.98 L283.50,306.91 L283.82,306.82 L284.14,306.61 L284.46,308.44 L284.79,307.62 L285.11,307.33 L285.43,307.45 L285.75,306.73 L286.07,308.06 L286.39,307.70 L286.71,306.89 L287.03,305.84 L287.36,305.72 L287.68,305.74 L288.00,307.38 L288.32,305.59 L288.64,306.57 L288.96,306.68 L289.28,306.24 L289.60,305.99 L289.93,307.56 L290.25,307.54 L290.57,306.96 L290.89,306.33 L291.21,307.34 L291.53,306.62 L291.85,305.31 L292.17,304.99 L292.50,304.93 L292.82,304.74 L293.14,305.44 L293.46,305.95 L293.78,304.79 L294.10,304.36 L294.42,304.98 L294.74,305.24 L295.06,306.33 L295.39,306.29 L295.71,306.02 L296.03,304.36 L296.35,305.87 L296.67,304.25 L296.99,305.03 L297.31,304.81 L297.63,303.85 L297.96,304.66 L298.28,303.76 L298.60,305.23 L298.92,303.50 L299.24,305.01 L299.56,303.17 L299.88,302.54 L300.20,303.73 L300.53,304.96 L300.85,304.13 L301.17,302.88 L301.49,303.54 L301.81,302.91 L302.13,303.83 L302.45,302.58 L302.77,302.10 L303.10,304.57 L303.42,301.48 L303.74,301.67 L304.06,302.14 L304.38,302.07 L304.70,302.66 L305.02,302.36 L305.35,301.16 L305.67,303.21 L305.99,302.71 L306.31,300.89 L306.63,300.72 L306.95,300.41 L307.27,301.60 L307.59,301.89 L307.92,302.04 L308.24,300.32 L308.56,302.28 L308.88,302.28 L309.20,300.71 L309.52,299.38 L309.84,299.42 L310.16,301.15 L310.49,298.77 L310.81,300.55 L311.13,300.73 L311.45,298.17 L311.77,298.46 L312.09,298.63 L312.41,299.17 L312.73,300.47 L313.06,300.14 L313.38,298.53 L313.70,297.01 L314.02,298.74 L314.34,297.32 L314.66,297.48 L314.98,299.64 L315.30,297.10 L315.62,297.31 L315.95,298.14 L316.27,298.92 L316.59,295.47 L316.91,297.25 L317.23,297.32 L317.55,295.08 L317.87,294.77 L318.19,295.44 L318.52,295.25 L318.84,296.42 L319.16,297.26 L319.48,295.86 L319.80,294.73 L320.12,296.75 L320.44,296.30 L320.76,294.12 L321.09,294.03 L321.41,294.01 L321.73,292.13 L322.05,294.09 L322.37,294.16 L322.69,292.99 L323.01,293.22 L323.33,294.34 L323.66,292.95 L323.98,293.02 L324.30,293.62 L324.62,292.78 L324.94,291.41 L325.26,293.29 L325.58,293.04 L325.90,289.15 L326.23,292.85 L326.55,289.07 L326.87,291.91 L327.19,290.67 L327.51,291.05 L327.83,288.95 L328.15,288.47 L328.48,287.76 L328.80,287.29 L329.12,287.03 L329.44,287.05 L329.76,289.71 L330.08,288.23 L330.40,289.44 L330.72,289.80 L331.05,287.12 L331.37,285.71 L331.69,288.74 L332.01,284.96 L332.33,286.56 L332.65,287.85 L332.97,284.33 L333.29,284.76 L333.62,286.30 L333.94,283.51 L334.26,286.84 L334.58,286.07 L334.90,284.95 L335.22,285.76 L335.54,282.54 L335.86,285.64 L336.19,283.95 L336.51,282.98 L336.83,284.80 L337.15,282.86 L337.47,280.63 L337.79,283.54 L338.11,280.11 L338.43,282.40 L338.75,280.49 L339.08,281.18 L339.40,280.98 L339.72,282.10 L340.04,281.56 L340.36,279.91 L340.68,279.06 L341.00,281.54 L341.32,277.76 L341.65,280.10 L341.97,280.58 L342.29,279.86 L342.61,276.61 L342.93,276.66 L343.25,279.25 L343.57,279.75 L343.89,278.76 L344.22,280.32 L344.54,278.66 L344.86,277.04 L345.18,279.55 L345.50,275.65 L345.82,274.78 L346.14,276.01 L346.46,273.93 L346.79,276.51 L347.11,276.13 L347.43,274.14 L347.75,276.13 L348.07,275.19 L348.39,276.19 L348.71,276.47 L349.03,276.32 L349.36,275.52 L349.68,272.24 L350.00,274.54 L350.32,274.84 L350.64,272.14 L350.96,272.87 L351.28,273.47 L351.61,271.94 L351.93,270.73 L352.25,271.61 L352.57,272.10 L352.89,273.83 L353.21,274.77 L353.53,273.82 L353.85,273.87 L354.18,274.16 L354.50,271.40 L354.82,271.78 L355.14,268.35 L355.46,271.91 L355.78,272.34 L356.10,269.44 L356.42,270.67 L356.75,267.62 L357.07,272.04 L357.39,269.01 L357.71,268.94 L358.03,267.40 L358.35,270.78 L358.67,271.01 L358.99,267.76 L359.31,268.14 L359.64,266.58 L359.96,268.68 L360.28,267.97 L360.60,269.01 L360.92,264.08 L361.24,266.59 L361.56,268.98 L361.88,263.36 L362.21,266.53 L362.53,264.85 L362.85,263.10 L363.17,263.90 L363.49,267.45 L363.81,262.87 L364.13,264.11 L364.45,266.11 L364.78,261.45 L365.10,260.67 L365.42,263.77 L365.74,263.61 L366.06,259.91 L366.38,264.31 L366.70,263.62 L367.02,262.32 L367.35,259.94 L367.67,263.66 L367.99,259.19 L368.31,263.49 L368.63,260.50 L368.95,262.30 L369.27,259.78 L369.60,259.79 L369.92,261.46 L370.24,258.07 L370.56,256.95 L370.88,260.56 L371.20,260.37 L371.52,254.72 L371.84,258.84 L372.16,257.89 L372.49,254.16 L372.81,253.97 L373.13,252.56 L373.45,257.06 L373.77,252.07 L374.09,256.49 L374.41,255.96 L374.74,256.89 L375.06,251.17 L375.38,255.28 L375.70,250.46 L376.02,250.38 L376.34,254.76 L376.66,250.07 L376.98,253.60 L377.31,254.95 L377.63,251.55 L377.95,250.95 L378.27,253.76 L378.59,251.93 L378.91,253.97 L379.23,251.94 L379.55,250.24 L379.88,247.55 L380.20,252.84 L380.52,251.85 L380.84,247.83 L381.16,251.29 L381.48,248.53 L381.80,249.58 L382.12,247.74 L382.44,247.24 L382.77,249.70 L383.09,251.28 L383.41,251.27 L383.73,252.19 L384.05,252.61 L384.37,251.58 L384.69,248.45 L385.01,251.88 L385.34,251.68 L385.66,247.80 L385.98,247.24 L386.30,253.05 L386.62,248.43 L386.94,252.99 L387.26,253.58 L387.58,250.35 L387.91,251.16 L388.23,248.41 L388.55,248.58 L388.87,253.65 L389.19,252.37 L389.51,250.24 L389.83,250.01 L390.15,249.47 L390.48,254.02 L390.80,251.12 L391.12,249.98 L391.44,255.05 L391.76,252.11 L392.08,251.47 L392.40,254.25 L392.73,253.31 L393.05,254.63 L393.37,254.56 L393.69,255.44 L394.01,254.13 L394.33,255.99 L394.65,259.19 L394.97,255.07 L395.29,256.79 L395.62,257.53 L395.94,257.93 L396.26,257.79 L396.58,260.02 L396.90,262.39 L397.22,258.27 L397.54,260.60 L397.87,264.34 L398.19,259.16 L398.51,263.82 L398.83,262.54 L399.15,263.95 L399.47,265.86 L399.79,263.78 L400.11,263.34 L400.44,267.25 L400.76,269.85 L401.08,267.49 L401.40,270.82 L401.72,269.11 L402.04,270.67 L402.36,271.21 L402.68,272.42 L403.00,272.42 L403.33,273.24 L403.65,274.00 L403.97,272.17 L404.29,276.13 L404.61,275.30 L404.93,275.34 L405.25,276.63 L405.57,275.76 L405.90,275.84 L406.22,279.90 L406.54,276.95 L406.86,278.30 L407.18,280.09 L407.50,280.23 L407.82,278.86 L408.14,280.37 L408.47,283.38 L408.79,280.97 L409.11,283.23 L409.43,282.09 L409.75,282.56 L410.07,287.38 L410.39,285.49 L410.71,286.23 L411.04,285.06 L411.36,286.08 L411.68,288.27 L412.00,290.70 L412.32,291.33 L412.64,289.59 L412.96,290.70 L413.28,290.09 L413.61,293.29 L413.93,291.03 L414.25,292.36 L414.57,292.53 L414.89,295.33 L415.21,296.41 L415.53,295.32 L415.86,295.45 L416.18,298.21 L416.50,295.64 L416.82,298.61 L417.14,297.43 L417.46,300.01 L417.78,298.12 L418.10,300.71 L418.42,301.03 L418.75,299.56 L419.07,299.57 L419.39,301.37 L419.71,299.85 L420.03,301.83 L420.35,301.25 L420.67,302.69 L421.00,301.17 L421.32,303.27 L421.64,302.19 L421.96,303.38 L422.28,304.04 L422.60,302.55 L422.92,303.22 L423.24,304.57 L423.56,304.66 L423.89,305.41 L424.21,303.04 L424.53,304.24 L424.85,304.26 L425.17,305.92 L425.49,304.95 L425.81,304.60 L426.13,304.25 L426.46,305.16 L426.78,304.99 L427.10,304.23 L427.42,306.00 L427.74,306.80 L428.06,305.61 L428.38,305.83 L428.70,307.06 L429.03,307.34 L429.35,307.44 L429.67,306.96 L429.99,305.59 L430.31,306.13 L430.63,306.15 L430.95,307.39 L431.27,307.42 L431.60,307.56 L431.92,305.98 L432.24,306.23 L432.56,308.18 L432.88,306.64 L433.20,307.32 L433.52,306.98 L433.85,307.73 L434.17,306.10 L434.49,308.06 L434.81,308.35 L435.13,307.90 L435.45,307.16 L435.77,308.01 L436.09,306.97 L436.41,308.29 L436.74,308.41 L437.06,308.00 L437.38,308.40 L437.70,308.32 L438.02,308.53 L438.34,308.87 L438.66,308.60 L438.99,308.96 L439.31,308.58 L439.63,307.31 L439.95,307.61 L440.27,309.12 L440.59,307.48 L440.91,309.10 L441.23,308.84 L441.55,307.74 L441.88,309.25 L442.20,308.95 L442.52,308.04 L442.84,308.33 L443.16,309.00 L443.48,308.93 L443.80,308.90 L444.12,309.37" fill="none" stroke="#8890c6" stroke-width="1.3" stroke-linejoin="round" stroke-linecap="round" />
<path d="M269.69,308.51 L270.01,309.38 L270.33,309.56 L270.65,309.36 L270.97,308.61 L271.29,308.24 L271.61,308.68 L271.94,308.48 L272.26,308.96 L272.58,307.86 L272.90,308.22 L273.22,307.82 L273.54,307.86 L273.86,308.20 L274.18,308.62 L274.50,309.09 L274.83,308.26 L275.15,309.25 L275.47,308.46 L275.79,309.36 L276.11,308.10 L276.43,308.05 L276.75,307.70 L277.07,308.95 L277.40,308.53 L277.72,309.24 L278.04,308.28 L278.36,308.81 L278.68,307.54 L279.00,309.12 L279.32,307.28 L279.64,307.49 L279.97,309.17 L280.29,307.17 L280.61,309.05 L280.93,309.10 L281.25,307.04 L281.57,307.78 L281.89,308.57 L282.21,308.93 L282.54,307.93 L282.86,308.72 L283.18,307.59 L283.50,308.28 L283.82,306.68 L284.14,307.98 L284.46,306.90 L284.79,308.04 L285.11,306.96 L285.43,306.30 L285.75,307.24 L286.07,306.67 L286.39,307.27 L286.71,306.01 L287.03,306.98 L287.36,306.41 L287.68,306.69 L288.00,307.25 L288.32,307.52 L288.64,306.82 L288.96,306.62 L289.28,306.20 L289.60,306.96 L289.93,307.24 L290.25,305.89 L290.57,305.53 L290.89,306.96 L291.21,305.76 L291.53,306.98 L291.85,306.38 L292.17,305.09 L292.50,305.69 L292.82,307.20 L293.14,306.87 L293.46,306.32 L293.78,307.19 L294.10,307.11 L294.42,306.48 L294.74,306.65 L295.06,305.55 L295.39,306.58 L295.71,304.81 L296.03,306.58 L296.35,306.62 L296.67,306.09 L296.99,306.42 L297.31,305.55 L297.63,305.47 L297.96,303.75 L298.28,305.45 L298.60,303.50 L298.92,305.80 L299.24,305.45 L299.56,305.58 L299.88,305.09 L300.20,303.63 L300.53,304.51 L300.85,304.09 L301.17,305.17 L301.49,304.23 L301.81,303.57 L302.13,304.42 L302.45,304.52 L302.77,303.99 L303.10,303.07 L303.42,303.90 L303.74,303.50 L304.06,301.94 L304.38,302.36 L304.70,301.86 L305.02,302.92 L305.35,301.53 L305.67,303.52 L305.99,302.86 L306.31,301.28 L306.63,303.01 L306.95,303.17 L307.27,300.59 L307.59,302.79 L307.92,301.81 L308.24,303.11 L308.56,303.06 L308.88,301.94 L309.20,302.42 L309.52,300.24 L309.84,301.99 L310.16,301.74 L310.49,301.78 L310.81,300.63 L311.13,299.75 L311.45,300.12 L311.77,299.24 L312.09,300.83 L312.41,300.76 L312.73,300.41 L313.06,300.86 L313.38,298.93 L313.70,299.92 L314.02,300.46 L314.34,299.70 L314.66,297.89 L314.98,298.12 L315.30,298.04 L315.62,297.87 L315.95,299.07 L316.27,297.75 L316.59,296.93 L316.91,299.53 L317.23,297.96 L317.55,299.02 L317.87,297.01 L318.19,295.61 L318.52,295.23 L318.84,298.28 L319.16,294.64 L319.48,294.63 L319.80,296.47 L320.12,295.53 L320.44,293.86 L320.76,294.86 L321.09,295.64 L321.41,293.75 L321.73,294.40 L322.05,293.68 L322.37,294.54 L322.69,295.90 L323.01,294.49 L323.33,294.98 L323.66,295.04 L323.98,291.51 L324.30,291.66 L324.62,294.47 L324.94,292.90 L325.26,292.38 L325.58,294.07 L325.90,291.28 L326.23,292.04 L326.55,293.21 L326.87,292.62 L327.19,289.66 L327.51,290.29 L327.83,292.69 L328.15,291.41 L328.48,290.26 L328.80,292.25 L329.12,290.42 L329.44,291.78 L329.76,288.88 L330.08,290.19 L330.40,288.94 L330.72,287.05 L331.05,289.78 L331.37,288.93 L331.69,287.87 L332.01,287.61 L332.33,287.86 L332.65,288.64 L332.97,289.97 L333.29,288.67 L333.62,289.46 L333.94,286.30 L334.26,284.79 L334.58,285.18 L334.90,288.17 L335.22,284.49 L335.54,287.37 L335.86,288.26 L336.19,287.09 L336.51,285.46 L336.83,283.89 L337.15,286.70 L337.47,283.37 L337.79,282.26 L338.11,284.31 L338.43,286.23 L338.75,286.37 L339.08,283.81 L339.40,281.28 L339.72,283.12 L340.04,282.77 L340.36,283.60 L340.68,282.02 L341.00,281.94 L341.32,283.94 L341.65,283.44 L341.97,280.50 L342.29,281.76 L342.61,279.03 L342.93,281.12 L343.25,278.44 L343.57,281.35 L343.89,279.92 L344.22,282.47 L344.54,280.11 L344.86,278.17 L345.18,280.99 L345.50,278.92 L345.82,279.58 L346.14,280.27 L346.46,278.40 L346.79,278.86 L347.11,276.19 L347.43,277.35 L347.75,275.93 L348.07,277.95 L348.39,277.69 L348.71,276.09 L349.03,276.68 L349.36,274.65 L349.68,279.41 L350.00,278.80 L350.32,275.68 L350.64,279.10 L350.96,277.54 L351.28,276.18 L351.61,274.91 L351.93,276.84 L352.25,277.34 L352.57,276.95 L352.89,274.94 L353.21,277.03 L353.53,273.31 L353.85,276.23 L354.18,277.06 L354.50,271.78 L354.82,272.26 L355.14,274.85 L355.46,274.65 L355.78,271.52 L356.10,270.67 L356.42,275.45 L356.75,275.59 L357.07,274.96 L357.39,270.07 L357.71,273.64 L358.03,271.76 L358.35,271.12 L358.67,270.53 L358.99,272.60 L359.31,270.63 L359.64,269.11 L359.96,268.14 L360.28,268.01 L360.60,269.88 L360.92,271.37 L361.24,270.29 L361.56,272.28 L361.88,271.60 L362.21,271.42 L362.53,269.17 L362.85,268.80 L363.17,269.58 L363.49,269.00 L363.81,266.11 L364.13,268.01 L364.45,267.24 L364.78,267.21 L365.10,266.93 L365.42,266.79 L365.74,267.10 L366.06,265.13 L366.38,263.93 L366.70,268.62 L367.02,266.92 L367.35,263.87 L367.67,266.83 L367.99,266.29 L368.31,263.29 L368.63,262.71 L368.95,261.86 L369.27,260.47 L369.60,261.53 L369.92,265.19 L370.24,265.23 L370.56,262.84 L370.88,264.60 L371.20,258.65 L371.52,261.34 L371.84,263.60 L372.16,258.95 L372.49,257.15 L372.81,262.44 L373.13,260.15 L373.45,261.88 L373.77,256.32 L374.09,260.71 L374.41,258.92 L374.74,260.44 L375.06,256.75 L375.38,254.72 L375.70,258.27 L376.02,256.21 L376.34,254.82 L376.66,254.58 L376.98,253.96 L377.31,257.01 L377.63,257.88 L377.95,253.35 L378.27,253.79 L378.59,257.63 L378.91,253.80 L379.23,255.83 L379.55,253.15 L379.88,257.04 L380.20,255.43 L380.52,252.18 L380.84,253.69 L381.16,255.75 L381.48,252.92 L381.80,252.21 L382.12,253.88 L382.44,251.46 L382.77,251.68 L383.09,252.04 L383.41,253.24 L383.73,256.57 L384.05,257.10 L384.37,253.94 L384.69,256.19 L385.01,256.78 L385.34,257.80 L385.66,253.06 L385.98,256.19 L386.30,257.52 L386.62,256.65 L386.94,252.26 L387.26,257.40 L387.58,257.10 L387.91,256.13 L388.23,252.72 L388.55,253.11 L388.87,252.79 L389.19,256.41 L389.51,256.85 L389.83,253.88 L390.15,258.69 L390.48,256.19 L390.80,254.69 L391.12,257.71 L391.44,255.90 L391.76,255.83 L392.08,256.06 L392.40,259.93 L392.73,255.91 L393.05,257.08 L393.37,256.80 L393.69,260.41 L394.01,260.83 L394.33,259.67 L394.65,258.38 L394.97,257.97 L395.29,263.93 L395.62,262.37 L395.94,259.53 L396.26,263.49 L396.58,265.14 L396.90,261.86 L397.22,266.79 L397.54,262.69 L397.87,264.85 L398.19,265.38 L398.51,269.01 L398.83,266.75 L399.15,268.81 L399.47,269.29 L399.79,267.35 L400.11,268.95 L400.44,269.55 L400.76,269.41 L401.08,269.26 L401.40,269.68 L401.72,274.86 L402.04,275.09 L402.36,271.47 L402.68,276.62 L403.00,273.65 L403.33,276.50 L403.65,275.50 L403.97,276.10 L404.29,276.43 L404.61,274.93 L404.93,278.06 L405.25,277.24 L405.57,281.25 L405.90,280.32 L406.22,279.10 L406.54,282.48 L406.86,281.76 L407.18,282.59 L407.50,283.65 L407.82,284.18 L408.14,282.23 L408.47,285.96 L408.79,285.91 L409.11,286.55 L409.43,287.03 L409.75,285.20 L410.07,289.24 L410.39,288.62 L410.71,290.03 L411.04,287.72 L411.36,288.39 L411.68,291.51 L412.00,292.56 L412.32,291.80 L412.64,289.98 L412.96,291.16 L413.28,292.82 L413.61,291.17 L413.93,293.13 L414.25,294.64 L414.57,296.66 L414.89,296.26 L415.21,297.59 L415.53,295.44 L415.86,298.52 L416.18,296.52 L416.50,297.12 L416.82,299.08 L417.14,298.00 L417.46,297.59 L417.78,300.47 L418.10,298.61 L418.42,301.00 L418.75,299.51 L419.07,301.24 L419.39,302.88 L419.71,301.58 L420.03,301.17 L420.35,303.68 L420.67,304.02 L421.00,302.84 L421.32,303.90 L421.64,302.58 L421.96,302.10 L422.28,302.94 L422.60,304.26 L422.92,305.00 L423.24,303.25 L423.56,303.40 L423.89,304.02 L424.21,304.05 L424.53,304.46 L424.85,305.73 L425.17,304.75 L425.49,305.95 L425.81,305.80 L426.13,306.64 L426.46,305.83 L426.78,306.99 L427.10,305.45 L427.42,306.02 L427.74,305.18 L428.06,305.30 L428.38,305.79 L428.70,307.20 L429.03,307.41 L429.35,306.33 L429.67,306.13 L429.99,306.15 L430.31,306.83 L430.63,306.63 L430.95,308.04 L431.27,307.34 L431.60,306.58 L431.92,307.15 L432.24,306.97 L432.56,308.24 L432.88,306.40 L433.20,307.96 L433.52,306.76 L433.85,307.08 L434.17,306.30 L434.49,306.86 L434.81,307.08 L435.13,307.01 L435.45,307.92 L435.77,306.79 L436.09,307.27 L436.41,307.86 L436.74,307.89 L437.06,308.06 L437.38,307.20 L437.70,307.44 L438.02,308.60 L438.34,309.12 L438.66,307.39 L438.99,307.26 L439.31,308.99 L439.63,309.27 L439.95,308.07 L440.27,309.27 L440.59,308.55 L440.91,309.21 L441.23,307.53 L441.55,307.54 L441.88,309.18 L442.20,308.50 L442.52,307.85 L442.84,309.15 L443.16,307.77 L443.48,308.17 L443.80,309.18 L444.12,309.19" fill="none" stroke="#c3cbee" stroke-width="1.3" stroke-linejoin="round" stroke-linecap="round" />
<path d="M269.69,308.82 L270.01,308.97 L270.33,308.92 L270.65,308.32 L270.97,308.46 L271.29,308.92 L271.61,308.20 L271.94,309.20 L272.26,309.43 L272.58,308.88 L272.90,307.99 L273.22,308.20 L273.54,308.76 L273.86,308.47 L274.18,308.35 L274.50,307.60 L274.83,308.30 L275.15,308.26 L275.47,307.72 L275.79,309.43 L276.11,308.99 L276.43,309.36 L276.75,307.89 L277.07,308.75 L277.40,308.81 L277.72,307.82 L278.04,308.51 L278.36,308.75 L278.68,308.46 L279.00,308.33 L279.32,307.69 L279.64,307.68 L279.97,307.77 L280.29,308.13 L280.61,307.92 L280.93,307.42 L281.25,307.06 L281.57,309.08 L281.89,307.65 L282.21,308.78 L282.54,308.77 L282.86,307.08 L283.18,307.10 L283.50,307.15 L283.82,306.58 L284.14,307.03 L284.46,307.89 L284.79,308.05 L285.11,306.76 L285.43,307.54 L285.75,307.77 L286.07,307.91 L286.39,307.77 L286.71,307.90 L287.03,306.22 L287.36,306.26 L287.68,307.67 L288.00,306.93 L288.32,307.52 L288.64,307.52 L288.96,307.58 L289.28,307.37 L289.60,306.58 L289.93,307.75 L290.25,307.10 L290.57,306.55 L290.89,307.38 L291.21,306.07 L291.53,306.01 L291.85,306.60 L292.17,307.57 L292.50,305.40 L292.82,305.60 L293.14,305.03 L293.46,306.44 L293.78,305.90 L294.10,305.84 L294.42,305.44 L294.74,305.40 L295.06,305.92 L295.39,304.67 L295.71,305.50 L296.03,304.49 L296.35,305.44 L296.67,305.33 L296.99,305.01 L297.31,304.66 L297.63,305.98 L297.96,304.28 L298.28,305.05 L298.60,306.25 L298.92,304.42 L299.24,304.50 L299.56,305.20 L299.88,304.57 L300.20,305.33 L300.53,305.57 L300.85,303.53 L301.17,304.25 L301.49,304.07 L301.81,303.94 L302.13,304.40 L302.45,302.94 L302.77,303.12 L303.10,302.92 L303.42,303.42 L303.74,302.95 L304.06,302.80 L304.38,304.74 L304.70,303.61 L305.02,302.55 L305.35,301.75 L305.67,303.37 L305.99,303.17 L306.31,302.97 L306.63,301.15 L306.95,302.87 L307.27,303.40 L307.59,302.53 L307.92,302.76 L308.24,301.61 L308.56,301.58 L308.88,301.06 L309.20,302.64 L309.52,302.46 L309.84,301.65 L310.16,301.43 L310.49,300.57 L310.81,302.78 L311.13,299.43 L311.45,301.13 L311.77,300.10 L312.09,301.70 L312.41,302.16 L312.73,300.67 L313.06,301.02 L313.38,299.05 L313.70,301.71 L314.02,299.63 L314.34,301.00 L314.66,297.78 L314.98,298.73 L315.30,299.91 L315.62,297.81 L315.95,297.03 L316.27,298.03 L316.59,299.24 L316.91,299.69 L317.23,296.97 L317.55,298.32 L317.87,299.19 L318.19,298.60 L318.52,297.93 L318.84,297.18 L319.16,295.97 L319.48,295.96 L319.80,296.90 L320.12,295.68 L320.44,297.07 L320.76,295.08 L321.09,296.39 L321.41,294.54 L321.73,296.27 L322.05,296.89 L322.37,296.73 L322.69,294.63 L323.01,296.52 L323.33,293.10 L323.66,293.95 L323.98,293.32 L324.30,293.56 L324.62,291.97 L324.94,293.05 L325.26,293.85 L325.58,294.31 L325.90,292.83 L326.23,294.67 L326.55,293.42 L326.87,293.52 L327.19,293.75 L327.51,291.47 L327.83,293.05 L328.15,291.63 L328.48,290.58 L328.80,292.06 L329.12,292.03 L329.44,288.93 L329.76,291.68 L330.08,292.56 L330.40,288.25 L330.72,292.14 L331.05,289.61 L331.37,291.69 L331.69,289.06 L332.01,289.15 L332.33,289.86 L332.65,288.05 L332.97,287.53 L333.29,289.28 L333.62,287.61 L333.94,285.96 L334.26,286.99 L334.58,289.61 L334.90,288.66 L335.22,285.64 L335.54,287.20 L335.86,287.43 L336.19,285.21 L336.51,288.07 L336.83,288.59 L337.15,286.88 L337.47,287.29 L337.79,285.25 L338.11,284.28 L338.43,286.13 L338.75,286.88 L339.08,285.99 L339.40,282.93 L339.72,286.86 L340.04,286.20 L340.36,284.93 L340.68,282.37 L341.00,281.95 L341.32,281.46 L341.65,284.56 L341.97,283.19 L342.29,285.18 L342.61,280.90 L342.93,281.63 L343.25,281.02 L343.57,283.71 L343.89,283.08 L344.22,282.70 L344.54,281.32 L344.86,279.98 L345.18,280.45 L345.50,278.80 L345.82,281.69 L346.14,280.95 L346.46,280.44 L346.79,281.97 L347.11,277.96 L347.43,280.36 L347.75,277.47 L348.07,278.05 L348.39,279.95 L348.71,279.05 L349.03,280.76 L349.36,277.18 L349.68,277.71 L350.00,277.63 L350.32,277.03 L350.64,278.86 L350.96,276.88 L351.28,277.04 L351.61,278.92 L351.93,274.96 L352.25,277.87 L352.57,276.85 L352.89,276.21 L353.21,276.20 L353.53,274.56 L353.85,274.15 L354.18,277.16 L354.50,274.84 L354.82,274.25 L355.14,273.81 L355.46,275.96 L355.78,276.14 L356.10,275.46 L356.42,272.07 L356.75,274.16 L357.07,273.82 L357.39,272.30 L357.71,275.25 L358.03,273.15 L358.35,275.40 L358.67,273.25 L358.99,271.63 L359.31,274.93 L359.64,270.18 L359.96,271.60 L360.28,271.47 L360.60,269.82 L360.92,272.59 L361.24,270.47 L361.56,273.89 L361.88,273.49 L362.21,268.31 L362.53,268.97 L362.85,271.44 L363.17,271.44 L363.49,268.47 L363.81,268.85 L364.13,272.36 L364.45,271.84 L364.78,268.30 L365.10,270.02 L365.42,271.34 L365.74,269.27 L366.06,267.64 L366.38,270.41 L366.70,268.10 L367.02,268.39 L367.35,269.47 L367.67,264.19 L367.99,264.23 L368.31,263.68 L368.63,264.65 L368.95,268.50 L369.27,266.67 L369.60,264.25 L369.92,265.36 L370.24,264.08 L370.56,264.04 L370.88,262.87 L371.20,266.07 L371.52,264.67 L371.84,260.15 L372.16,263.21 L372.49,264.93 L372.81,261.24 L373.13,259.36 L373.45,258.60 L373.77,261.35 L374.09,260.08 L374.41,260.93 L374.74,261.54 L375.06,259.76 L375.38,260.61 L375.70,260.32 L376.02,259.94 L376.34,259.38 L376.66,257.24 L376.98,257.41 L377.31,259.76 L377.63,261.24 L377.95,255.77 L378.27,255.26 L378.59,257.62 L378.91,260.59 L379.23,260.06 L379.55,255.74 L379.88,258.12 L380.20,254.56 L380.52,259.15 L380.84,254.36 L381.16,259.90 L381.48,256.08 L381.80,255.75 L382.12,255.93 L382.44,254.46 L382.77,256.01 L383.09,255.06 L383.41,253.94 L383.73,256.75 L384.05,259.11 L384.37,258.66 L384.69,257.32 L385.01,254.69 L385.34,256.88 L385.66,255.65 L385.98,257.05 L386.30,259.80 L386.62,255.51 L386.94,257.76 L387.26,257.45 L387.58,257.38 L387.91,255.13 L388.23,260.63 L388.55,260.62 L388.87,256.46 L389.19,260.72 L389.51,258.27 L389.83,260.99 L390.15,257.68 L390.48,256.27 L390.80,262.32 L391.12,258.58 L391.44,256.79 L391.76,258.14 L392.08,259.08 L392.40,262.45 L392.73,263.55 L393.05,259.54 L393.37,258.90 L393.69,259.20 L394.01,264.90 L394.33,262.11 L394.65,260.37 L394.97,261.86 L395.29,263.50 L395.62,264.61 L395.94,264.46 L396.26,266.35 L396.58,264.84 L396.90,267.67 L397.22,267.22 L397.54,267.24 L397.87,264.76 L398.19,266.58 L398.51,266.88 L398.83,270.90 L399.15,271.42 L399.47,270.98 L399.79,271.41 L400.11,268.86 L400.44,268.75 L400.76,269.68 L401.08,272.33 L401.40,272.02 L401.72,276.49 L402.04,272.11 L402.36,275.57 L402.68,274.43 L403.00,274.31 L403.33,278.27 L403.65,278.86 L403.97,277.57 L404.29,278.15 L404.61,276.76 L404.93,279.85 L405.25,281.14 L405.57,282.39 L405.90,282.58 L406.22,283.04 L406.54,280.48 L406.86,284.68 L407.18,281.05 L407.50,282.35 L407.82,284.41 L408.14,285.76 L408.47,285.95 L408.79,286.36 L409.11,287.37 L409.43,286.43 L409.75,285.29 L410.07,286.97 L410.39,288.87 L410.71,290.04 L411.04,289.15 L411.36,290.35 L411.68,292.22 L412.00,291.70 L412.32,291.63 L412.64,291.85 L412.96,291.12 L413.28,292.82 L413.61,295.89 L413.93,294.49 L414.25,294.86 L414.57,296.19 L414.89,295.01 L415.21,296.39 L415.53,296.13 L415.86,297.72 L416.18,298.11 L416.50,299.64 L416.82,299.91 L417.14,298.86 L417.46,301.53 L417.78,300.39 L418.10,300.13 L418.42,299.70 L418.75,299.56 L419.07,301.06 L419.39,302.24 L419.71,301.39 L420.03,301.22 L420.35,302.61 L420.67,301.75 L421.00,302.29 L421.32,303.40 L421.64,304.31 L421.96,303.32 L422.28,304.58 L422.60,303.63 L422.92,303.26 L423.24,305.39 L423.56,305.09 L423.89,305.26 L424.21,305.64 L424.53,305.10 L424.85,303.94 L425.17,304.30 L425.49,305.53 L425.81,305.96 L426.13,304.34 L426.46,306.37 L426.78,306.97 L427.10,306.21 L427.42,307.06 L427.74,306.09 L428.06,306.89 L428.38,305.04 L428.70,306.47 L429.03,307.11 L429.35,307.30 L429.67,307.71 L429.99,306.45 L430.31,305.61 L430.63,307.45 L430.95,308.11 L431.27,308.06 L431.60,307.92 L431.92,305.89 L432.24,307.58 L432.56,308.22 L432.88,306.76 L433.20,307.58 L433.52,307.57 L433.85,307.12 L434.17,308.45 L434.49,306.55 L434.81,306.79 L435.13,308.19 L435.45,308.27 L435.77,307.67 L436.09,308.61 L436.41,307.12 L436.74,307.30 L437.06,306.89 L437.38,308.70 L437.70,307.57 L438.02,308.29 L438.34,308.05 L438.66,308.22 L438.99,307.69 L439.31,307.42 L439.63,308.89 L439.95,308.18 L440.27,308.02 L440.59,308.46 L440.91,307.51 L441.23,308.94 L441.55,308.17 L441.88,308.19 L442.20,308.12 L442.52,307.74 L442.84,309.07 L443.16,308.99 L443.48,309.26 L443.80,308.71 L444.12,309.38" fill="none" stroke="#6482cc" stroke-width="1.3" stroke-linejoin="round" stroke-linecap="round" />
<path d="M269.69,308.65 L270.01,308.84 L270.33,309.31 L270.65,308.40 L270.97,308.68 L271.29,308.45 L271.61,307.89 L271.94,309.54 L272.26,309.31 L272.58,309.18 L272.90,307.72 L273.22,309.40 L273.54,307.90 L273.86,309.38 L274.18,308.33 L274.50,307.63 L274.83,309.05 L275.15,307.60 L275.47,309.16 L275.79,307.77 L276.11,309.14 L276.43,307.55 L276.75,307.69 L277.07,308.81 L277.40,308.63 L277.72,308.84 L278.04,307.59 L278.36,308.48 L278.68,309.06 L279.00,308.96 L279.32,309.02 L279.64,308.67 L279.97,308.90 L280.29,308.22 L280.61,308.12 L280.93,308.37 L281.25,308.81 L281.57,307.40 L281.89,307.56 L282.21,308.76 L282.54,307.40 L282.86,307.10 L283.18,308.59 L283.50,308.97 L283.82,306.99 L284.14,306.74 L284.46,307.78 L284.79,307.88 L285.11,308.03 L285.43,307.90 L285.75,307.55 L286.07,306.59 L286.39,307.16 L286.71,307.38 L287.03,308.59 L287.36,307.34 L287.68,307.67 L288.00,307.65 L288.32,307.50 L288.64,307.59 L288.96,306.12 L289.28,306.35 L289.60,306.24 L289.93,306.77 L290.25,306.39 L290.57,307.86 L290.89,305.73 L291.21,305.58 L291.53,307.32 L291.85,305.47 L292.17,305.37 L292.50,305.87 L292.82,306.16 L293.14,306.40 L293.46,306.58 L293.78,306.96 L294.10,307.39 L294.42,305.50 L294.74,305.97 L295.06,305.72 L295.39,305.11 L295.71,306.08 L296.03,306.84 L296.35,305.01 L296.67,304.77 L296.99,304.48 L297.31,305.32 L297.63,306.97 L297.96,305.87 L298.28,304.28 L298.60,306.70 L298.92,304.42 L299.24,305.04 L299.56,305.40 L299.88,306.45 L300.20,306.08 L300.53,304.44 L300.85,306.21 L301.17,305.03 L301.49,305.64 L301.81,304.02 L302.13,304.92 L302.45,305.13 L302.77,305.89 L303.10,305.35 L303.42,304.51 L303.74,302.80 L304.06,304.73 L304.38,302.76 L304.70,305.23 L305.02,305.22 L305.35,304.86 L305.67,302.33 L305.99,303.84 L306.31,303.85 L306.63,304.24 L306.95,304.41 L307.27,301.91 L307.59,302.05 L307.92,301.30 L308.24,304.45 L308.56,302.69 L308.88,302.97 L309.20,303.79 L309.52,301.38 L309.84,301.74 L310.16,302.74 L310.49,301.58 L310.81,302.84 L311.13,301.57 L311.45,302.07 L311.77,301.84 L312.09,301.13 L312.41,303.11 L312.73,302.46 L313.06,300.42 L313.38,301.26 L313.70,301.32 L314.02,299.85 L314.34,299.45 L314.66,300.25 L314.98,300.72 L315.30,301.49 L315.62,300.30 L315.95,299.96 L316.27,299.67 L316.59,297.93 L316.91,298.80 L317.23,300.36 L317.55,299.72 L317.87,297.43 L318.19,300.34 L318.52,300.14 L318.84,299.88 L319.16,299.34 L319.48,297.51 L319.80,297.08 L320.12,297.34 L320.44,297.35 L320.76,295.73 L321.09,296.12 L321.41,297.92 L321.73,298.40 L322.05,295.09 L322.37,295.35 L322.69,295.46 L323.01,297.68 L323.33,296.07 L323.66,295.15 L323.98,296.31 L324.30,296.64 L324.62,295.82 L324.94,295.72 L325.26,296.42 L325.58,295.21 L325.90,295.41 L326.23,294.33 L326.55,296.05 L326.87,296.16 L327.19,294.40 L327.51,294.46 L327.83,295.46 L328.15,291.95 L328.48,292.78 L328.80,292.56 L329.12,293.49 L329.44,294.15 L329.76,293.15 L330.08,292.86 L330.40,293.64 L330.72,291.60 L331.05,292.81 L331.37,293.09 L331.69,291.56 L332.01,292.69 L332.33,289.15 L332.65,291.71 L332.97,292.04 L333.29,291.72 L333.62,288.83 L333.94,290.56 L334.26,290.92 L334.58,291.10 L334.90,292.04 L335.22,287.94 L335.54,288.24 L335.86,290.19 L336.19,287.05 L336.51,288.75 L336.83,286.71 L337.15,289.30 L337.47,289.11 L337.79,286.40 L338.11,286.39 L338.43,287.14 L338.75,286.80 L339.08,287.48 L339.40,287.77 L339.72,286.31 L340.04,284.61 L340.36,284.61 L340.68,288.34 L341.00,284.86 L341.32,288.40 L341.65,285.65 L341.97,284.19 L342.29,286.01 L342.61,283.35 L342.93,284.02 L343.25,285.57 L343.57,284.27 L343.89,282.65 L344.22,285.37 L344.54,283.16 L344.86,286.61 L345.18,282.51 L345.50,282.21 L345.82,282.64 L346.14,285.17 L346.46,285.37 L346.79,284.86 L347.11,281.68 L347.43,282.43 L347.75,283.00 L348.07,282.77 L348.39,284.74 L348.71,283.76 L349.03,282.19 L349.36,280.12 L349.68,284.47 L350.00,284.29 L350.32,283.24 L350.64,282.72 L350.96,282.55 L351.28,283.41 L351.61,282.26 L351.93,281.19 L352.25,280.84 L352.57,281.04 L352.89,277.88 L353.21,280.76 L353.53,277.81 L353.85,281.81 L354.18,277.52 L354.50,278.29 L354.82,280.67 L355.14,277.29 L355.46,277.31 L355.78,278.78 L356.10,281.07 L356.42,281.12 L356.75,276.04 L357.07,275.49 L357.39,276.17 L357.71,279.44 L358.03,278.45 L358.35,279.32 L358.67,277.30 L358.99,276.67 L359.31,278.74 L359.64,275.98 L359.96,278.33 L360.28,276.78 L360.60,273.92 L360.92,273.28 L361.24,275.67 L361.56,274.62 L361.88,278.12 L362.21,272.60 L362.53,274.86 L362.85,276.19 L363.17,273.51 L363.49,275.40 L363.81,273.49 L364.13,272.34 L364.45,271.28 L364.78,274.04 L365.10,274.32 L365.42,273.43 L365.74,271.93 L366.06,270.33 L366.38,270.55 L366.70,274.39 L367.02,271.29 L367.35,272.39 L367.67,269.58 L367.99,269.75 L368.31,268.45 L368.63,273.70 L368.95,269.10 L369.27,269.82 L369.60,267.92 L369.92,269.32 L370.24,272.26 L370.56,268.40 L370.88,265.83 L371.20,268.00 L371.52,268.94 L371.84,267.02 L372.16,264.89 L372.49,268.56 L372.81,266.79 L373.13,269.40 L373.45,269.62 L373.77,267.14 L374.09,267.87 L374.41,267.52 L374.74,263.17 L375.06,266.24 L375.38,267.10 L375.70,266.99 L376.02,265.55 L376.34,266.36 L376.66,266.54 L376.98,266.49 L377.31,262.56 L377.63,267.17 L377.95,266.35 L378.27,261.20 L378.59,262.35 L378.91,260.87 L379.23,263.53 L379.55,261.00 L379.88,262.77 L380.20,262.13 L380.52,263.50 L380.84,261.72 L381.16,260.37 L381.48,259.61 L381.80,265.35 L382.12,261.99 L382.44,263.64 L382.77,259.99 L383.09,259.97 L383.41,262.96 L383.73,263.63 L384.05,265.52 L384.37,261.31 L384.69,265.26 L385.01,265.91 L385.34,262.14 L385.66,263.46 L385.98,260.43 L386.30,264.21 L386.62,265.09 L386.94,265.40 L387.26,264.06 L387.58,262.40 L387.91,261.28 L388.23,263.21 L388.55,264.59 L388.87,260.99 L389.19,262.95 L389.51,266.45 L389.83,264.97 L390.15,267.12 L390.48,262.21 L390.80,264.86 L391.12,263.36 L391.44,266.03 L391.76,268.30 L392.08,266.42 L392.40,268.66 L392.73,267.67 L393.05,264.48 L393.37,268.62 L393.69,267.93 L394.01,268.18 L394.33,270.02 L394.65,265.54 L394.97,269.78 L395.29,270.66 L395.62,265.86 L395.94,269.73 L396.26,269.69 L396.58,269.71 L396.90,269.42 L397.22,268.48 L397.54,271.51 L397.87,273.93 L398.19,273.93 L398.51,269.91 L398.83,273.68 L399.15,272.82 L399.47,276.45 L399.79,276.46 L400.11,274.53 L400.44,274.34 L400.76,273.52 L401.08,276.28 L401.40,275.34 L401.72,279.21 L402.04,278.25 L402.36,278.73 L402.68,276.97 L403.00,277.69 L403.33,278.53 L403.65,278.88 L403.97,279.13 L404.29,280.75 L404.61,282.37 L404.93,282.68 L405.25,282.67 L405.57,283.61 L405.90,281.79 L406.22,284.07 L406.54,285.82 L406.86,283.10 L407.18,286.80 L407.50,288.52 L407.82,289.27 L408.14,289.71 L408.47,287.02 L408.79,287.46 L409.11,286.88 L409.43,287.28 L409.75,290.60 L410.07,290.22 L410.39,288.68 L410.71,292.29 L411.04,293.29 L411.36,292.82 L411.68,292.24 L412.00,292.44 L412.32,291.66 L412.64,293.06 L412.96,296.68 L413.28,296.56 L413.61,294.19 L413.93,297.55 L414.25,294.61 L414.57,295.77 L414.89,297.01 L415.21,296.71 L415.53,299.65 L415.86,299.97 L416.18,300.32 L416.50,300.09 L416.82,300.58 L417.14,301.97 L417.46,301.88 L417.78,301.72 L418.10,303.21 L418.42,300.05 L418.75,301.84 L419.07,302.41 L419.39,303.47 L419.71,301.69 L420.03,303.00 L420.35,303.49 L420.67,303.99 L421.00,304.72 L421.32,303.91 L421.64,305.64 L421.96,303.39 L422.28,305.65 L422.60,304.94 L422.92,305.67 L423.24,306.20 L423.56,306.12 L423.89,306.32 L424.21,305.12 L424.53,304.61 L424.85,305.39 L425.17,305.66 L425.49,305.91 L425.81,306.42 L426.13,307.20 L426.46,304.81 L426.78,305.16 L427.10,305.55 L427.42,305.98 L427.74,306.02 L428.06,305.21 L428.38,305.75 L428.70,305.88 L429.03,306.85 L429.35,306.28 L429.67,307.75 L429.99,305.66 L430.31,307.51 L430.63,306.70 L430.95,307.85 L431.27,306.47 L431.60,308.28 L431.92,306.52 L432.24,306.46 L432.56,308.34 L432.88,307.86 L433.20,308.11 L433.52,307.37 L433.85,308.56 L434.17,308.57 L434.49,308.41 L434.81,308.41 L435.13,308.75 L435.45,306.99 L435.77,308.59 L436.09,307.10 L436.41,308.29 L436.74,307.45 L437.06,307.77 L437.38,307.55 L437.70,307.27 L438.02,308.19 L438.34,308.98 L438.66,307.90 L438.99,307.57 L439.31,308.93 L439.63,307.82 L439.95,307.53 L440.27,307.46 L440.59,308.83 L440.91,309.38 L441.23,308.87 L441.55,308.67 L441.88,308.97 L442.20,309.08 L442.52,309.56 L442.84,308.91 L443.16,308.06 L443.48,309.62 L443.80,309.09 L444.12,308.64" fill="none" stroke="#54688e" stroke-width="1.3" stroke-linejoin="round" stroke-linecap="round" />
<rect x="269.5" y="181.5" width="180.0" height="132.0" fill="none" stroke="#1e1e1e" stroke-width="1.2"/>
<line x1="283.5" y1="313.75" x2="283.5" y2="316.75" stroke="#1e1e1e" stroke-width="1.1" />
<text x="283.5" y="321.5" font-size="8.7" text-anchor="middle" dominant-baseline="central" fill="#111"  stroke="#111" stroke-width="0.12">600</text>
<line x1="347.5" y1="313.75" x2="347.5" y2="316.75" stroke="#1e1e1e" stroke-width="1.1" />
<text x="347.75" y="321.5" font-size="8.7" text-anchor="middle" dominant-baseline="central" fill="#111"  stroke="#111" stroke-width="0.12">800</text>
<line x1="411.5" y1="313.75" x2="411.5" y2="316.75" stroke="#1e1e1e" stroke-width="1.1" />
<text x="411.75" y="321.5" font-size="8.7" text-anchor="middle" dominant-baseline="central" fill="#111"  stroke="#111" stroke-width="0.12">1000</text>
<line x1="315.5" y1="313.75" x2="315.5" y2="315.55" stroke="#1e1e1e" stroke-width="1.1" />
<line x1="379.5" y1="313.75" x2="379.5" y2="315.55" stroke="#1e1e1e" stroke-width="1.1" />
<line x1="443.5" y1="313.75" x2="443.5" y2="315.55" stroke="#1e1e1e" stroke-width="1.1" />
<text x="360" y="332.7" font-size="10.6" text-anchor="middle" dominant-baseline="central" fill="#111"  stroke="#111" stroke-width="0.12">Wavelength (nm)</text>
<text x="251.0" y="248" font-size="10.3" text-anchor="middle" dominant-baseline="central" fill="#111" transform="rotate(-90 251.0 248)"  stroke="#111" stroke-width="0.12">Intensity (a.u.)</text>
<text x="418.4" y="195" font-size="8.9" text-anchor="middle" dominant-baseline="central" fill="#111"  stroke="#111" stroke-width="0.12">RF/C-TaSA</text>
<line x1="279.5" y1="193.75" x2="288.75" y2="193.75" stroke="#a7ccee" stroke-width="1.25" />
<text x="291.25" y="193.75" font-size="8.8" text-anchor="start" dominant-baseline="central" fill="#111"  stroke="#111" stroke-width="0.12">77 k</text>
<line x1="279.5" y1="204.39" x2="288.75" y2="204.39" stroke="#86b6e6" stroke-width="1.25" />
<text x="291.25" y="204.39" font-size="8.8" text-anchor="start" dominant-baseline="central" fill="#111"  stroke="#111" stroke-width="0.12">100 k</text>
<line x1="279.5" y1="215.03" x2="288.75" y2="215.03" stroke="#6a9ed8" stroke-width="1.25" />
<text x="291.25" y="215.03" font-size="8.8" text-anchor="start" dominant-baseline="central" fill="#111"  stroke="#111" stroke-width="0.12">120 k</text>
<line x1="279.5" y1="225.67000000000002" x2="288.75" y2="225.67000000000002" stroke="#2f4a9a" stroke-width="1.25" />
<text x="291.25" y="225.67000000000002" font-size="8.8" text-anchor="start" dominant-baseline="central" fill="#111"  stroke="#111" stroke-width="0.12">140 k</text>
<line x1="279.5" y1="236.31" x2="288.75" y2="236.31" stroke="#3b5478" stroke-width="1.25" />
<text x="291.25" y="236.31" font-size="8.8" text-anchor="start" dominant-baseline="central" fill="#111"  stroke="#111" stroke-width="0.12">160 k</text>
<line x1="279.5" y1="246.95" x2="288.75" y2="246.95" stroke="#7388d2" stroke-width="1.25" />
<text x="291.25" y="246.95" font-size="8.8" text-anchor="start" dominant-baseline="central" fill="#111"  stroke="#111" stroke-width="0.12">180 k</text>
<line x1="279.5" y1="257.59000000000003" x2="288.75" y2="257.59000000000003" stroke="#8890c6" stroke-width="1.25" />
<text x="291.25" y="257.59000000000003" font-size="8.8" text-anchor="start" dominant-baseline="central" fill="#111"  stroke="#111" stroke-width="0.12">200 k</text>
<line x1="279.5" y1="268.23" x2="288.75" y2="268.23" stroke="#c3cbee" stroke-width="1.25" />
<text x="291.25" y="268.23" font-size="8.8" text-anchor="start" dominant-baseline="central" fill="#111"  stroke="#111" stroke-width="0.12">230 k</text>
<line x1="279.5" y1="278.87" x2="288.75" y2="278.87" stroke="#6482cc" stroke-width="1.25" />
<text x="291.25" y="278.87" font-size="8.8" text-anchor="start" dominant-baseline="central" fill="#111"  stroke="#111" stroke-width="0.12">260 k</text>
<line x1="279.5" y1="289.51" x2="288.75" y2="289.51" stroke="#54688e" stroke-width="1.25" />
<text x="291.25" y="289.51" font-size="8.8" text-anchor="start" dominant-baseline="central" fill="#111"  stroke="#111" stroke-width="0.12">298 k</text>
<text x="468.8" y="185.7" font-size="12.5" fill="#111" stroke="#111" stroke-width="0.12">f</text>
<path d="M516.86,308.83 L518.76,306.57 L520.67,304.28 L522.58,301.98 L524.49,299.65 L526.39,297.31 L528.30,294.95 L530.21,292.58 L532.11,290.21 L534.02,287.82 L535.93,285.44 L537.84,283.06 L539.74,280.68 L541.65,278.30 L543.56,275.94 L545.47,273.59 L547.37,271.25 L549.28,268.93 L551.19,266.63 L553.10,264.36 L555.00,262.11 L556.91,259.88 L558.82,257.69 L560.73,255.53 L562.63,253.41 L564.54,251.32 L566.45,249.26 L568.35,247.25 L570.26,245.28 L572.17,243.34 L574.08,241.46 L575.98,239.61 L577.89,237.81 L579.80,236.05 L581.71,234.34 L583.61,232.68 L585.52,231.06 L587.43,229.48 L589.34,227.95 L591.24,226.47 L593.15,225.03 L595.06,223.64 L596.96,222.29 L598.87,220.99 L600.78,219.73 L602.69,218.52 L604.59,217.34 L606.50,216.21 L608.41,215.12 L610.32,214.06 L612.22,213.05 L614.13,212.07 L616.04,211.13 L617.95,210.23 L619.85,209.36 L621.76,208.53 L623.67,207.73 L625.57,206.96 L627.48,206.23 L629.39,205.52 L631.30,204.84 L633.20,204.19 L635.11,203.57 L637.02,202.97 L638.93,202.40 L640.83,201.86 L642.74,201.33 L644.65,200.83 L646.56,200.35 L648.46,199.90 L650.37,199.46 L652.28,199.04 L654.19,198.64 L656.09,198.26 L658.00,197.90 L659.91,197.55 L661.81,197.22 L663.72,196.90 L665.63,196.60 L667.54,196.31 L669.44,196.03" fill="none" stroke="#4a88e4" stroke-width="1.1" stroke-linejoin="round" stroke-linecap="round" />
<rect x="515.5" y="296.4" width="4.2" height="4.2" fill="#3f7fe2"/>
<rect x="523.1999999999999" y="293.7" width="4.2" height="4.2" fill="#3f7fe2"/>
<rect x="530.8" y="284.9" width="4.2" height="4.2" fill="#3f7fe2"/>
<rect x="541.1" y="272.7" width="4.2" height="4.2" fill="#3f7fe2"/>
<rect x="549.9" y="264.29999999999995" width="4.2" height="4.2" fill="#3f7fe2"/>
<rect x="560.6" y="251.70000000000002" width="4.2" height="4.2" fill="#3f7fe2"/>
<rect x="574.8" y="236.4" width="4.2" height="4.2" fill="#3f7fe2"/>
<rect x="593.9" y="214.6" width="4.2" height="4.2" fill="#3f7fe2"/>
<rect x="620.6" y="205.1" width="4.2" height="4.2" fill="#3f7fe2"/>
<rect x="667.6" y="189.4" width="4.2" height="4.2" fill="#3f7fe2"/>
<rect x="504.5" y="181.5" width="179.0" height="132.0" fill="none" stroke="#1e1e1e" stroke-width="1.2"/>
<line x1="501.5" y1="191.5" x2="504.5" y2="191.5" stroke="#1e1e1e" stroke-width="1.1" />
<text x="500" y="191.25" font-size="8.7" text-anchor="end" dominant-baseline="central" fill="#111"  stroke="#111" stroke-width="0.12">1.0</text>
<line x1="501.5" y1="229.5" x2="504.5" y2="229.5" stroke="#1e1e1e" stroke-width="1.1" />
<text x="500" y="229.25" font-size="8.7" text-anchor="end" dominant-baseline="central" fill="#111"  stroke="#111" stroke-width="0.12">0.8</text>
<line x1="501.5" y1="267.5" x2="504.5" y2="267.5" stroke="#1e1e1e" stroke-width="1.1" />
<text x="500" y="267.25" font-size="8.7" text-anchor="end" dominant-baseline="central" fill="#111"  stroke="#111" stroke-width="0.12">0.6</text>
<line x1="501.5" y1="305.5" x2="504.5" y2="305.5" stroke="#1e1e1e" stroke-width="1.1" />
<text x="500" y="305.25" font-size="8.7" text-anchor="end" dominant-baseline="central" fill="#111"  stroke="#111" stroke-width="0.12">0.4</text>
<line x1="502.7" y1="210.5" x2="504.5" y2="210.5" stroke="#1e1e1e" stroke-width="1.1" />
<line x1="502.7" y1="248.5" x2="504.5" y2="248.5" stroke="#1e1e1e" stroke-width="1.1" />
<line x1="502.7" y1="286.5" x2="504.5" y2="286.5" stroke="#1e1e1e" stroke-width="1.1" />
<line x1="527.5" y1="313.75" x2="527.5" y2="316.75" stroke="#1e1e1e" stroke-width="1.1" />
<text x="527" y="321.5" font-size="8.7" text-anchor="middle" dominant-baseline="central" fill="#111"  stroke="#111" stroke-width="0.12">0.004</text>
<line x1="590.5" y1="313.75" x2="590.5" y2="316.75" stroke="#1e1e1e" stroke-width="1.1" />
<text x="590.5" y="321.5" font-size="8.7" text-anchor="middle" dominant-baseline="central" fill="#111"  stroke="#111" stroke-width="0.12">0.008</text>
<line x1="654.5" y1="313.75" x2="654.5" y2="316.75" stroke="#1e1e1e" stroke-width="1.1" />
<text x="654" y="321.5" font-size="8.7" text-anchor="middle" dominant-baseline="central" fill="#111"  stroke="#111" stroke-width="0.12">0.012</text>
<line x1="558.5" y1="313.75" x2="558.5" y2="315.55" stroke="#1e1e1e" stroke-width="1.1" />
<line x1="622.5" y1="313.75" x2="622.5" y2="315.55" stroke="#1e1e1e" stroke-width="1.1" />
<text x="594.3" y="333" font-size="11.3" text-anchor="middle" dominant-baseline="central" fill="#111" textLength="46" lengthAdjust="spacingAndGlyphs"  stroke="#111" stroke-width="0.12">1/T (1/K)</text>
<text x="478.4" y="244.3" font-size="11.0" text-anchor="middle" dominant-baseline="central" fill="#111" transform="rotate(-90 478.4 244.3)"  stroke="#111" stroke-width="0.12">Intergrated Intensity (a.u.)</text>
<text x="515" y="195" font-size="8.9" text-anchor="start" dominant-baseline="central" fill="#111"  stroke="#111" stroke-width="0.12">RF/C-TaSA</text>
<line x1="608" y1="230" x2="616.25" y2="230" stroke="#4a88e4" stroke-width="1.3" />
<text x="619.5" y="230" font-size="8.9" text-anchor="start" dominant-baseline="central" fill="#111"  stroke="#111" stroke-width="0.12">Fitting Curve</text>
<text x="610" y="280" font-size="8.9" text-anchor="start" dominant-baseline="central" fill="#111"  stroke="#111" stroke-width="0.12">R = 0.986</text>
<text x="610" y="292" font-size="8.9" dominant-baseline="central" fill="#111" stroke="#111" stroke-width="0.12">E<tspan font-size="6.2" dy="2">b</tspan><tspan dx="1.2" dy="-2">= 35.8 meV</tspan></text>
<rect x="683.2" y="215.3" width="1.8" height="1.6" fill="#9cf06a"/>
<rect x="683.2" y="217.0" width="1.8" height="3.6" fill="#f28a7a"/>
<rect x="683.2" y="220.7" width="1.8" height="1.2" fill="#d8f06a"/>
<rect x="683.2" y="223.6" width="1.8" height="2.2" fill="#f07af0"/>
</svg></body></html>
